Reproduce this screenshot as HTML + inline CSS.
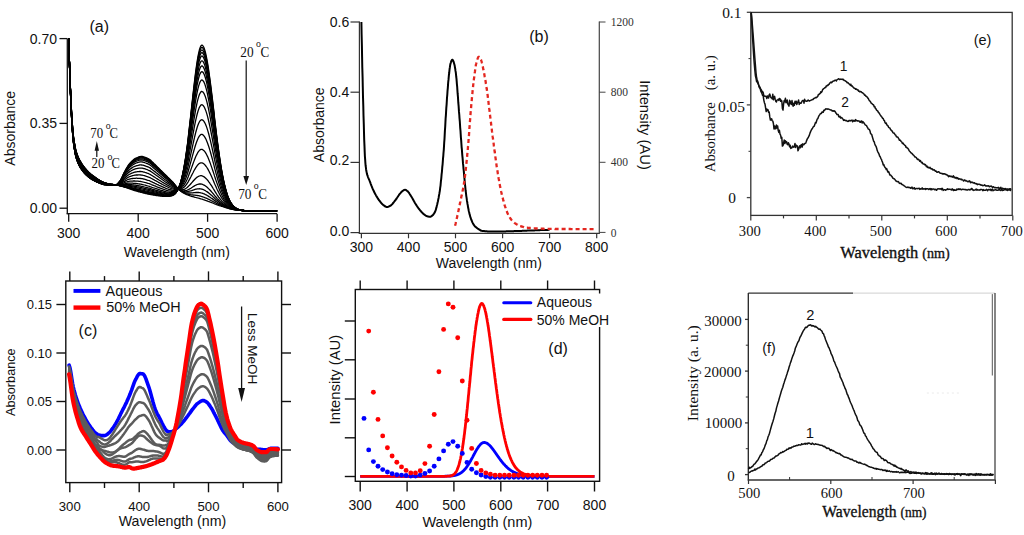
<!DOCTYPE html><html><head><meta charset="utf-8"><style>html,body{margin:0;padding:0;background:#fff;}svg{display:block;}body{overflow:hidden;width:1024px;height:535px;}</style></head><body>
<svg width="1024" height="535" viewBox="0 0 1024 535">
<rect width="1024" height="535" fill="#fff"/>
<line x1="67.3" y1="38.5" x2="67.3" y2="214.3" stroke="#111" stroke-width="1.3" />
<line x1="66.7" y1="213.7" x2="277.0" y2="213.7" stroke="#111" stroke-width="1.3" />
<line x1="59.5" y1="38.6" x2="67.3" y2="38.6" stroke="#111" stroke-width="1.3" />
<text x="57.0" y="43.6" font-size="14" text-anchor="end" font-family="&apos;Liberation Sans&apos;, sans-serif" fill="#111" >0.70</text>
<line x1="59.5" y1="123.4" x2="67.3" y2="123.4" stroke="#111" stroke-width="1.3" />
<text x="57.0" y="128.4" font-size="14" text-anchor="end" font-family="&apos;Liberation Sans&apos;, sans-serif" fill="#111" >0.35</text>
<line x1="59.5" y1="208.2" x2="67.3" y2="208.2" stroke="#111" stroke-width="1.3" />
<text x="57.0" y="213.2" font-size="14" text-anchor="end" font-family="&apos;Liberation Sans&apos;, sans-serif" fill="#111" >0.00</text>
<line x1="68.7" y1="213.7" x2="68.7" y2="221.8" stroke="#111" stroke-width="1.3" />
<text x="68.7" y="238.3" font-size="14" text-anchor="middle" font-family="&apos;Liberation Sans&apos;, sans-serif" fill="#111" >300</text>
<line x1="138.2" y1="213.7" x2="138.2" y2="221.8" stroke="#111" stroke-width="1.3" />
<text x="138.2" y="238.3" font-size="14" text-anchor="middle" font-family="&apos;Liberation Sans&apos;, sans-serif" fill="#111" >400</text>
<line x1="207.6" y1="213.7" x2="207.6" y2="221.8" stroke="#111" stroke-width="1.3" />
<text x="207.6" y="238.3" font-size="14" text-anchor="middle" font-family="&apos;Liberation Sans&apos;, sans-serif" fill="#111" >500</text>
<line x1="277.1" y1="213.7" x2="277.1" y2="221.8" stroke="#111" stroke-width="1.3" />
<text x="277.1" y="238.3" font-size="14" text-anchor="middle" font-family="&apos;Liberation Sans&apos;, sans-serif" fill="#111" >600</text>
<text x="176.8" y="257.0" font-size="14" text-anchor="middle" font-family="&apos;Liberation Sans&apos;, sans-serif" fill="#111" >Wavelength (nm)</text>
<text x="0" y="0" font-size="14" text-anchor="middle" dominant-baseline="central" font-family="&apos;Liberation Sans&apos;, sans-serif" fill="#111" transform="translate(10.3 128.3) rotate(-90)" >Absorbance</text>
<text x="99.2" y="32.2" font-size="16" text-anchor="middle" font-family="&apos;Liberation Sans&apos;, sans-serif" fill="#111" >(a)</text>
<g fill="none" stroke="#000" stroke-width="1.3" stroke-linejoin="round">
<path d="M68.7 38.6L69.4 61.7L70.1 82.2L70.8 100.8L71.5 116.1L72.2 127.8L72.9 137.4L73.6 143.8L74.3 148.5L75.0 152.4L75.6 155.6L76.3 158.2L77.0 160.3L77.7 162.2L78.4 163.8L79.1 165.3L79.8 166.6L80.5 167.9L81.2 168.9L81.9 170.0L82.6 170.9L83.3 171.8L84.0 172.7L84.7 173.4L85.4 174.2L86.1 174.9L86.8 175.5L87.5 176.1L88.1 176.7L88.8 177.3L89.5 177.8L90.2 178.3L90.9 178.7L91.6 179.2L92.3 179.6L93.0 180.0L93.7 180.4L94.4 180.8L95.1 181.1L95.8 181.5L96.5 181.8L97.2 182.1L97.9 182.5L98.6 182.7L99.3 183.0L100.0 183.3L100.6 183.5L101.3 183.8L102.0 184.1L102.7 184.3L103.4 184.5L104.1 184.6L104.8 184.7L105.5 184.7L106.2 184.8L106.9 184.8L107.6 184.9L108.3 184.9L109.0 184.9L109.7 184.9L110.4 184.9L111.1 185.0L111.8 185.0L112.5 185.0L113.1 185.0L113.8 185.0L114.5 185.0L115.2 185.0L115.9 185.1L116.6 185.1L117.3 185.2L118.0 185.3L118.7 185.5L119.4 185.6L120.1 185.8L120.8 186.0L121.5 186.3L122.2 186.5L122.9 186.7L123.6 186.9L124.3 187.1L125.0 187.3L125.6 187.5L126.3 187.7L127.0 188.0L127.7 188.2L128.4 188.4L129.1 188.7L129.8 188.9L130.5 189.2L131.2 189.4L131.9 189.7L132.6 189.9L133.3 190.1L134.0 190.4L134.7 190.6L135.4 190.8L136.1 191.0L136.8 191.2L137.5 191.4L138.2 191.6L138.8 191.8L139.5 192.0L140.2 192.2L140.9 192.3L141.6 192.5L142.3 192.7L143.0 192.9L143.7 193.1L144.4 193.2L145.1 193.4L145.8 193.6L146.5 193.7L147.2 193.9L147.9 194.0L148.6 194.1L149.3 194.3L150.0 194.4L150.7 194.5L151.3 194.7L152.0 194.8L152.7 194.9L153.4 195.0L154.1 195.1L154.8 195.2L155.5 195.4L156.2 195.5L156.9 195.6L157.6 195.7L158.3 195.8L159.0 195.9L159.7 195.9L160.4 196.0L161.1 196.1L161.8 196.2L162.5 196.3L163.2 196.3L163.8 196.4L164.5 196.4L165.2 196.4L165.9 196.4L166.6 196.4L167.3 196.4L168.0 196.4L168.7 196.3L169.4 196.3L170.1 196.2L170.8 196.0L171.5 195.8L172.2 195.6L172.9 195.3L173.6 194.9L174.3 194.4L175.0 193.8L175.7 193.1L176.3 192.2L177.0 191.2L177.7 189.9L178.4 188.4L179.1 186.7L179.8 184.8L180.5 182.6L181.2 180.1L181.9 177.4L182.6 174.3L183.3 170.9L184.0 167.2L184.7 163.2L185.4 158.8L186.1 154.1L186.8 149.1L187.5 143.8L188.2 138.3L188.8 132.4L189.5 126.4L190.2 120.2L190.9 113.8L191.6 107.4L192.3 101.0L193.0 94.6L193.7 88.4L194.4 82.3L195.1 76.4L195.8 70.9L196.5 65.8L197.2 61.1L197.9 56.9L198.6 53.3L199.3 50.3L200.0 47.9L200.7 46.3L201.3 45.3L202.0 45.1L202.7 45.5L203.4 46.5L204.1 48.0L204.8 50.1L205.5 52.7L206.2 55.8L206.9 59.4L207.6 63.3L208.3 67.7L209.0 72.5L209.7 77.5L210.4 82.8L211.1 88.4L211.8 94.1L212.5 99.9L213.2 105.8L213.9 111.7L214.5 117.6L215.2 123.5L215.9 129.3L216.6 135.0L217.3 140.5L218.0 145.8L218.7 151.0L219.4 155.9L220.1 160.6L220.8 165.1L221.5 169.3L222.2 173.3L222.9 176.9L223.6 180.4L224.3 183.6L225.0 186.5L225.7 189.2L226.4 191.6L227.0 193.8L227.7 195.9L228.4 197.7L229.1 199.3L229.8 200.8L230.5 202.1L231.2 203.2L231.9 204.2L232.6 205.2L233.3 205.9L234.0 206.6L234.7 207.3L235.4 207.8L236.1 208.2L236.8 208.6L237.5 209.0L238.2 209.3L238.9 209.5L239.5 209.8L240.2 209.9L240.9 210.1L241.6 210.2L242.3 210.3L243.0 210.4L243.7 210.5L244.4 210.6L245.1 210.7L245.8 210.7L246.5 210.7L247.2 210.8L247.9 210.8L248.6 210.8L249.3 210.8L250.0 210.8L250.7 210.8L251.4 210.8L252.0 210.8L252.7 210.9L253.4 210.9L254.1 210.9L254.8 210.9L255.5 210.9L256.2 210.9L256.9 210.9L257.6 210.9L258.3 210.9L259.0 210.9L259.7 210.9L260.4 210.9L261.1 210.9L261.8 210.9L262.5 210.9L263.2 210.9L263.9 210.9L264.5 210.9L265.2 210.9L265.9 210.9L266.6 210.9L267.3 210.9L268.0 210.9L268.7 210.9L269.4 210.9L270.1 210.9L270.8 210.9L271.5 210.9L272.2 210.9L272.9 210.9L273.6 210.9L274.3 210.9L275.0 210.9L275.7 210.9L276.4 210.9L277.1 210.9"/>
<path d="M68.7 38.6L69.4 61.7L70.1 82.2L70.8 100.8L71.5 116.1L72.2 127.7L72.9 137.3L73.6 143.7L74.3 148.4L75.0 152.3L75.6 155.5L76.3 158.1L77.0 160.2L77.7 162.1L78.4 163.7L79.1 165.2L79.8 166.6L80.5 167.8L81.2 168.9L81.9 169.9L82.6 170.8L83.3 171.7L84.0 172.6L84.7 173.4L85.4 174.1L86.1 174.8L86.8 175.4L87.5 176.0L88.1 176.6L88.8 177.2L89.5 177.7L90.2 178.2L90.9 178.7L91.6 179.1L92.3 179.6L93.0 180.0L93.7 180.4L94.4 180.7L95.1 181.1L95.8 181.4L96.5 181.8L97.2 182.1L97.9 182.4L98.6 182.7L99.3 183.0L100.0 183.2L100.6 183.5L101.3 183.8L102.0 184.0L102.7 184.2L103.4 184.4L104.1 184.6L104.8 184.7L105.5 184.7L106.2 184.8L106.9 184.8L107.6 184.8L108.3 184.9L109.0 184.9L109.7 184.9L110.4 184.9L111.1 184.9L111.8 185.0L112.5 185.0L113.1 185.0L113.8 185.0L114.5 185.0L115.2 185.0L115.9 185.1L116.6 185.1L117.3 185.2L118.0 185.3L118.7 185.4L119.4 185.6L120.1 185.8L120.8 186.0L121.5 186.1L122.2 186.3L122.9 186.5L123.6 186.7L124.3 186.9L125.0 187.1L125.6 187.3L126.3 187.5L127.0 187.7L127.7 187.9L128.4 188.1L129.1 188.3L129.8 188.5L130.5 188.8L131.2 189.0L131.9 189.2L132.6 189.5L133.3 189.7L134.0 189.9L134.7 190.1L135.4 190.3L136.1 190.5L136.8 190.7L137.5 190.9L138.2 191.1L138.8 191.3L139.5 191.4L140.2 191.6L140.9 191.8L141.6 192.0L142.3 192.2L143.0 192.3L143.7 192.5L144.4 192.7L145.1 192.8L145.8 193.0L146.5 193.2L147.2 193.3L147.9 193.5L148.6 193.6L149.3 193.8L150.0 193.9L150.7 194.0L151.3 194.2L152.0 194.3L152.7 194.4L153.4 194.5L154.1 194.7L154.8 194.8L155.5 194.9L156.2 195.0L156.9 195.1L157.6 195.2L158.3 195.3L159.0 195.4L159.7 195.5L160.4 195.6L161.1 195.7L161.8 195.8L162.5 195.9L163.2 196.0L163.8 196.0L164.5 196.1L165.2 196.1L165.9 196.1L166.6 196.1L167.3 196.1L168.0 196.1L168.7 196.1L169.4 196.0L170.1 195.9L170.8 195.8L171.5 195.6L172.2 195.4L172.9 195.1L173.6 194.8L174.3 194.3L175.0 193.7L175.7 193.0L176.3 192.1L177.0 191.1L177.7 189.9L178.4 188.4L179.1 186.8L179.8 184.9L180.5 182.7L181.2 180.3L181.9 177.6L182.6 174.6L183.3 171.3L184.0 167.6L184.7 163.6L185.4 159.4L186.1 154.7L186.8 149.8L187.5 144.6L188.2 139.1L188.8 133.4L189.5 127.4L190.2 121.3L190.9 115.1L191.6 108.8L192.3 102.4L193.0 96.2L193.7 90.0L194.4 84.0L195.1 78.3L195.8 72.8L196.5 67.8L197.2 63.1L197.9 59.0L198.6 55.5L199.3 52.5L200.0 50.2L200.7 48.5L201.3 47.6L202.0 47.4L202.7 47.8L203.4 48.8L204.1 50.3L204.8 52.4L205.5 54.9L206.2 58.0L206.9 61.5L207.6 65.4L208.3 69.7L209.0 74.4L209.7 79.4L210.4 84.6L211.1 90.1L211.8 95.7L212.5 101.4L213.2 107.2L213.9 113.1L214.5 118.9L215.2 124.7L215.9 130.4L216.6 136.0L217.3 141.5L218.0 146.7L218.7 151.8L219.4 156.7L220.1 161.3L220.8 165.7L221.5 169.9L222.2 173.8L222.9 177.4L223.6 180.8L224.3 183.9L225.0 186.8L225.7 189.4L226.4 191.9L227.0 194.1L227.7 196.0L228.4 197.8L229.1 199.4L229.8 200.9L230.5 202.2L231.2 203.3L231.9 204.3L232.6 205.2L233.3 206.0L234.0 206.7L234.7 207.3L235.4 207.8L236.1 208.3L236.8 208.7L237.5 209.0L238.2 209.3L238.9 209.5L239.5 209.8L240.2 209.9L240.9 210.1L241.6 210.2L242.3 210.4L243.0 210.4L243.7 210.5L244.4 210.6L245.1 210.7L245.8 210.7L246.5 210.7L247.2 210.8L247.9 210.8L248.6 210.8L249.3 210.8L250.0 210.8L250.7 210.8L251.4 210.8L252.0 210.8L252.7 210.9L253.4 210.9L254.1 210.9L254.8 210.9L255.5 210.9L256.2 210.9L256.9 210.9L257.6 210.9L258.3 210.9L259.0 210.9L259.7 210.9L260.4 210.9L261.1 210.9L261.8 210.9L262.5 210.9L263.2 210.9L263.9 210.9L264.5 210.9L265.2 210.9L265.9 210.9L266.6 210.9L267.3 210.9L268.0 210.9L268.7 210.9L269.4 210.9L270.1 210.9L270.8 210.9L271.5 210.9L272.2 210.9L272.9 210.9L273.6 210.9L274.3 210.9L275.0 210.9L275.7 210.9L276.4 210.9L277.1 210.9"/>
<path d="M68.7 38.6L69.4 61.7L70.1 82.2L70.8 100.7L71.5 116.0L72.2 127.6L72.9 137.2L73.6 143.6L74.3 148.3L75.0 152.2L75.6 155.4L76.3 158.0L77.0 160.1L77.7 162.0L78.4 163.6L79.1 165.1L79.8 166.4L80.5 167.7L81.2 168.8L81.9 169.8L82.6 170.7L83.3 171.6L84.0 172.5L84.7 173.3L85.4 174.0L86.1 174.7L86.8 175.3L87.5 176.0L88.1 176.5L88.8 177.1L89.5 177.6L90.2 178.1L90.9 178.6L91.6 179.0L92.3 179.5L93.0 179.9L93.7 180.3L94.4 180.7L95.1 181.0L95.8 181.4L96.5 181.7L97.2 182.0L97.9 182.3L98.6 182.6L99.3 182.9L100.0 183.2L100.6 183.4L101.3 183.7L102.0 184.0L102.7 184.2L103.4 184.4L104.1 184.5L104.8 184.6L105.5 184.7L106.2 184.7L106.9 184.8L107.6 184.8L108.3 184.8L109.0 184.9L109.7 184.9L110.4 184.9L111.1 184.9L111.8 185.0L112.5 185.0L113.1 185.0L113.8 185.0L114.5 185.0L115.2 185.0L115.9 185.0L116.6 185.1L117.3 185.2L118.0 185.3L118.7 185.4L119.4 185.5L120.1 185.7L120.8 185.8L121.5 186.0L122.2 186.2L122.9 186.3L123.6 186.5L124.3 186.6L125.0 186.8L125.6 187.0L126.3 187.1L127.0 187.3L127.7 187.5L128.4 187.7L129.1 187.9L129.8 188.1L130.5 188.3L131.2 188.5L131.9 188.7L132.6 189.0L133.3 189.2L134.0 189.4L134.7 189.6L135.4 189.8L136.1 189.9L136.8 190.1L137.5 190.3L138.2 190.5L138.8 190.7L139.5 190.8L140.2 191.0L140.9 191.2L141.6 191.4L142.3 191.5L143.0 191.7L143.7 191.9L144.4 192.1L145.1 192.2L145.8 192.4L146.5 192.6L147.2 192.7L147.9 192.9L148.6 193.0L149.3 193.2L150.0 193.3L150.7 193.4L151.3 193.6L152.0 193.7L152.7 193.9L153.4 194.0L154.1 194.1L154.8 194.3L155.5 194.4L156.2 194.5L156.9 194.6L157.6 194.7L158.3 194.9L159.0 195.0L159.7 195.1L160.4 195.2L161.1 195.3L161.8 195.4L162.5 195.5L163.2 195.6L163.8 195.6L164.5 195.7L165.2 195.7L165.9 195.8L166.6 195.8L167.3 195.8L168.0 195.8L168.7 195.8L169.4 195.7L170.1 195.6L170.8 195.5L171.5 195.4L172.2 195.2L172.9 194.9L173.6 194.6L174.3 194.1L175.0 193.6L175.7 192.9L176.3 192.0L177.0 191.0L177.7 189.8L178.4 188.4L179.1 186.8L179.8 185.0L180.5 182.9L181.2 180.5L181.9 177.8L182.6 174.9L183.3 171.6L184.0 168.1L184.7 164.2L185.4 160.0L186.1 155.4L186.8 150.6L187.5 145.5L188.2 140.1L188.8 134.5L189.5 128.6L190.2 122.6L190.9 116.5L191.6 110.3L192.3 104.1L193.0 97.9L193.7 91.8L194.4 86.0L195.1 80.3L195.8 75.0L196.5 70.0L197.2 65.5L197.9 61.4L198.6 57.9L199.3 55.0L200.0 52.8L200.7 51.1L201.3 50.2L202.0 50.0L202.7 50.4L203.4 51.4L204.1 52.9L204.8 54.9L205.5 57.4L206.2 60.4L206.9 63.9L207.6 67.8L208.3 72.0L209.0 76.6L209.7 81.5L210.4 86.7L211.1 92.0L211.8 97.5L212.5 103.2L213.2 108.9L213.9 114.7L214.5 120.4L215.2 126.1L215.9 131.7L216.6 137.2L217.3 142.6L218.0 147.7L218.7 152.7L219.4 157.5L220.1 162.1L220.8 166.4L221.5 170.5L222.2 174.3L222.9 177.9L223.6 181.2L224.3 184.3L225.0 187.2L225.7 189.8L226.4 192.1L227.0 194.3L227.7 196.3L228.4 198.0L229.1 199.6L229.8 201.0L230.5 202.3L231.2 203.4L231.9 204.4L232.6 205.3L233.3 206.1L234.0 206.7L234.7 207.3L235.4 207.9L236.1 208.3L236.8 208.7L237.5 209.0L238.2 209.3L238.9 209.6L239.5 209.8L240.2 210.0L240.9 210.1L241.6 210.2L242.3 210.4L243.0 210.4L243.7 210.5L244.4 210.6L245.1 210.7L245.8 210.7L246.5 210.7L247.2 210.8L247.9 210.8L248.6 210.8L249.3 210.8L250.0 210.8L250.7 210.8L251.4 210.8L252.0 210.8L252.7 210.9L253.4 210.9L254.1 210.9L254.8 210.9L255.5 210.9L256.2 210.9L256.9 210.9L257.6 210.9L258.3 210.9L259.0 210.9L259.7 210.9L260.4 210.9L261.1 210.9L261.8 210.9L262.5 210.9L263.2 210.9L263.9 210.9L264.5 210.9L265.2 210.9L265.9 210.9L266.6 210.9L267.3 210.9L268.0 210.9L268.7 210.9L269.4 210.9L270.1 210.9L270.8 210.9L271.5 210.9L272.2 210.9L272.9 210.9L273.6 210.9L274.3 210.9L275.0 210.9L275.7 210.9L276.4 210.9L277.1 210.9"/>
<path d="M68.7 38.6L69.4 61.7L70.1 82.1L70.8 100.7L71.5 115.9L72.2 127.5L72.9 137.1L73.6 143.5L74.3 148.2L75.0 152.1L75.6 155.3L76.3 157.9L77.0 160.0L77.7 161.9L78.4 163.5L79.1 165.0L79.8 166.3L80.5 167.5L81.2 168.6L81.9 169.7L82.6 170.6L83.3 171.5L84.0 172.4L84.7 173.2L85.4 173.9L86.1 174.6L86.8 175.2L87.5 175.9L88.1 176.5L88.8 177.0L89.5 177.5L90.2 178.0L90.9 178.5L91.6 179.0L92.3 179.4L93.0 179.8L93.7 180.2L94.4 180.6L95.1 181.0L95.8 181.3L96.5 181.7L97.2 182.0L97.9 182.3L98.6 182.6L99.3 182.9L100.0 183.1L100.6 183.4L101.3 183.7L102.0 183.9L102.7 184.2L103.4 184.4L104.1 184.5L104.8 184.6L105.5 184.7L106.2 184.7L106.9 184.8L107.6 184.8L108.3 184.8L109.0 184.9L109.7 184.9L110.4 184.9L111.1 184.9L111.8 184.9L112.5 185.0L113.1 185.0L113.8 185.0L114.5 185.0L115.2 185.0L115.9 185.0L116.6 185.1L117.3 185.1L118.0 185.2L118.7 185.3L119.4 185.5L120.1 185.6L120.8 185.7L121.5 185.9L122.2 186.0L122.9 186.1L123.6 186.3L124.3 186.4L125.0 186.5L125.6 186.7L126.3 186.8L127.0 187.0L127.7 187.1L128.4 187.3L129.1 187.5L129.8 187.7L130.5 187.9L131.2 188.1L131.9 188.3L132.6 188.5L133.3 188.6L134.0 188.8L134.7 189.0L135.4 189.2L136.1 189.4L136.8 189.6L137.5 189.7L138.2 189.9L138.8 190.1L139.5 190.2L140.2 190.4L140.9 190.6L141.6 190.8L142.3 190.9L143.0 191.1L143.7 191.3L144.4 191.4L145.1 191.6L145.8 191.8L146.5 191.9L147.2 192.1L147.9 192.3L148.6 192.4L149.3 192.6L150.0 192.7L150.7 192.9L151.3 193.0L152.0 193.2L152.7 193.3L153.4 193.4L154.1 193.6L154.8 193.7L155.5 193.9L156.2 194.0L156.9 194.1L157.6 194.3L158.3 194.4L159.0 194.5L159.7 194.6L160.4 194.8L161.1 194.9L161.8 195.0L162.5 195.1L163.2 195.2L163.8 195.2L164.5 195.3L165.2 195.4L165.9 195.4L166.6 195.4L167.3 195.5L168.0 195.5L168.7 195.4L169.4 195.4L170.1 195.3L170.8 195.2L171.5 195.1L172.2 194.9L172.9 194.7L173.6 194.3L174.3 193.9L175.0 193.4L175.7 192.8L176.3 192.0L177.0 191.0L177.7 189.8L178.4 188.5L179.1 186.9L179.8 185.1L180.5 183.0L181.2 180.7L181.9 178.1L182.6 175.2L183.3 172.0L184.0 168.5L184.7 164.7L185.4 160.6L186.1 156.1L186.8 151.4L187.5 146.3L188.2 141.1L188.8 135.5L189.5 129.8L190.2 123.9L190.9 117.9L191.6 111.8L192.3 105.7L193.0 99.6L193.7 93.7L194.4 87.9L195.1 82.4L195.8 77.1L196.5 72.3L197.2 67.8L197.9 63.8L198.6 60.4L199.3 57.6L200.0 55.3L200.7 53.7L201.3 52.9L202.0 52.6L202.7 53.1L203.4 54.0L204.1 55.5L204.8 57.5L205.5 60.0L206.2 62.9L206.9 66.3L207.6 70.1L208.3 74.3L209.0 78.8L209.7 83.6L210.4 88.7L211.1 94.0L211.8 99.4L212.5 104.9L213.2 110.6L213.9 116.2L214.5 121.9L215.2 127.5L215.9 133.0L216.6 138.4L217.3 143.7L218.0 148.8L218.7 153.7L219.4 158.4L220.1 162.9L220.8 167.1L221.5 171.1L222.2 174.9L222.9 178.4L223.6 181.7L224.3 184.7L225.0 187.5L225.7 190.1L226.4 192.4L227.0 194.5L227.7 196.5L228.4 198.2L229.1 199.8L229.8 201.2L230.5 202.4L231.2 203.5L231.9 204.5L232.6 205.4L233.3 206.1L234.0 206.8L234.7 207.4L235.4 207.9L236.1 208.3L236.8 208.7L237.5 209.0L238.2 209.3L238.9 209.6L239.5 209.8L240.2 210.0L240.9 210.1L241.6 210.2L242.3 210.4L243.0 210.5L243.7 210.5L244.4 210.6L245.1 210.7L245.8 210.7L246.5 210.7L247.2 210.8L247.9 210.8L248.6 210.8L249.3 210.8L250.0 210.8L250.7 210.8L251.4 210.8L252.0 210.8L252.7 210.9L253.4 210.9L254.1 210.9L254.8 210.9L255.5 210.9L256.2 210.9L256.9 210.9L257.6 210.9L258.3 210.9L259.0 210.9L259.7 210.9L260.4 210.9L261.1 210.9L261.8 210.9L262.5 210.9L263.2 210.9L263.9 210.9L264.5 210.9L265.2 210.9L265.9 210.9L266.6 210.9L267.3 210.9L268.0 210.9L268.7 210.9L269.4 210.9L270.1 210.9L270.8 210.9L271.5 210.9L272.2 210.9L272.9 210.9L273.6 210.9L274.3 210.9L275.0 210.9L275.7 210.9L276.4 210.9L277.1 210.9"/>
<path d="M68.7 38.6L69.4 61.7L70.1 82.1L70.8 100.6L71.5 115.8L72.2 127.4L72.9 136.9L73.6 143.4L74.3 148.1L75.0 152.0L75.6 155.2L76.3 157.8L77.0 159.9L77.7 161.7L78.4 163.4L79.1 164.9L79.8 166.2L80.5 167.4L81.2 168.5L81.9 169.5L82.6 170.5L83.3 171.4L84.0 172.3L84.7 173.0L85.4 173.8L86.1 174.5L86.8 175.1L87.5 175.8L88.1 176.3L88.8 176.9L89.5 177.4L90.2 177.9L90.9 178.4L91.6 178.9L92.3 179.3L93.0 179.7L93.7 180.1L94.4 180.5L95.1 180.9L95.8 181.2L96.5 181.6L97.2 181.9L97.9 182.2L98.6 182.5L99.3 182.8L100.0 183.1L100.6 183.3L101.3 183.6L102.0 183.9L102.7 184.1L103.4 184.3L104.1 184.5L104.8 184.6L105.5 184.6L106.2 184.7L106.9 184.7L107.6 184.8L108.3 184.8L109.0 184.8L109.7 184.9L110.4 184.9L111.1 184.9L111.8 184.9L112.5 184.9L113.1 185.0L113.8 185.0L114.5 185.0L115.2 185.0L115.9 185.0L116.6 185.1L117.3 185.1L118.0 185.2L118.7 185.3L119.4 185.4L120.1 185.5L120.8 185.6L121.5 185.7L122.2 185.8L122.9 185.9L123.6 186.0L124.3 186.1L125.0 186.2L125.6 186.3L126.3 186.4L127.0 186.5L127.7 186.6L128.4 186.8L129.1 186.9L129.8 187.1L130.5 187.3L131.2 187.5L131.9 187.6L132.6 187.8L133.3 188.0L134.0 188.2L134.7 188.3L135.4 188.5L136.1 188.7L136.8 188.8L137.5 189.0L138.2 189.1L138.8 189.3L139.5 189.5L140.2 189.6L140.9 189.8L141.6 190.0L142.3 190.1L143.0 190.3L143.7 190.5L144.4 190.6L145.1 190.8L145.8 191.0L146.5 191.2L147.2 191.3L147.9 191.5L148.6 191.6L149.3 191.8L150.0 191.9L150.7 192.1L151.3 192.3L152.0 192.4L152.7 192.6L153.4 192.7L154.1 192.9L154.8 193.0L155.5 193.2L156.2 193.3L156.9 193.5L157.6 193.6L158.3 193.8L159.0 193.9L159.7 194.0L160.4 194.2L161.1 194.3L161.8 194.4L162.5 194.5L163.2 194.6L163.8 194.7L164.5 194.8L165.2 194.9L165.9 194.9L166.6 195.0L167.3 195.0L168.0 195.0L168.7 195.0L169.4 195.0L170.1 195.0L170.8 194.9L171.5 194.8L172.2 194.6L172.9 194.4L173.6 194.1L174.3 193.7L175.0 193.2L175.7 192.6L176.3 191.8L177.0 190.9L177.7 189.8L178.4 188.5L179.1 186.9L179.8 185.2L180.5 183.2L181.2 180.9L181.9 178.4L182.6 175.6L183.3 172.5L184.0 169.1L184.7 165.4L185.4 161.3L186.1 157.0L186.8 152.4L187.5 147.5L188.2 142.3L188.8 136.9L189.5 131.3L190.2 125.6L190.9 119.7L191.6 113.8L192.3 107.8L193.0 101.9L193.7 96.1L194.4 90.5L195.1 85.0L195.8 79.9L196.5 75.2L197.2 70.8L197.9 67.0L198.6 63.6L199.3 60.8L200.0 58.7L200.7 57.1L201.3 56.2L202.0 56.0L202.7 56.4L203.4 57.4L204.1 58.8L204.8 60.8L205.5 63.2L206.2 66.1L206.9 69.4L207.6 73.2L208.3 77.2L209.0 81.7L209.7 86.4L210.4 91.3L211.1 96.5L211.8 101.8L212.5 107.2L213.2 112.7L213.9 118.2L214.5 123.8L215.2 129.2L215.9 134.6L216.6 139.9L217.3 145.1L218.0 150.1L218.7 154.9L219.4 159.5L220.1 163.9L220.8 168.0L221.5 171.9L222.2 175.6L222.9 179.1L223.6 182.3L224.3 185.2L225.0 188.0L225.7 190.5L226.4 192.8L227.0 194.9L227.7 196.7L228.4 198.4L229.1 200.0L229.8 201.3L230.5 202.6L231.2 203.6L231.9 204.6L232.6 205.5L233.3 206.2L234.0 206.9L234.7 207.4L235.4 207.9L236.1 208.4L236.8 208.7L237.5 209.1L238.2 209.3L238.9 209.6L239.5 209.8L240.2 210.0L240.9 210.1L241.6 210.3L242.3 210.4L243.0 210.5L243.7 210.5L244.4 210.6L245.1 210.7L245.8 210.7L246.5 210.7L247.2 210.8L247.9 210.8L248.6 210.8L249.3 210.8L250.0 210.8L250.7 210.8L251.4 210.8L252.0 210.8L252.7 210.9L253.4 210.9L254.1 210.9L254.8 210.9L255.5 210.9L256.2 210.9L256.9 210.9L257.6 210.9L258.3 210.9L259.0 210.9L259.7 210.9L260.4 210.9L261.1 210.9L261.8 210.9L262.5 210.9L263.2 210.9L263.9 210.9L264.5 210.9L265.2 210.9L265.9 210.9L266.6 210.9L267.3 210.9L268.0 210.9L268.7 210.9L269.4 210.9L270.1 210.9L270.8 210.9L271.5 210.9L272.2 210.9L272.9 210.9L273.6 210.9L274.3 210.9L275.0 210.9L275.7 210.9L276.4 210.9L277.1 210.9"/>
<path d="M68.7 38.6L69.4 61.7L70.1 82.1L70.8 100.5L71.5 115.6L72.2 127.2L72.9 136.8L73.6 143.2L74.3 147.9L75.0 151.8L75.6 155.0L76.3 157.6L77.0 159.7L77.7 161.5L78.4 163.2L79.1 164.7L79.8 166.0L80.5 167.2L81.2 168.3L81.9 169.3L82.6 170.3L83.3 171.2L84.0 172.1L84.7 172.9L85.4 173.6L86.1 174.3L86.8 175.0L87.5 175.6L88.1 176.2L88.8 176.7L89.5 177.3L90.2 177.8L90.9 178.3L91.6 178.7L92.3 179.2L93.0 179.6L93.7 180.0L94.4 180.4L95.1 180.8L95.8 181.1L96.5 181.5L97.2 181.8L97.9 182.1L98.6 182.4L99.3 182.7L100.0 183.0L100.6 183.3L101.3 183.5L102.0 183.8L102.7 184.0L103.4 184.2L104.1 184.4L104.8 184.5L105.5 184.6L106.2 184.6L106.9 184.7L107.6 184.7L108.3 184.8L109.0 184.8L109.7 184.8L110.4 184.9L111.1 184.9L111.8 184.9L112.5 184.9L113.1 184.9L113.8 185.0L114.5 185.0L115.2 185.0L115.9 185.0L116.6 185.0L117.3 185.1L118.0 185.1L118.7 185.2L119.4 185.2L120.1 185.3L120.8 185.4L121.5 185.5L122.2 185.5L122.9 185.5L123.6 185.6L124.3 185.6L125.0 185.7L125.6 185.7L126.3 185.8L127.0 185.9L127.7 186.0L128.4 186.1L129.1 186.2L129.8 186.3L130.5 186.5L131.2 186.6L131.9 186.7L132.6 186.9L133.3 187.0L134.0 187.2L134.7 187.3L135.4 187.5L136.1 187.6L136.8 187.8L137.5 187.9L138.2 188.1L138.8 188.2L139.5 188.4L140.2 188.5L140.9 188.7L141.6 188.8L142.3 189.0L143.0 189.2L143.7 189.4L144.4 189.5L145.1 189.7L145.8 189.9L146.5 190.0L147.2 190.2L147.9 190.4L148.6 190.5L149.3 190.7L150.0 190.9L150.7 191.0L151.3 191.2L152.0 191.4L152.7 191.6L153.4 191.7L154.1 191.9L154.8 192.1L155.5 192.2L156.2 192.4L156.9 192.6L157.6 192.7L158.3 192.9L159.0 193.1L159.7 193.2L160.4 193.4L161.1 193.5L161.8 193.6L162.5 193.8L163.2 193.9L163.8 194.0L164.5 194.1L165.2 194.2L165.9 194.3L166.6 194.3L167.3 194.4L168.0 194.4L168.7 194.5L169.4 194.5L170.1 194.4L170.8 194.4L171.5 194.3L172.2 194.2L172.9 194.0L173.6 193.7L174.3 193.4L175.0 192.9L175.7 192.4L176.3 191.7L177.0 190.8L177.7 189.7L178.4 188.5L179.1 187.0L179.8 185.4L180.5 183.5L181.2 181.3L181.9 178.9L182.6 176.2L183.3 173.2L184.0 169.9L184.7 166.3L185.4 162.4L186.1 158.2L186.8 153.8L187.5 149.1L188.2 144.1L188.8 138.9L189.5 133.5L190.2 127.9L190.9 122.3L191.6 116.5L192.3 110.8L193.0 105.1L193.7 99.5L194.4 94.0L195.1 88.8L195.8 83.9L196.5 79.3L197.2 75.1L197.9 71.3L198.6 68.1L199.3 65.4L200.0 63.3L200.7 61.9L201.3 61.0L202.0 60.8L202.7 61.2L203.4 62.1L204.1 63.5L204.8 65.4L205.5 67.8L206.2 70.6L206.9 73.8L207.6 77.4L208.3 81.4L209.0 85.7L209.7 90.2L210.4 95.0L211.1 100.0L211.8 105.2L212.5 110.4L213.2 115.7L213.9 121.1L214.5 126.4L215.2 131.8L215.9 137.0L216.6 142.1L217.3 147.1L218.0 151.9L218.7 156.6L219.4 161.0L220.1 165.3L220.8 169.3L221.5 173.1L222.2 176.7L222.9 180.0L223.6 183.1L224.3 186.0L225.0 188.6L225.7 191.1L226.4 193.3L227.0 195.3L227.7 197.1L228.4 198.8L229.1 200.3L229.8 201.6L230.5 202.8L231.2 203.8L231.9 204.8L232.6 205.6L233.3 206.3L234.0 206.9L234.7 207.5L235.4 208.0L236.1 208.4L236.8 208.8L237.5 209.1L238.2 209.4L238.9 209.6L239.5 209.8L240.2 210.0L240.9 210.1L241.6 210.3L242.3 210.4L243.0 210.5L243.7 210.5L244.4 210.6L245.1 210.7L245.8 210.7L246.5 210.7L247.2 210.8L247.9 210.8L248.6 210.8L249.3 210.8L250.0 210.8L250.7 210.8L251.4 210.8L252.0 210.9L252.7 210.9L253.4 210.9L254.1 210.9L254.8 210.9L255.5 210.9L256.2 210.9L256.9 210.9L257.6 210.9L258.3 210.9L259.0 210.9L259.7 210.9L260.4 210.9L261.1 210.9L261.8 210.9L262.5 210.9L263.2 210.9L263.9 210.9L264.5 210.9L265.2 210.9L265.9 210.9L266.6 210.9L267.3 210.9L268.0 210.9L268.7 210.9L269.4 210.9L270.1 210.9L270.8 210.9L271.5 210.9L272.2 210.9L272.9 210.9L273.6 210.9L274.3 210.9L275.0 210.9L275.7 210.9L276.4 210.9L277.1 210.9"/>
<path d="M68.7 38.6L69.4 61.7L70.1 82.0L70.8 100.4L71.5 115.5L72.2 127.1L72.9 136.6L73.6 143.0L74.3 147.7L75.0 151.6L75.6 154.8L76.3 157.4L77.0 159.5L77.7 161.3L78.4 163.0L79.1 164.5L79.8 165.8L80.5 167.0L81.2 168.1L81.9 169.1L82.6 170.1L83.3 171.0L84.0 171.9L84.7 172.7L85.4 173.4L86.1 174.1L86.8 174.8L87.5 175.4L88.1 176.0L88.8 176.6L89.5 177.1L90.2 177.6L90.9 178.1L91.6 178.6L92.3 179.0L93.0 179.5L93.7 179.9L94.4 180.3L95.1 180.6L95.8 181.0L96.5 181.4L97.2 181.7L97.9 182.0L98.6 182.3L99.3 182.6L100.0 182.9L100.6 183.2L101.3 183.5L102.0 183.7L102.7 184.0L103.4 184.2L104.1 184.3L104.8 184.4L105.5 184.5L106.2 184.6L106.9 184.6L107.6 184.7L108.3 184.7L109.0 184.8L109.7 184.8L110.4 184.8L111.1 184.9L111.8 184.9L112.5 184.9L113.1 184.9L113.8 185.0L114.5 185.0L115.2 185.0L115.9 185.0L116.6 185.0L117.3 185.0L118.0 185.1L118.7 185.1L119.4 185.1L120.1 185.2L120.8 185.2L121.5 185.2L122.2 185.2L122.9 185.2L123.6 185.1L124.3 185.1L125.0 185.1L125.6 185.1L126.3 185.2L127.0 185.2L127.7 185.2L128.4 185.3L129.1 185.4L129.8 185.5L130.5 185.6L131.2 185.7L131.9 185.8L132.6 185.9L133.3 186.0L134.0 186.2L134.7 186.3L135.4 186.4L136.1 186.5L136.8 186.7L137.5 186.8L138.2 186.9L138.8 187.1L139.5 187.2L140.2 187.3L140.9 187.5L141.6 187.6L142.3 187.8L143.0 188.0L143.7 188.2L144.4 188.3L145.1 188.5L145.8 188.7L146.5 188.9L147.2 189.0L147.9 189.2L148.6 189.4L149.3 189.5L150.0 189.7L150.7 189.9L151.3 190.1L152.0 190.3L152.7 190.5L153.4 190.7L154.1 190.9L154.8 191.1L155.5 191.2L156.2 191.4L156.9 191.6L157.6 191.8L158.3 192.0L159.0 192.1L159.7 192.3L160.4 192.5L161.1 192.7L161.8 192.8L162.5 193.0L163.2 193.1L163.8 193.2L164.5 193.4L165.2 193.5L165.9 193.6L166.6 193.7L167.3 193.8L168.0 193.8L168.7 193.9L169.4 193.9L170.1 193.9L170.8 193.9L171.5 193.8L172.2 193.7L172.9 193.6L173.6 193.3L174.3 193.0L175.0 192.6L175.7 192.1L176.3 191.5L177.0 190.7L177.7 189.7L178.4 188.5L179.1 187.1L179.8 185.5L180.5 183.7L181.2 181.7L181.9 179.4L182.6 176.8L183.3 173.9L184.0 170.8L184.7 167.3L185.4 163.6L186.1 159.6L186.8 155.3L187.5 150.8L188.2 146.0L188.8 141.0L189.5 135.8L190.2 130.4L190.9 125.0L191.6 119.5L192.3 113.9L193.0 108.5L193.7 103.1L194.4 97.8L195.1 92.8L195.8 88.1L196.5 83.6L197.2 79.6L197.9 76.0L198.6 72.9L199.3 70.3L200.0 68.3L200.7 66.9L201.3 66.1L202.0 65.9L202.7 66.3L203.4 67.2L204.1 68.6L204.8 70.4L205.5 72.7L206.2 75.4L206.9 78.5L207.6 82.0L208.3 85.8L209.0 90.0L209.7 94.4L210.4 99.0L211.1 103.8L211.8 108.8L212.5 113.8L213.2 119.0L213.9 124.1L214.5 129.3L215.2 134.4L215.9 139.5L216.6 144.4L217.3 149.2L218.0 153.9L218.7 158.4L219.4 162.7L220.1 166.8L220.8 170.6L221.5 174.3L222.2 177.8L222.9 181.0L223.6 184.0L224.3 186.8L225.0 189.3L225.7 191.7L226.4 193.8L227.0 195.8L227.7 197.5L228.4 199.1L229.1 200.6L229.8 201.8L230.5 203.0L231.2 204.0L231.9 204.9L232.6 205.7L233.3 206.4L234.0 207.0L234.7 207.6L235.4 208.1L236.1 208.5L236.8 208.8L237.5 209.1L238.2 209.4L238.9 209.6L239.5 209.8L240.2 210.0L240.9 210.1L241.6 210.3L242.3 210.4L243.0 210.5L243.7 210.5L244.4 210.6L245.1 210.7L245.8 210.7L246.5 210.7L247.2 210.8L247.9 210.8L248.6 210.8L249.3 210.8L250.0 210.8L250.7 210.8L251.4 210.8L252.0 210.9L252.7 210.9L253.4 210.9L254.1 210.9L254.8 210.9L255.5 210.9L256.2 210.9L256.9 210.9L257.6 210.9L258.3 210.9L259.0 210.9L259.7 210.9L260.4 210.9L261.1 210.9L261.8 210.9L262.5 210.9L263.2 210.9L263.9 210.9L264.5 210.9L265.2 210.9L265.9 210.9L266.6 210.9L267.3 210.9L268.0 210.9L268.7 210.9L269.4 210.9L270.1 210.9L270.8 210.9L271.5 210.9L272.2 210.9L272.9 210.9L273.6 210.9L274.3 210.9L275.0 210.9L275.7 210.9L276.4 210.9L277.1 210.9"/>
<path d="M68.7 38.6L69.4 61.6L70.1 82.0L70.8 100.3L71.5 115.3L72.2 126.8L72.9 136.3L73.6 142.8L74.3 147.4L75.0 151.3L75.6 154.5L76.3 157.1L77.0 159.3L77.7 161.1L78.4 162.8L79.1 164.2L79.8 165.6L80.5 166.8L81.2 167.9L81.9 168.9L82.6 169.9L83.3 170.8L84.0 171.7L84.7 172.5L85.4 173.2L86.1 173.9L86.8 174.6L87.5 175.2L88.1 175.8L88.8 176.4L89.5 176.9L90.2 177.5L90.9 178.0L91.6 178.4L92.3 178.9L93.0 179.3L93.7 179.7L94.4 180.1L95.1 180.5L95.8 180.9L96.5 181.2L97.2 181.6L97.9 181.9L98.6 182.2L99.3 182.5L100.0 182.8L100.6 183.1L101.3 183.4L102.0 183.6L102.7 183.9L103.4 184.1L104.1 184.2L104.8 184.4L105.5 184.4L106.2 184.5L106.9 184.6L107.6 184.6L108.3 184.7L109.0 184.7L109.7 184.8L110.4 184.8L111.1 184.8L111.8 184.9L112.5 184.9L113.1 184.9L113.8 184.9L114.5 185.0L115.2 185.0L115.9 185.0L116.6 185.0L117.3 185.0L118.0 185.0L118.7 185.0L119.4 185.0L120.1 185.0L120.8 185.0L121.5 184.9L122.2 184.8L122.9 184.7L123.6 184.6L124.3 184.6L125.0 184.5L125.6 184.5L126.3 184.5L127.0 184.4L127.7 184.4L128.4 184.4L129.1 184.5L129.8 184.5L130.5 184.6L131.2 184.7L131.9 184.7L132.6 184.8L133.3 184.9L134.0 185.0L134.7 185.1L135.4 185.2L136.1 185.3L136.8 185.4L137.5 185.5L138.2 185.6L138.8 185.8L139.5 185.9L140.2 186.0L140.9 186.2L141.6 186.3L142.3 186.5L143.0 186.6L143.7 186.8L144.4 187.0L145.1 187.2L145.8 187.3L146.5 187.5L147.2 187.7L147.9 187.9L148.6 188.1L149.3 188.2L150.0 188.4L150.7 188.6L151.3 188.8L152.0 189.1L152.7 189.3L153.4 189.5L154.1 189.7L154.8 189.9L155.5 190.1L156.2 190.3L156.9 190.5L157.6 190.7L158.3 190.9L159.0 191.1L159.7 191.3L160.4 191.5L161.1 191.7L161.8 191.9L162.5 192.1L163.2 192.2L163.8 192.4L164.5 192.5L165.2 192.7L165.9 192.8L166.6 192.9L167.3 193.0L168.0 193.1L168.7 193.2L169.4 193.2L170.1 193.3L170.8 193.3L171.5 193.3L172.2 193.2L172.9 193.1L173.6 192.9L174.3 192.6L175.0 192.3L175.7 191.9L176.3 191.3L177.0 190.5L177.7 189.6L178.4 188.5L179.1 187.2L179.8 185.7L180.5 184.0L181.2 182.1L181.9 179.9L182.6 177.4L183.3 174.7L184.0 171.7L184.7 168.4L185.4 164.9L186.1 161.1L186.8 157.0L187.5 152.7L188.2 148.1L188.8 143.3L189.5 138.4L190.2 133.2L190.9 128.0L191.6 122.8L192.3 117.5L193.0 112.2L193.7 107.1L194.4 102.1L195.1 97.3L195.8 92.8L196.5 88.5L197.2 84.7L197.9 81.3L198.6 78.3L199.3 75.8L200.0 73.9L200.7 72.6L201.3 71.8L202.0 71.7L202.7 72.0L203.4 72.9L204.1 74.2L204.8 76.0L205.5 78.2L206.2 80.8L206.9 83.8L207.6 87.1L208.3 90.8L209.0 94.8L209.7 99.0L210.4 103.4L211.1 108.0L211.8 112.8L212.5 117.7L213.2 122.6L213.9 127.5L214.5 132.5L215.2 137.4L215.9 142.2L216.6 147.0L217.3 151.6L218.0 156.1L218.7 160.4L219.4 164.5L220.1 168.4L220.8 172.2L221.5 175.7L222.2 179.0L222.9 182.1L223.6 185.0L224.3 187.6L225.0 190.1L225.7 192.4L226.4 194.4L227.0 196.3L227.7 198.0L228.4 199.5L229.1 200.9L229.8 202.1L230.5 203.2L231.2 204.2L231.9 205.1L232.6 205.9L233.3 206.6L234.0 207.2L234.7 207.7L235.4 208.1L236.1 208.5L236.8 208.9L237.5 209.2L238.2 209.4L238.9 209.7L239.5 209.8L240.2 210.0L240.9 210.2L241.6 210.3L242.3 210.4L243.0 210.5L243.7 210.5L244.4 210.6L245.1 210.7L245.8 210.7L246.5 210.7L247.2 210.8L247.9 210.8L248.6 210.8L249.3 210.8L250.0 210.8L250.7 210.8L251.4 210.8L252.0 210.9L252.7 210.9L253.4 210.9L254.1 210.9L254.8 210.9L255.5 210.9L256.2 210.9L256.9 210.9L257.6 210.9L258.3 210.9L259.0 210.9L259.7 210.9L260.4 210.9L261.1 210.9L261.8 210.9L262.5 210.9L263.2 210.9L263.9 210.9L264.5 210.9L265.2 210.9L265.9 210.9L266.6 210.9L267.3 210.9L268.0 210.9L268.7 210.9L269.4 210.9L270.1 210.9L270.8 210.9L271.5 210.9L272.2 210.9L272.9 210.9L273.6 210.9L274.3 210.9L275.0 210.9L275.7 210.9L276.4 210.9L277.1 210.9"/>
<path d="M68.7 38.6L69.4 61.6L70.1 81.9L70.8 100.1L71.5 115.0L72.2 126.5L72.9 136.0L73.6 142.4L74.3 147.1L75.0 151.0L75.6 154.2L76.3 156.8L77.0 158.9L77.7 160.8L78.4 162.4L79.1 163.9L79.8 165.2L80.5 166.4L81.2 167.5L81.9 168.6L82.6 169.6L83.3 170.5L84.0 171.4L84.7 172.2L85.4 172.9L86.1 173.6L86.8 174.3L87.5 174.9L88.1 175.6L88.8 176.1L89.5 176.7L90.2 177.2L90.9 177.7L91.6 178.2L92.3 178.6L93.0 179.1L93.7 179.5L94.4 179.9L95.1 180.3L95.8 180.7L96.5 181.0L97.2 181.4L97.9 181.7L98.6 182.0L99.3 182.3L100.0 182.6L100.6 182.9L101.3 183.2L102.0 183.5L102.7 183.7L103.4 184.0L104.1 184.1L104.8 184.3L105.5 184.3L106.2 184.4L106.9 184.5L107.6 184.6L108.3 184.6L109.0 184.7L109.7 184.7L110.4 184.8L111.1 184.8L111.8 184.8L112.5 184.9L113.1 184.9L113.8 184.9L114.5 184.9L115.2 185.0L115.9 185.0L116.6 185.0L117.3 184.9L118.0 184.9L118.7 184.8L119.4 184.8L120.1 184.7L120.8 184.6L121.5 184.5L122.2 184.3L122.9 184.1L123.6 183.9L124.3 183.8L125.0 183.7L125.6 183.5L126.3 183.4L127.0 183.3L127.7 183.2L128.4 183.2L129.1 183.1L129.8 183.1L130.5 183.1L131.2 183.2L131.9 183.2L132.6 183.2L133.3 183.3L134.0 183.3L134.7 183.4L135.4 183.5L136.1 183.5L136.8 183.6L137.5 183.7L138.2 183.8L138.8 183.9L139.5 184.0L140.2 184.1L140.9 184.2L141.6 184.4L142.3 184.5L143.0 184.7L143.7 184.8L144.4 185.0L145.1 185.2L145.8 185.4L146.5 185.6L147.2 185.8L147.9 186.0L148.6 186.2L149.3 186.3L150.0 186.6L150.7 186.8L151.3 187.0L152.0 187.3L152.7 187.5L153.4 187.8L154.1 188.0L154.8 188.2L155.5 188.5L156.2 188.7L156.9 188.9L157.6 189.2L158.3 189.4L159.0 189.6L159.7 189.9L160.4 190.1L161.1 190.3L161.8 190.5L162.5 190.7L163.2 190.9L163.8 191.1L164.5 191.3L165.2 191.5L165.9 191.7L166.6 191.8L167.3 192.0L168.0 192.1L168.7 192.2L169.4 192.3L170.1 192.4L170.8 192.4L171.5 192.4L172.2 192.4L172.9 192.4L173.6 192.3L174.3 192.1L175.0 191.8L175.7 191.5L176.3 191.0L177.0 190.3L177.7 189.5L178.4 188.5L179.1 187.4L179.8 186.0L180.5 184.5L181.2 182.7L181.9 180.7L182.6 178.4L183.3 175.9L184.0 173.1L184.7 170.1L185.4 166.8L186.1 163.3L186.8 159.5L187.5 155.4L188.2 151.2L188.8 146.7L189.5 142.1L190.2 137.4L190.9 132.5L191.6 127.6L192.3 122.7L193.0 117.8L193.7 113.0L194.4 108.3L195.1 103.8L195.8 99.6L196.5 95.7L197.2 92.1L197.9 88.9L198.6 86.1L199.3 83.9L200.0 82.1L200.7 80.8L201.3 80.1L202.0 80.0L202.7 80.4L203.4 81.2L204.1 82.4L204.8 84.1L205.5 86.2L206.2 88.6L206.9 91.4L207.6 94.6L208.3 98.0L209.0 101.7L209.7 105.7L210.4 109.9L211.1 114.2L211.8 118.7L212.5 123.2L213.2 127.9L213.9 132.5L214.5 137.2L215.2 141.8L215.9 146.3L216.6 150.7L217.3 155.1L218.0 159.3L218.7 163.3L219.4 167.2L220.1 170.9L220.8 174.4L221.5 177.7L222.2 180.8L222.9 183.7L223.6 186.4L224.3 188.9L225.0 191.2L225.7 193.4L226.4 195.3L227.0 197.1L227.7 198.7L228.4 200.1L229.1 201.4L229.8 202.6L230.5 203.6L231.2 204.5L231.9 205.4L232.6 206.1L233.3 206.7L234.0 207.3L234.7 207.8L235.4 208.2L236.1 208.6L236.8 208.9L237.5 209.2L238.2 209.5L238.9 209.7L239.5 209.9L240.2 210.0L240.9 210.2L241.6 210.3L242.3 210.4L243.0 210.5L243.7 210.6L244.4 210.6L245.1 210.7L245.8 210.7L246.5 210.7L247.2 210.8L247.9 210.8L248.6 210.8L249.3 210.8L250.0 210.8L250.7 210.8L251.4 210.8L252.0 210.9L252.7 210.9L253.4 210.9L254.1 210.9L254.8 210.9L255.5 210.9L256.2 210.9L256.9 210.9L257.6 210.9L258.3 210.9L259.0 210.9L259.7 210.9L260.4 210.9L261.1 210.9L261.8 210.9L262.5 210.9L263.2 210.9L263.9 210.9L264.5 210.9L265.2 210.9L265.9 210.9L266.6 210.9L267.3 210.9L268.0 210.9L268.7 210.9L269.4 210.9L270.1 210.9L270.8 210.9L271.5 210.9L272.2 210.9L272.9 210.9L273.6 210.9L274.3 210.9L275.0 210.9L275.7 210.9L276.4 210.9L277.1 210.9"/>
<path d="M68.7 38.6L69.4 61.6L70.1 81.8L70.8 99.9L71.5 114.7L72.2 126.1L72.9 135.6L73.6 142.0L74.3 146.7L75.0 150.5L75.6 153.7L76.3 156.3L77.0 158.4L77.7 160.3L78.4 162.0L79.1 163.4L79.8 164.8L80.5 166.0L81.2 167.1L81.9 168.1L82.6 169.1L83.3 170.0L84.0 170.9L84.7 171.7L85.4 172.5L86.1 173.2L86.8 173.9L87.5 174.6L88.1 175.2L88.8 175.8L89.5 176.3L90.2 176.9L90.9 177.4L91.6 177.8L92.3 178.3L93.0 178.8L93.7 179.2L94.4 179.6L95.1 180.0L95.8 180.4L96.5 180.8L97.2 181.1L97.9 181.5L98.6 181.8L99.3 182.1L100.0 182.4L100.6 182.7L101.3 183.0L102.0 183.3L102.7 183.6L103.4 183.8L104.1 184.0L104.8 184.1L105.5 184.2L106.2 184.3L106.9 184.4L107.6 184.5L108.3 184.6L109.0 184.6L109.7 184.7L110.4 184.7L111.1 184.8L111.8 184.8L112.5 184.8L113.1 184.9L113.8 184.9L114.5 184.9L115.2 184.9L115.9 185.0L116.6 184.9L117.3 184.9L118.0 184.7L118.7 184.6L119.4 184.5L120.1 184.3L120.8 184.2L121.5 183.9L122.2 183.6L122.9 183.3L123.6 183.0L124.3 182.7L125.0 182.4L125.6 182.2L126.3 182.0L127.0 181.8L127.7 181.6L128.4 181.5L129.1 181.3L129.8 181.2L130.5 181.2L131.2 181.1L131.9 181.1L132.6 181.1L133.3 181.0L134.0 181.0L134.7 181.0L135.4 181.1L136.1 181.1L136.8 181.1L137.5 181.2L138.2 181.2L138.8 181.3L139.5 181.4L140.2 181.4L140.9 181.5L141.6 181.7L142.3 181.8L143.0 182.0L143.7 182.2L144.4 182.3L145.1 182.5L145.8 182.7L146.5 182.9L147.2 183.1L147.9 183.3L148.6 183.5L149.3 183.7L150.0 184.0L150.7 184.2L151.3 184.5L152.0 184.8L152.7 185.1L153.4 185.4L154.1 185.7L154.8 185.9L155.5 186.2L156.2 186.5L156.9 186.8L157.6 187.1L158.3 187.3L159.0 187.6L159.7 187.9L160.4 188.2L161.1 188.4L161.8 188.7L162.5 188.9L163.2 189.2L163.8 189.4L164.5 189.6L165.2 189.9L165.9 190.1L166.6 190.3L167.3 190.5L168.0 190.7L168.7 190.8L169.4 191.0L170.1 191.1L170.8 191.2L171.5 191.3L172.2 191.4L172.9 191.4L173.6 191.4L174.3 191.3L175.0 191.2L175.7 190.9L176.3 190.6L177.0 190.1L177.7 189.4L178.4 188.6L179.1 187.6L179.8 186.4L180.5 185.1L181.2 183.5L181.9 181.8L182.6 179.8L183.3 177.5L184.0 175.1L184.7 172.4L185.4 169.4L186.1 166.2L186.8 162.8L187.5 159.2L188.2 155.4L188.8 151.4L189.5 147.3L190.2 143.0L190.9 138.6L191.6 134.2L192.3 129.8L193.0 125.4L193.7 121.0L194.4 116.8L195.1 112.8L195.8 109.0L196.5 105.5L197.2 102.2L197.9 99.4L198.6 96.9L199.3 94.8L200.0 93.3L200.7 92.2L201.3 91.5L202.0 91.5L202.7 91.8L203.4 92.6L204.1 93.7L204.8 95.2L205.5 97.1L206.2 99.4L206.9 101.9L207.6 104.8L208.3 107.9L209.0 111.3L209.7 114.9L210.4 118.7L211.1 122.7L211.8 126.7L212.5 130.9L213.2 135.1L213.9 139.3L214.5 143.6L215.2 147.7L215.9 151.9L216.6 155.9L217.3 159.9L218.0 163.7L218.7 167.3L219.4 170.9L220.1 174.2L220.8 177.4L221.5 180.4L222.2 183.3L222.9 185.9L223.6 188.4L224.3 190.7L225.0 192.8L225.7 194.7L226.4 196.5L227.0 198.1L227.7 199.6L228.4 200.9L229.1 202.1L229.8 203.2L230.5 204.1L231.2 205.0L231.9 205.7L232.6 206.4L233.3 207.0L234.0 207.5L234.7 208.0L235.4 208.4L236.1 208.7L236.8 209.0L237.5 209.3L238.2 209.5L238.9 209.7L239.5 209.9L240.2 210.1L240.9 210.2L241.6 210.3L242.3 210.4L243.0 210.5L243.7 210.6L244.4 210.6L245.1 210.7L245.8 210.7L246.5 210.8L247.2 210.8L247.9 210.8L248.6 210.8L249.3 210.8L250.0 210.8L250.7 210.8L251.4 210.8L252.0 210.9L252.7 210.9L253.4 210.9L254.1 210.9L254.8 210.9L255.5 210.9L256.2 210.9L256.9 210.9L257.6 210.9L258.3 210.9L259.0 210.9L259.7 210.9L260.4 210.9L261.1 210.9L261.8 210.9L262.5 210.9L263.2 210.9L263.9 210.9L264.5 210.9L265.2 210.9L265.9 210.9L266.6 210.9L267.3 210.9L268.0 210.9L268.7 210.9L269.4 210.9L270.1 210.9L270.8 210.9L271.5 210.9L272.2 210.9L272.9 210.9L273.6 210.9L274.3 210.9L275.0 210.9L275.7 210.9L276.4 210.9L277.1 210.9"/>
<path d="M68.7 38.6L69.4 61.6L70.1 81.7L70.8 99.6L71.5 114.3L72.2 125.7L72.9 135.1L73.6 141.5L74.3 146.1L75.0 150.0L75.6 153.2L76.3 155.8L77.0 157.9L77.7 159.8L78.4 161.4L79.1 162.9L79.8 164.2L80.5 165.4L81.2 166.6L81.9 167.6L82.6 168.6L83.3 169.5L84.0 170.4L84.7 171.2L85.4 172.0L86.1 172.8L86.8 173.4L87.5 174.1L88.1 174.7L88.8 175.3L89.5 175.9L90.2 176.4L90.9 177.0L91.6 177.5L92.3 177.9L93.0 178.4L93.7 178.8L94.4 179.3L95.1 179.7L95.8 180.1L96.5 180.5L97.2 180.9L97.9 181.2L98.6 181.6L99.3 181.9L100.0 182.2L100.6 182.5L101.3 182.8L102.0 183.1L102.7 183.4L103.4 183.6L104.1 183.8L104.8 183.9L105.5 184.1L106.2 184.2L106.9 184.3L107.6 184.4L108.3 184.5L109.0 184.5L109.7 184.6L110.4 184.7L111.1 184.7L111.8 184.7L112.5 184.8L113.1 184.8L113.8 184.9L114.5 184.9L115.2 184.9L115.9 184.9L116.6 184.9L117.3 184.8L118.0 184.6L118.7 184.4L119.4 184.1L120.1 183.9L120.8 183.6L121.5 183.2L122.2 182.8L122.9 182.3L123.6 181.8L124.3 181.4L125.0 181.1L125.6 180.7L126.3 180.4L127.0 180.0L127.7 179.7L128.4 179.5L129.1 179.2L129.8 179.0L130.5 178.9L131.2 178.7L131.9 178.6L132.6 178.5L133.3 178.4L134.0 178.4L134.7 178.3L135.4 178.3L136.1 178.2L136.8 178.2L137.5 178.3L138.2 178.3L138.8 178.3L139.5 178.3L140.2 178.4L140.9 178.5L141.6 178.6L142.3 178.7L143.0 178.9L143.7 179.0L144.4 179.2L145.1 179.4L145.8 179.6L146.5 179.8L147.2 180.1L147.9 180.3L148.6 180.5L149.3 180.7L150.0 181.0L150.7 181.3L151.3 181.6L152.0 181.9L152.7 182.3L153.4 182.6L154.1 182.9L154.8 183.3L155.5 183.6L156.2 183.9L156.9 184.3L157.6 184.6L158.3 184.9L159.0 185.3L159.7 185.6L160.4 185.9L161.1 186.2L161.8 186.5L162.5 186.8L163.2 187.1L163.8 187.4L164.5 187.7L165.2 188.0L165.9 188.3L166.6 188.5L167.3 188.8L168.0 189.0L168.7 189.3L169.4 189.5L170.1 189.7L170.8 189.9L171.5 190.0L172.2 190.2L172.9 190.3L173.6 190.4L174.3 190.4L175.0 190.4L175.7 190.3L176.3 190.1L177.0 189.8L177.7 189.3L178.4 188.6L179.1 187.9L179.8 186.9L180.5 185.8L181.2 184.5L181.9 183.0L182.6 181.3L183.3 179.4L184.0 177.3L184.7 175.0L185.4 172.5L186.1 169.7L186.8 166.8L187.5 163.6L188.2 160.3L188.8 156.8L189.5 153.2L190.2 149.5L190.9 145.7L191.6 141.9L192.3 138.0L193.0 134.2L193.7 130.4L194.4 126.7L195.1 123.2L195.8 119.9L196.5 116.8L197.2 114.0L197.9 111.5L198.6 109.4L199.3 107.6L200.0 106.3L200.7 105.3L201.3 104.8L202.0 104.7L202.7 105.1L203.4 105.8L204.1 106.8L204.8 108.2L205.5 109.9L206.2 111.9L206.9 114.1L207.6 116.7L208.3 119.5L209.0 122.5L209.7 125.7L210.4 129.0L211.1 132.5L211.8 136.1L212.5 139.8L213.2 143.5L213.9 147.2L214.5 151.0L215.2 154.7L215.9 158.3L216.6 161.9L217.3 165.4L218.0 168.8L218.7 172.0L219.4 175.1L220.1 178.1L220.8 180.9L221.5 183.6L222.2 186.1L222.9 188.5L223.6 190.7L224.3 192.7L225.0 194.6L225.7 196.3L226.4 197.9L227.0 199.3L227.7 200.6L228.4 201.8L229.1 202.9L229.8 203.9L230.5 204.7L231.2 205.5L231.9 206.2L232.6 206.8L233.3 207.3L234.0 207.8L234.7 208.2L235.4 208.6L236.1 208.9L236.8 209.2L237.5 209.4L238.2 209.6L238.9 209.8L239.5 210.0L240.2 210.1L240.9 210.2L241.6 210.3L242.3 210.4L243.0 210.5L243.7 210.6L244.4 210.6L245.1 210.7L245.8 210.7L246.5 210.8L247.2 210.8L247.9 210.8L248.6 210.8L249.3 210.8L250.0 210.8L250.7 210.8L251.4 210.9L252.0 210.9L252.7 210.9L253.4 210.9L254.1 210.9L254.8 210.9L255.5 210.9L256.2 210.9L256.9 210.9L257.6 210.9L258.3 210.9L259.0 210.9L259.7 210.9L260.4 210.9L261.1 210.9L261.8 210.9L262.5 210.9L263.2 210.9L263.9 210.9L264.5 210.9L265.2 210.9L265.9 210.9L266.6 210.9L267.3 210.9L268.0 210.9L268.7 210.9L269.4 210.9L270.1 210.9L270.8 210.9L271.5 210.9L272.2 210.9L272.9 210.9L273.6 210.9L274.3 210.9L275.0 210.9L275.7 210.9L276.4 210.9L277.1 210.9"/>
<path d="M68.7 38.6L69.4 61.6L70.1 81.6L70.8 99.3L71.5 113.8L72.2 125.1L72.9 134.5L73.6 140.9L74.3 145.5L75.0 149.4L75.6 152.6L76.3 155.2L77.0 157.3L77.7 159.2L78.4 160.8L79.1 162.3L79.8 163.6L80.5 164.8L81.2 166.0L81.9 167.0L82.6 168.0L83.3 169.0L84.0 169.9L84.7 170.7L85.4 171.5L86.1 172.2L86.8 172.9L87.5 173.6L88.1 174.2L88.8 174.9L89.5 175.4L90.2 176.0L90.9 176.5L91.6 177.0L92.3 177.5L93.0 178.0L93.7 178.4L94.4 178.9L95.1 179.3L95.8 179.7L96.5 180.1L97.2 180.5L97.9 180.9L98.6 181.3L99.3 181.6L100.0 181.9L100.6 182.2L101.3 182.6L102.0 182.9L102.7 183.1L103.4 183.4L104.1 183.6L104.8 183.8L105.5 183.9L106.2 184.0L106.9 184.1L107.6 184.3L108.3 184.4L109.0 184.5L109.7 184.5L110.4 184.6L111.1 184.6L111.8 184.7L112.5 184.7L113.1 184.8L113.8 184.8L114.5 184.8L115.2 184.9L115.9 184.9L116.6 184.8L117.3 184.7L118.0 184.4L118.7 184.1L119.4 183.8L120.1 183.4L120.8 183.0L121.5 182.5L122.2 181.8L122.9 181.2L123.6 180.5L124.3 180.0L125.0 179.5L125.6 179.0L126.3 178.5L127.0 178.0L127.7 177.6L128.4 177.2L129.1 176.8L129.8 176.5L130.5 176.3L131.2 176.1L131.9 175.9L132.6 175.7L133.3 175.5L134.0 175.3L134.7 175.2L135.4 175.1L136.1 175.0L136.8 175.0L137.5 175.0L138.2 174.9L138.8 174.9L139.5 174.9L140.2 174.9L140.9 175.0L141.6 175.1L142.3 175.2L143.0 175.3L143.7 175.5L144.4 175.7L145.1 175.9L145.8 176.1L146.5 176.4L147.2 176.6L147.9 176.8L148.6 177.1L149.3 177.3L150.0 177.6L150.7 178.0L151.3 178.3L152.0 178.7L152.7 179.1L153.4 179.5L154.1 179.9L154.8 180.3L155.5 180.6L156.2 181.0L156.9 181.4L157.6 181.8L158.3 182.2L159.0 182.6L159.7 183.0L160.4 183.4L161.1 183.7L161.8 184.1L162.5 184.5L163.2 184.8L163.8 185.2L164.5 185.5L165.2 185.9L165.9 186.2L166.6 186.5L167.3 186.9L168.0 187.2L168.7 187.5L169.4 187.8L170.1 188.0L170.8 188.3L171.5 188.6L172.2 188.8L172.9 189.0L173.6 189.2L174.3 189.4L175.0 189.5L175.7 189.6L176.3 189.5L177.0 189.4L177.7 189.1L178.4 188.7L179.1 188.1L179.8 187.4L180.5 186.6L181.2 185.6L181.9 184.4L182.6 183.1L183.3 181.6L184.0 179.9L184.7 178.0L185.4 175.9L186.1 173.6L186.8 171.2L187.5 168.6L188.2 165.9L188.8 163.0L189.5 160.0L190.2 156.9L190.9 153.7L191.6 150.5L192.3 147.3L193.0 144.1L193.7 141.0L194.4 137.9L195.1 135.0L195.8 132.2L196.5 129.7L197.2 127.3L197.9 125.3L198.6 123.5L199.3 122.0L200.0 120.9L200.7 120.2L201.3 119.8L202.0 119.7L202.7 120.1L203.4 120.7L204.1 121.6L204.8 122.8L205.5 124.2L206.2 125.9L206.9 127.9L207.6 130.1L208.3 132.5L209.0 135.0L209.7 137.8L210.4 140.6L211.1 143.6L211.8 146.7L212.5 149.8L213.2 153.0L213.9 156.2L214.5 159.4L215.2 162.5L215.9 165.6L216.6 168.7L217.3 171.7L218.0 174.5L218.7 177.3L219.4 180.0L220.1 182.5L220.8 184.9L221.5 187.2L222.2 189.4L222.9 191.4L223.6 193.3L224.3 195.0L225.0 196.6L225.7 198.1L226.4 199.5L227.0 200.7L227.7 201.8L228.4 202.9L229.1 203.8L229.8 204.6L230.5 205.4L231.2 206.1L231.9 206.7L232.6 207.2L233.3 207.7L234.0 208.1L234.7 208.4L235.4 208.8L236.1 209.0L236.8 209.3L237.5 209.5L238.2 209.7L238.9 209.9L239.5 210.0L240.2 210.1L240.9 210.2L241.6 210.3L242.3 210.4L243.0 210.5L243.7 210.6L244.4 210.6L245.1 210.7L245.8 210.7L246.5 210.8L247.2 210.8L247.9 210.8L248.6 210.8L249.3 210.8L250.0 210.8L250.7 210.9L251.4 210.9L252.0 210.9L252.7 210.9L253.4 210.9L254.1 210.9L254.8 210.9L255.5 210.9L256.2 210.9L256.9 210.9L257.6 210.9L258.3 210.9L259.0 210.9L259.7 210.9L260.4 210.9L261.1 210.9L261.8 210.9L262.5 210.9L263.2 210.9L263.9 210.9L264.5 210.9L265.2 210.9L265.9 210.9L266.6 210.9L267.3 210.9L268.0 210.9L268.7 210.9L269.4 210.9L270.1 210.9L270.8 210.9L271.5 210.9L272.2 210.9L272.9 210.9L273.6 210.9L274.3 210.9L275.0 210.9L275.7 210.9L276.4 210.9L277.1 210.9"/>
<path d="M68.7 38.6L69.4 61.5L70.1 81.5L70.8 99.0L71.5 113.3L72.2 124.6L72.9 133.9L73.6 140.3L74.3 144.9L75.0 148.8L75.6 152.0L76.3 154.6L77.0 156.7L77.7 158.6L78.4 160.2L79.1 161.7L79.8 163.0L80.5 164.2L81.2 165.4L81.9 166.4L82.6 167.4L83.3 168.4L84.0 169.3L84.7 170.2L85.4 171.0L86.1 171.7L86.8 172.4L87.5 173.1L88.1 173.8L88.8 174.4L89.5 175.0L90.2 175.5L90.9 176.1L91.6 176.6L92.3 177.1L93.0 177.6L93.7 178.0L94.4 178.5L95.1 179.0L95.8 179.4L96.5 179.8L97.2 180.2L97.9 180.6L98.6 181.0L99.3 181.3L100.0 181.7L100.6 182.0L101.3 182.3L102.0 182.6L102.7 182.9L103.4 183.2L104.1 183.4L104.8 183.6L105.5 183.7L106.2 183.9L106.9 184.0L107.6 184.1L108.3 184.3L109.0 184.4L109.7 184.4L110.4 184.5L111.1 184.6L111.8 184.6L112.5 184.7L113.1 184.7L113.8 184.8L114.5 184.8L115.2 184.8L115.9 184.9L116.6 184.8L117.3 184.6L118.0 184.2L118.7 183.8L119.4 183.4L120.1 182.9L120.8 182.4L121.5 181.7L122.2 180.9L122.9 180.1L123.6 179.3L124.3 178.6L125.0 177.9L125.6 177.3L126.3 176.7L127.0 176.1L127.7 175.5L128.4 175.0L129.1 174.5L129.8 174.1L130.5 173.8L131.2 173.4L131.9 173.1L132.6 172.9L133.3 172.6L134.0 172.4L134.7 172.2L135.4 172.0L136.1 171.9L136.8 171.8L137.5 171.7L138.2 171.6L138.8 171.6L139.5 171.5L140.2 171.5L140.9 171.5L141.6 171.6L142.3 171.7L143.0 171.9L143.7 172.1L144.4 172.2L145.1 172.5L145.8 172.7L146.5 172.9L147.2 173.2L147.9 173.4L148.6 173.7L149.3 174.0L150.0 174.3L150.7 174.7L151.3 175.1L152.0 175.5L152.7 176.0L153.4 176.4L154.1 176.9L154.8 177.3L155.5 177.7L156.2 178.2L156.9 178.6L157.6 179.1L158.3 179.5L159.0 180.0L159.7 180.4L160.4 180.9L161.1 181.3L161.8 181.7L162.5 182.2L163.2 182.6L163.8 183.0L164.5 183.4L165.2 183.8L165.9 184.2L166.6 184.6L167.3 185.0L168.0 185.4L168.7 185.7L169.4 186.1L170.1 186.5L170.8 186.8L171.5 187.1L172.2 187.5L172.9 187.8L173.6 188.1L174.3 188.4L175.0 188.7L175.7 188.9L176.3 189.0L177.0 189.1L177.7 189.0L178.4 188.7L179.1 188.4L179.8 188.0L180.5 187.4L181.2 186.7L181.9 185.8L182.6 184.8L183.3 183.7L184.0 182.3L184.7 180.9L185.4 179.2L186.1 177.5L186.8 175.5L187.5 173.5L188.2 171.3L188.8 169.0L189.5 166.6L190.2 164.1L190.9 161.6L191.6 159.0L192.3 156.4L193.0 153.8L193.7 151.3L194.4 148.9L195.1 146.5L195.8 144.3L196.5 142.2L197.2 140.4L197.9 138.7L198.6 137.3L199.3 136.2L200.0 135.3L200.7 134.7L201.3 134.4L202.0 134.4L202.7 134.7L203.4 135.3L204.1 136.1L204.8 137.1L205.5 138.3L206.2 139.7L206.9 141.4L207.6 143.2L208.3 145.2L209.0 147.3L209.7 149.6L210.4 152.0L211.1 154.5L211.8 157.0L212.5 159.6L213.2 162.3L213.9 164.9L214.5 167.6L215.2 170.2L215.9 172.8L216.6 175.3L217.3 177.8L218.0 180.2L218.7 182.5L219.4 184.7L220.1 186.8L220.8 188.8L221.5 190.7L222.2 192.5L222.9 194.2L223.6 195.8L224.3 197.3L225.0 198.6L225.7 199.9L226.4 201.0L227.0 202.1L227.7 203.0L228.4 203.9L229.1 204.7L229.8 205.4L230.5 206.0L231.2 206.6L231.9 207.1L232.6 207.6L233.3 208.0L234.0 208.4L234.7 208.7L235.4 208.9L236.1 209.2L236.8 209.4L237.5 209.6L238.2 209.8L238.9 209.9L239.5 210.1L240.2 210.2L240.9 210.3L241.6 210.4L242.3 210.5L243.0 210.5L243.7 210.6L244.4 210.6L245.1 210.7L245.8 210.7L246.5 210.8L247.2 210.8L247.9 210.8L248.6 210.8L249.3 210.8L250.0 210.8L250.7 210.9L251.4 210.9L252.0 210.9L252.7 210.9L253.4 210.9L254.1 210.9L254.8 210.9L255.5 210.9L256.2 210.9L256.9 210.9L257.6 210.9L258.3 210.9L259.0 210.9L259.7 210.9L260.4 210.9L261.1 210.9L261.8 210.9L262.5 210.9L263.2 210.9L263.9 210.9L264.5 210.9L265.2 210.9L265.9 210.9L266.6 210.9L267.3 210.9L268.0 210.9L268.7 210.9L269.4 210.9L270.1 210.9L270.8 210.9L271.5 210.9L272.2 210.9L272.9 210.9L273.6 210.9L274.3 210.9L275.0 210.9L275.7 210.9L276.4 210.9L277.1 210.9"/>
<path d="M68.7 38.6L69.4 61.5L70.1 81.4L70.8 98.7L71.5 112.9L72.2 124.1L72.9 133.4L73.6 139.7L74.3 144.3L75.0 148.2L75.6 151.4L76.3 154.0L77.0 156.1L77.7 157.9L78.4 159.6L79.1 161.1L79.8 162.4L80.5 163.6L81.2 164.8L81.9 165.8L82.6 166.9L83.3 167.8L84.0 168.7L84.7 169.6L85.4 170.4L86.1 171.2L86.8 171.9L87.5 172.6L88.1 173.3L88.8 173.9L89.5 174.5L90.2 175.1L90.9 175.6L91.6 176.2L92.3 176.7L93.0 177.2L93.7 177.7L94.4 178.1L95.1 178.6L95.8 179.0L96.5 179.5L97.2 179.9L97.9 180.3L98.6 180.7L99.3 181.0L100.0 181.4L100.6 181.7L101.3 182.1L102.0 182.4L102.7 182.7L103.4 183.0L104.1 183.2L104.8 183.4L105.5 183.6L106.2 183.7L106.9 183.9L107.6 184.0L108.3 184.2L109.0 184.3L109.7 184.4L110.4 184.4L111.1 184.5L111.8 184.6L112.5 184.6L113.1 184.7L113.8 184.7L114.5 184.8L115.2 184.8L115.9 184.8L116.6 184.7L117.3 184.4L118.0 184.0L118.7 183.5L119.4 183.0L120.1 182.5L120.8 181.8L121.5 180.9L122.2 180.0L122.9 179.0L123.6 178.0L124.3 177.1L125.0 176.4L125.6 175.6L126.3 174.8L127.0 174.1L127.7 173.4L128.4 172.7L129.1 172.1L129.8 171.6L130.5 171.2L131.2 170.8L131.9 170.4L132.6 170.0L133.3 169.7L134.0 169.4L134.7 169.1L135.4 168.9L136.1 168.7L136.8 168.6L137.5 168.4L138.2 168.3L138.8 168.2L139.5 168.1L140.2 168.1L140.9 168.1L141.6 168.1L142.3 168.2L143.0 168.4L143.7 168.5L144.4 168.7L145.1 168.9L145.8 169.2L146.5 169.5L147.2 169.7L147.9 170.0L148.6 170.3L149.3 170.6L150.0 170.9L150.7 171.4L151.3 171.8L152.0 172.3L152.7 172.8L153.4 173.3L154.1 173.8L154.8 174.3L155.5 174.8L156.2 175.3L156.9 175.8L157.6 176.3L158.3 176.8L159.0 177.3L159.7 177.8L160.4 178.3L161.1 178.8L161.8 179.3L162.5 179.8L163.2 180.3L163.8 180.7L164.5 181.2L165.2 181.7L165.9 182.1L166.6 182.6L167.3 183.1L168.0 183.5L168.7 184.0L169.4 184.4L170.1 184.8L170.8 185.3L171.5 185.7L172.2 186.1L172.9 186.5L173.6 186.9L174.3 187.4L175.0 187.8L175.7 188.2L176.3 188.5L177.0 188.7L177.7 188.8L178.4 188.8L179.1 188.7L179.8 188.5L180.5 188.2L181.2 187.8L181.9 187.3L182.6 186.6L183.3 185.8L184.0 184.9L184.7 183.8L185.4 182.7L186.1 181.4L186.8 180.0L187.5 178.5L188.2 176.8L188.8 175.1L189.5 173.3L190.2 171.5L190.9 169.6L191.6 167.6L192.3 165.7L193.0 163.8L193.7 161.9L194.4 160.0L195.1 158.3L195.8 156.6L196.5 155.1L197.2 153.7L197.9 152.4L198.6 151.4L199.3 150.6L200.0 149.9L200.7 149.5L201.3 149.4L202.0 149.4L202.7 149.7L203.4 150.2L204.1 150.8L204.8 151.7L205.5 152.7L206.2 153.8L206.9 155.2L207.6 156.6L208.3 158.2L209.0 159.9L209.7 161.7L210.4 163.6L211.1 165.6L211.8 167.6L212.5 169.7L213.2 171.8L213.9 173.9L214.5 175.9L215.2 178.0L215.9 180.1L216.6 182.1L217.3 184.0L218.0 185.9L218.7 187.8L219.4 189.5L220.1 191.2L220.8 192.8L221.5 194.3L222.2 195.8L222.9 197.1L223.6 198.4L224.3 199.6L225.0 200.6L225.7 201.7L226.4 202.6L227.0 203.4L227.7 204.2L228.4 204.9L229.1 205.6L229.8 206.2L230.5 206.7L231.2 207.2L231.9 207.6L232.6 208.0L233.3 208.3L234.0 208.6L234.7 208.9L235.4 209.1L236.1 209.3L236.8 209.5L237.5 209.7L238.2 209.8L238.9 210.0L239.5 210.1L240.2 210.2L240.9 210.3L241.6 210.4L242.3 210.5L243.0 210.5L243.7 210.6L244.4 210.7L245.1 210.7L245.8 210.7L246.5 210.8L247.2 210.8L247.9 210.8L248.6 210.8L249.3 210.8L250.0 210.9L250.7 210.9L251.4 210.9L252.0 210.9L252.7 210.9L253.4 210.9L254.1 210.9L254.8 210.9L255.5 210.9L256.2 210.9L256.9 210.9L257.6 210.9L258.3 210.9L259.0 210.9L259.7 210.9L260.4 210.9L261.1 210.9L261.8 210.9L262.5 210.9L263.2 210.9L263.9 210.9L264.5 210.9L265.2 210.9L265.9 210.9L266.6 210.9L267.3 210.9L268.0 210.9L268.7 210.9L269.4 210.9L270.1 210.9L270.8 210.9L271.5 210.9L272.2 210.9L272.9 210.9L273.6 210.9L274.3 210.9L275.0 210.9L275.7 210.9L276.4 210.9L277.1 210.9"/>
<path d="M68.7 38.6L69.4 61.5L70.1 81.3L70.8 98.4L71.5 112.4L72.2 123.6L72.9 132.9L73.6 139.2L74.3 143.8L75.0 147.6L75.6 150.8L76.3 153.4L77.0 155.5L77.7 157.4L78.4 159.1L79.1 160.5L79.8 161.9L80.5 163.1L81.2 164.2L81.9 165.3L82.6 166.3L83.3 167.3L84.0 168.2L84.7 169.1L85.4 169.9L86.1 170.7L86.8 171.4L87.5 172.1L88.1 172.8L88.8 173.5L89.5 174.1L90.2 174.7L90.9 175.2L91.6 175.8L92.3 176.3L93.0 176.8L93.7 177.3L94.4 177.8L95.1 178.3L95.8 178.7L96.5 179.2L97.2 179.6L97.9 180.0L98.6 180.4L99.3 180.8L100.0 181.1L100.6 181.5L101.3 181.8L102.0 182.2L102.7 182.5L103.4 182.8L104.1 183.0L104.8 183.2L105.5 183.4L106.2 183.6L106.9 183.8L107.6 183.9L108.3 184.1L109.0 184.2L109.7 184.3L110.4 184.4L111.1 184.5L111.8 184.5L112.5 184.6L113.1 184.7L113.8 184.7L114.5 184.7L115.2 184.8L115.9 184.8L116.6 184.7L117.3 184.4L118.0 183.9L118.7 183.3L119.4 182.7L120.1 182.0L120.8 181.2L121.5 180.3L122.2 179.1L122.9 178.0L123.6 176.9L124.3 175.9L125.0 175.0L125.6 174.0L126.3 173.2L127.0 172.3L127.7 171.5L128.4 170.7L129.1 170.0L129.8 169.4L130.5 168.8L131.2 168.4L131.9 167.9L132.6 167.4L133.3 167.0L134.0 166.7L134.7 166.3L135.4 166.1L136.1 165.8L136.8 165.6L137.5 165.5L138.2 165.3L138.8 165.1L139.5 165.0L140.2 164.9L140.9 164.9L141.6 165.0L142.3 165.1L143.0 165.2L143.7 165.4L144.4 165.6L145.1 165.8L145.8 166.1L146.5 166.3L147.2 166.6L147.9 166.9L148.6 167.2L149.3 167.5L150.0 167.9L150.7 168.4L151.3 168.9L152.0 169.4L152.7 170.0L153.4 170.5L154.1 171.1L154.8 171.6L155.5 172.1L156.2 172.7L156.9 173.2L157.6 173.8L158.3 174.4L159.0 174.9L159.7 175.5L160.4 176.0L161.1 176.6L161.8 177.1L162.5 177.7L163.2 178.2L163.8 178.7L164.5 179.2L165.2 179.8L165.9 180.3L166.6 180.8L167.3 181.3L168.0 181.9L168.7 182.4L169.4 182.9L170.1 183.4L170.8 183.9L171.5 184.4L172.2 184.9L172.9 185.4L173.6 185.9L174.3 186.5L175.0 187.0L175.7 187.5L176.3 188.0L177.0 188.4L177.7 188.7L178.4 188.8L179.1 188.9L179.8 189.0L180.5 188.9L181.2 188.8L181.9 188.5L182.6 188.2L183.3 187.7L184.0 187.2L184.7 186.5L185.4 185.7L186.1 184.9L186.8 184.0L187.5 182.9L188.2 181.8L188.8 180.6L189.5 179.4L190.2 178.1L190.9 176.8L191.6 175.4L192.3 174.0L193.0 172.7L193.7 171.3L194.4 170.0L195.1 168.8L195.8 167.6L196.5 166.6L197.2 165.6L197.9 164.8L198.6 164.1L199.3 163.5L200.0 163.1L200.7 162.8L201.3 162.8L202.0 162.9L202.7 163.1L203.4 163.5L204.1 164.1L204.8 164.8L205.5 165.6L206.2 166.5L206.9 167.5L207.6 168.6L208.3 169.9L209.0 171.2L209.7 172.6L210.4 174.0L211.1 175.5L211.8 177.1L212.5 178.7L213.2 180.3L213.9 181.9L214.5 183.5L215.2 185.1L215.9 186.6L216.6 188.2L217.3 189.7L218.0 191.1L218.7 192.5L219.4 193.9L220.1 195.2L220.8 196.4L221.5 197.6L222.2 198.7L222.9 199.7L223.6 200.7L224.3 201.6L225.0 202.5L225.7 203.3L226.4 204.0L227.0 204.7L227.7 205.3L228.4 205.9L229.1 206.4L229.8 206.9L230.5 207.3L231.2 207.7L231.9 208.0L232.6 208.4L233.3 208.6L234.0 208.9L234.7 209.1L235.4 209.3L236.1 209.5L236.8 209.6L237.5 209.8L238.2 209.9L238.9 210.0L239.5 210.1L240.2 210.2L240.9 210.3L241.6 210.4L242.3 210.5L243.0 210.6L243.7 210.6L244.4 210.7L245.1 210.7L245.8 210.8L246.5 210.8L247.2 210.8L247.9 210.8L248.6 210.8L249.3 210.9L250.0 210.9L250.7 210.9L251.4 210.9L252.0 210.9L252.7 210.9L253.4 210.9L254.1 210.9L254.8 210.9L255.5 210.9L256.2 210.9L256.9 210.9L257.6 210.9L258.3 210.9L259.0 210.9L259.7 210.9L260.4 210.9L261.1 210.9L261.8 210.9L262.5 210.9L263.2 210.9L263.9 210.9L264.5 210.9L265.2 210.9L265.9 210.9L266.6 210.9L267.3 210.9L268.0 210.9L268.7 210.9L269.4 210.9L270.1 210.9L270.8 210.9L271.5 210.9L272.2 210.9L272.9 210.9L273.6 210.9L274.3 210.9L275.0 210.9L275.7 210.9L276.4 210.9L277.1 210.9"/>
<path d="M68.7 38.6L69.4 61.5L70.1 81.2L70.8 98.2L71.5 112.0L72.2 123.1L72.9 132.4L73.6 138.7L74.3 143.3L75.0 147.1L75.6 150.3L76.3 152.9L77.0 155.0L77.7 156.9L78.4 158.5L79.1 160.0L79.8 161.4L80.5 162.6L81.2 163.7L81.9 164.8L82.6 165.8L83.3 166.8L84.0 167.7L84.7 168.6L85.4 169.5L86.1 170.2L86.8 171.0L87.5 171.7L88.1 172.4L88.8 173.1L89.5 173.7L90.2 174.3L90.9 174.8L91.6 175.4L92.3 175.9L93.0 176.4L93.7 177.0L94.4 177.4L95.1 177.9L95.8 178.4L96.5 178.9L97.2 179.3L97.9 179.8L98.6 180.2L99.3 180.5L100.0 180.9L100.6 181.3L101.3 181.6L102.0 182.0L102.7 182.3L103.4 182.6L104.1 182.8L104.8 183.1L105.5 183.3L106.2 183.5L106.9 183.6L107.6 183.8L108.3 184.0L109.0 184.1L109.7 184.2L110.4 184.3L111.1 184.4L111.8 184.5L112.5 184.6L113.1 184.6L113.8 184.7L114.5 184.7L115.2 184.7L115.9 184.8L116.6 184.6L117.3 184.3L118.0 183.7L118.7 183.1L119.4 182.3L120.1 181.6L120.8 180.7L121.5 179.6L122.2 178.3L122.9 177.0L123.6 175.7L124.3 174.6L125.0 173.6L125.6 172.6L126.3 171.5L127.0 170.6L127.7 169.6L128.4 168.8L129.1 167.9L129.8 167.2L130.5 166.6L131.2 166.0L131.9 165.5L132.6 165.0L133.3 164.5L134.0 164.1L134.7 163.7L135.4 163.3L136.1 163.0L136.8 162.8L137.5 162.6L138.2 162.4L138.8 162.2L139.5 162.0L140.2 161.9L140.9 161.9L141.6 161.9L142.3 162.0L143.0 162.1L143.7 162.3L144.4 162.5L145.1 162.8L145.8 163.0L146.5 163.3L147.2 163.6L147.9 163.9L148.6 164.2L149.3 164.6L150.0 165.0L150.7 165.5L151.3 166.0L152.0 166.6L152.7 167.2L153.4 167.8L154.1 168.4L154.8 169.0L155.5 169.6L156.2 170.2L156.9 170.8L157.6 171.4L158.3 172.0L159.0 172.6L159.7 173.2L160.4 173.8L161.1 174.4L161.8 175.0L162.5 175.6L163.2 176.2L163.8 176.8L164.5 177.4L165.2 177.9L165.9 178.5L166.6 179.1L167.3 179.7L168.0 180.3L168.7 180.8L169.4 181.4L170.1 182.0L170.8 182.5L171.5 183.1L172.2 183.7L172.9 184.3L173.6 184.9L174.3 185.6L175.0 186.3L175.7 186.9L176.3 187.5L177.0 188.1L177.7 188.5L178.4 188.9L179.1 189.2L179.8 189.4L180.5 189.6L181.2 189.7L181.9 189.8L182.6 189.7L183.3 189.6L184.0 189.4L184.7 189.1L185.4 188.7L186.1 188.3L186.8 187.8L187.5 187.2L188.2 186.6L188.8 185.9L189.5 185.2L190.2 184.5L190.9 183.7L191.6 182.9L192.3 182.1L193.0 181.3L193.7 180.5L194.4 179.7L195.1 179.0L195.8 178.3L196.5 177.7L197.2 177.1L197.9 176.7L198.6 176.3L199.3 176.0L200.0 175.8L200.7 175.7L201.3 175.7L202.0 175.9L202.7 176.1L203.4 176.5L204.1 176.9L204.8 177.4L205.5 178.0L206.2 178.7L206.9 179.4L207.6 180.2L208.3 181.1L209.0 182.1L209.7 183.0L210.4 184.1L211.1 185.1L211.8 186.2L212.5 187.3L213.2 188.5L213.9 189.6L214.5 190.7L215.2 191.8L215.9 192.9L216.6 194.0L217.3 195.1L218.0 196.1L218.7 197.1L219.4 198.0L220.1 199.0L220.8 199.8L221.5 200.7L222.2 201.5L222.9 202.2L223.6 202.9L224.3 203.6L225.0 204.2L225.7 204.8L226.4 205.4L227.0 205.9L227.7 206.3L228.4 206.8L229.1 207.2L229.8 207.5L230.5 207.9L231.2 208.2L231.9 208.5L232.6 208.7L233.3 208.9L234.0 209.1L234.7 209.3L235.4 209.5L236.1 209.6L236.8 209.8L237.5 209.9L238.2 210.0L238.9 210.1L239.5 210.2L240.2 210.3L240.9 210.4L241.6 210.4L242.3 210.5L243.0 210.6L243.7 210.6L244.4 210.7L245.1 210.7L245.8 210.8L246.5 210.8L247.2 210.8L247.9 210.8L248.6 210.9L249.3 210.9L250.0 210.9L250.7 210.9L251.4 210.9L252.0 210.9L252.7 210.9L253.4 210.9L254.1 210.9L254.8 210.9L255.5 210.9L256.2 210.9L256.9 210.9L257.6 210.9L258.3 210.9L259.0 210.9L259.7 210.9L260.4 210.9L261.1 210.9L261.8 210.9L262.5 210.9L263.2 210.9L263.9 210.9L264.5 210.9L265.2 210.9L265.9 210.9L266.6 210.9L267.3 210.9L268.0 210.9L268.7 210.9L269.4 210.9L270.1 210.9L270.8 210.9L271.5 210.9L272.2 210.9L272.9 210.9L273.6 210.9L274.3 210.9L275.0 210.9L275.7 210.9L276.4 210.9L277.1 210.9"/>
<path d="M68.7 38.6L69.4 61.5L70.1 81.1L70.8 98.0L71.5 111.8L72.2 122.8L72.9 132.0L73.6 138.3L74.3 142.9L75.0 146.8L75.6 149.9L76.3 152.5L77.0 154.7L77.7 156.5L78.4 158.2L79.1 159.7L79.8 161.0L80.5 162.2L81.2 163.4L81.9 164.5L82.6 165.5L83.3 166.5L84.0 167.4L84.7 168.3L85.4 169.2L86.1 169.9L86.8 170.7L87.5 171.4L88.1 172.1L88.8 172.8L89.5 173.4L90.2 174.0L90.9 174.6L91.6 175.2L92.3 175.7L93.0 176.2L93.7 176.7L94.4 177.2L95.1 177.7L95.8 178.2L96.5 178.7L97.2 179.1L97.9 179.6L98.6 180.0L99.3 180.4L100.0 180.8L100.6 181.1L101.3 181.5L102.0 181.8L102.7 182.2L103.4 182.4L104.1 182.7L104.8 183.0L105.5 183.2L106.2 183.4L106.9 183.6L107.6 183.8L108.3 183.9L109.0 184.1L109.7 184.2L110.4 184.3L111.1 184.4L111.8 184.4L112.5 184.5L113.1 184.6L113.8 184.6L114.5 184.7L115.2 184.7L115.9 184.7L116.6 184.6L117.3 184.2L118.0 183.6L118.7 182.9L119.4 182.1L120.1 181.3L120.8 180.4L121.5 179.2L122.2 177.8L122.9 176.4L123.6 175.0L124.3 173.8L125.0 172.7L125.6 171.6L126.3 170.5L127.0 169.5L127.7 168.4L128.4 167.5L129.1 166.6L129.8 165.8L130.5 165.2L131.2 164.5L131.9 163.9L132.6 163.4L133.3 162.9L134.0 162.4L134.7 162.0L135.4 161.6L136.1 161.3L136.8 161.0L137.5 160.8L138.2 160.5L138.8 160.3L139.5 160.1L140.2 160.0L140.9 160.0L141.6 160.0L142.3 160.0L143.0 160.2L143.7 160.3L144.4 160.6L145.1 160.8L145.8 161.1L146.5 161.4L147.2 161.7L147.9 162.0L148.6 162.3L149.3 162.7L150.0 163.1L150.7 163.6L151.3 164.2L152.0 164.8L152.7 165.5L153.4 166.1L154.1 166.7L154.8 167.3L155.5 167.9L156.2 168.6L156.9 169.2L157.6 169.8L158.3 170.5L159.0 171.1L159.7 171.8L160.4 172.4L161.1 173.1L161.8 173.7L162.5 174.3L163.2 174.9L163.8 175.5L164.5 176.1L165.2 176.8L165.9 177.4L166.6 178.0L167.3 178.6L168.0 179.2L168.7 179.8L169.4 180.4L170.1 181.0L170.8 181.7L171.5 182.3L172.2 182.9L172.9 183.6L173.6 184.3L174.3 185.0L175.0 185.8L175.7 186.5L176.3 187.2L177.0 187.9L177.7 188.4L178.4 188.9L179.1 189.3L179.8 189.7L180.5 190.1L181.2 190.3L181.9 190.5L182.6 190.7L183.3 190.8L184.0 190.8L184.7 190.7L185.4 190.6L186.1 190.5L186.8 190.3L187.5 190.0L188.2 189.7L188.8 189.4L189.5 189.0L190.2 188.6L190.9 188.2L191.6 187.7L192.3 187.3L193.0 186.8L193.7 186.4L194.4 185.9L195.1 185.5L195.8 185.2L196.5 184.8L197.2 184.5L197.9 184.3L198.6 184.1L199.3 184.0L200.0 183.9L200.7 184.0L201.3 184.0L202.0 184.2L202.7 184.5L203.4 184.8L204.1 185.1L204.8 185.5L205.5 186.0L206.2 186.5L206.9 187.1L207.6 187.7L208.3 188.4L209.0 189.1L209.7 189.8L210.4 190.5L211.1 191.3L211.8 192.1L212.5 192.9L213.2 193.7L213.9 194.6L214.5 195.4L215.2 196.2L215.9 197.0L216.6 197.8L217.3 198.6L218.0 199.3L218.7 200.0L219.4 200.7L220.1 201.4L220.8 202.1L221.5 202.7L222.2 203.3L222.9 203.8L223.6 204.4L224.3 204.9L225.0 205.4L225.7 205.8L226.4 206.2L227.0 206.6L227.7 207.0L228.4 207.4L229.1 207.7L229.8 208.0L230.5 208.3L231.2 208.5L231.9 208.7L232.6 208.9L233.3 209.1L234.0 209.3L234.7 209.5L235.4 209.6L236.1 209.7L236.8 209.8L237.5 209.9L238.2 210.0L238.9 210.1L239.5 210.2L240.2 210.3L240.9 210.4L241.6 210.4L242.3 210.5L243.0 210.6L243.7 210.6L244.4 210.7L245.1 210.7L245.8 210.8L246.5 210.8L247.2 210.8L247.9 210.8L248.6 210.9L249.3 210.9L250.0 210.9L250.7 210.9L251.4 210.9L252.0 210.9L252.7 210.9L253.4 210.9L254.1 210.9L254.8 210.9L255.5 210.9L256.2 210.9L256.9 210.9L257.6 210.9L258.3 210.9L259.0 210.9L259.7 210.9L260.4 210.9L261.1 210.9L261.8 210.9L262.5 210.9L263.2 210.9L263.9 210.9L264.5 210.9L265.2 210.9L265.9 210.9L266.6 210.9L267.3 210.9L268.0 210.9L268.7 210.9L269.4 210.9L270.1 210.9L270.8 210.9L271.5 210.9L272.2 210.9L272.9 210.9L273.6 210.9L274.3 210.9L275.0 210.9L275.7 210.9L276.4 210.9L277.1 210.9"/>
<path d="M68.7 38.6L69.4 61.4L70.1 81.1L70.8 97.9L71.5 111.6L72.2 122.6L72.9 131.8L73.6 138.2L74.3 142.7L75.0 146.6L75.6 149.7L76.3 152.3L77.0 154.5L77.7 156.3L78.4 158.0L79.1 159.5L79.8 160.8L80.5 162.0L81.2 163.2L81.9 164.3L82.6 165.3L83.3 166.3L84.0 167.2L84.7 168.1L85.4 169.0L86.1 169.8L86.8 170.5L87.5 171.3L88.1 172.0L88.8 172.6L89.5 173.3L90.2 173.9L90.9 174.5L91.6 175.0L92.3 175.6L93.0 176.1L93.7 176.6L94.4 177.1L95.1 177.6L95.8 178.1L96.5 178.6L97.2 179.0L97.9 179.5L98.6 179.9L99.3 180.3L100.0 180.7L100.6 181.0L101.3 181.4L102.0 181.7L102.7 182.1L103.4 182.4L104.1 182.6L104.8 182.9L105.5 183.1L106.2 183.3L106.9 183.5L107.6 183.7L108.3 183.9L109.0 184.0L109.7 184.2L110.4 184.3L111.1 184.3L111.8 184.4L112.5 184.5L113.1 184.6L113.8 184.6L114.5 184.7L115.2 184.7L115.9 184.7L116.6 184.6L117.3 184.2L118.0 183.6L118.7 182.8L119.4 182.0L120.1 181.2L120.8 180.2L121.5 178.9L122.2 177.5L122.9 176.0L123.6 174.6L124.3 173.3L125.0 172.2L125.6 171.0L126.3 169.9L127.0 168.8L127.7 167.7L128.4 166.8L129.1 165.8L129.8 165.0L130.5 164.3L131.2 163.7L131.9 163.0L132.6 162.4L133.3 161.9L134.0 161.4L134.7 160.9L135.4 160.5L136.1 160.2L136.8 159.9L137.5 159.7L138.2 159.4L138.8 159.2L139.5 159.0L140.2 158.9L140.9 158.8L141.6 158.8L142.3 158.9L143.0 159.0L143.7 159.2L144.4 159.4L145.1 159.6L145.8 159.9L146.5 160.2L147.2 160.5L147.9 160.9L148.6 161.2L149.3 161.6L150.0 162.0L150.7 162.5L151.3 163.1L152.0 163.8L152.7 164.4L153.4 165.1L154.1 165.7L154.8 166.3L155.5 167.0L156.2 167.6L156.9 168.3L157.6 168.9L158.3 169.6L159.0 170.3L159.7 170.9L160.4 171.6L161.1 172.2L161.8 172.9L162.5 173.5L163.2 174.1L163.8 174.8L164.5 175.4L165.2 176.1L165.9 176.7L166.6 177.3L167.3 178.0L168.0 178.6L168.7 179.2L169.4 179.9L170.1 180.5L170.8 181.2L171.5 181.8L172.2 182.5L172.9 183.2L173.6 183.9L174.3 184.7L175.0 185.5L175.7 186.3L176.3 187.1L177.0 187.8L177.7 188.4L178.4 188.9L179.1 189.4L179.8 189.9L180.5 190.3L181.2 190.7L181.9 191.0L182.6 191.3L183.3 191.5L184.0 191.6L184.7 191.7L185.4 191.8L186.1 191.8L186.8 191.7L187.5 191.6L188.2 191.5L188.8 191.4L189.5 191.2L190.2 191.0L190.9 190.8L191.6 190.6L192.3 190.3L193.0 190.1L193.7 189.9L194.4 189.6L195.1 189.4L195.8 189.2L196.5 189.1L197.2 188.9L197.9 188.8L198.6 188.8L199.3 188.7L200.0 188.8L200.7 188.9L201.3 189.0L202.0 189.2L202.7 189.4L203.4 189.7L204.1 190.0L204.8 190.3L205.5 190.7L206.2 191.2L206.9 191.6L207.6 192.1L208.3 192.6L209.0 193.2L209.7 193.8L210.4 194.4L211.1 195.0L211.8 195.6L212.5 196.2L213.2 196.9L213.9 197.5L214.5 198.1L215.2 198.8L215.9 199.4L216.6 200.0L217.3 200.6L218.0 201.2L218.7 201.8L219.4 202.3L220.1 202.9L220.8 203.4L221.5 203.9L222.2 204.3L222.9 204.8L223.6 205.2L224.3 205.6L225.0 206.0L225.7 206.4L226.4 206.8L227.0 207.1L227.7 207.4L228.4 207.7L229.1 208.0L229.8 208.2L230.5 208.5L231.2 208.7L231.9 208.9L232.6 209.1L233.3 209.2L234.0 209.4L234.7 209.5L235.4 209.7L236.1 209.8L236.8 209.9L237.5 210.0L238.2 210.1L238.9 210.2L239.5 210.2L240.2 210.3L240.9 210.4L241.6 210.5L242.3 210.5L243.0 210.6L243.7 210.6L244.4 210.7L245.1 210.7L245.8 210.8L246.5 210.8L247.2 210.8L247.9 210.8L248.6 210.9L249.3 210.9L250.0 210.9L250.7 210.9L251.4 210.9L252.0 210.9L252.7 210.9L253.4 210.9L254.1 210.9L254.8 210.9L255.5 210.9L256.2 210.9L256.9 210.9L257.6 210.9L258.3 210.9L259.0 210.9L259.7 210.9L260.4 210.9L261.1 210.9L261.8 210.9L262.5 210.9L263.2 210.9L263.9 210.9L264.5 210.9L265.2 210.9L265.9 210.9L266.6 210.9L267.3 210.9L268.0 210.9L268.7 210.9L269.4 210.9L270.1 210.9L270.8 210.9L271.5 210.9L272.2 210.9L272.9 210.9L273.6 210.9L274.3 210.9L275.0 210.9L275.7 210.9L276.4 210.9L277.1 210.9"/>
<path d="M68.7 38.6L69.4 61.4L70.1 81.0L70.8 97.8L71.5 111.5L72.2 122.5L72.9 131.7L73.6 138.0L74.3 142.6L75.0 146.4L75.6 149.6L76.3 152.2L77.0 154.3L77.7 156.2L78.4 157.8L79.1 159.3L79.8 160.7L80.5 161.9L81.2 163.0L81.9 164.1L82.6 165.2L83.3 166.2L84.0 167.1L84.7 168.0L85.4 168.8L86.1 169.6L86.8 170.4L87.5 171.1L88.1 171.8L88.8 172.5L89.5 173.1L90.2 173.7L90.9 174.3L91.6 174.9L92.3 175.4L93.0 176.0L93.7 176.5L94.4 177.0L95.1 177.5L95.8 178.0L96.5 178.5L97.2 179.0L97.9 179.4L98.6 179.8L99.3 180.2L100.0 180.6L100.6 181.0L101.3 181.3L102.0 181.7L102.7 182.0L103.4 182.3L104.1 182.6L104.8 182.8L105.5 183.1L106.2 183.3L106.9 183.5L107.6 183.7L108.3 183.9L109.0 184.0L109.7 184.1L110.4 184.2L111.1 184.3L111.8 184.4L112.5 184.5L113.1 184.6L113.8 184.6L114.5 184.7L115.2 184.7L115.9 184.7L116.6 184.6L117.3 184.1L118.0 183.5L118.7 182.7L119.4 181.9L120.1 181.0L120.8 180.0L121.5 178.7L122.2 177.3L122.9 175.7L123.6 174.3L124.3 173.0L125.0 171.8L125.6 170.6L126.3 169.4L127.0 168.3L127.7 167.2L128.4 166.1L129.1 165.2L129.8 164.4L130.5 163.6L131.2 162.9L131.9 162.3L132.6 161.7L133.3 161.1L134.0 160.6L134.7 160.1L135.4 159.7L136.1 159.3L136.8 159.1L137.5 158.8L138.2 158.5L138.8 158.3L139.5 158.1L140.2 157.9L140.9 157.9L141.6 157.9L142.3 157.9L143.0 158.1L143.7 158.2L144.4 158.5L145.1 158.7L145.8 159.0L146.5 159.3L147.2 159.6L147.9 159.9L148.6 160.3L149.3 160.6L150.0 161.1L150.7 161.7L151.3 162.3L152.0 162.9L152.7 163.6L153.4 164.2L154.1 164.9L154.8 165.5L155.5 166.2L156.2 166.8L156.9 167.5L157.6 168.2L158.3 168.9L159.0 169.5L159.7 170.2L160.4 170.9L161.1 171.6L161.8 172.2L162.5 172.9L163.2 173.5L163.8 174.2L164.5 174.8L165.2 175.5L165.9 176.1L166.6 176.8L167.3 177.5L168.0 178.1L168.7 178.8L169.4 179.4L170.1 180.1L170.8 180.7L171.5 181.4L172.2 182.1L172.9 182.8L173.6 183.6L174.3 184.4L175.0 185.2L175.7 186.1L176.3 186.9L177.0 187.7L177.7 188.3L178.4 188.9L179.1 189.5L179.8 190.1L180.5 190.5L181.2 191.0L181.9 191.4L182.6 191.7L183.3 192.0L184.0 192.3L184.7 192.5L185.4 192.7L186.1 192.8L186.8 192.9L187.5 193.0L188.2 193.0L188.8 193.0L189.5 193.0L190.2 193.0L190.9 192.9L191.6 192.9L192.3 192.8L193.0 192.8L193.7 192.7L194.4 192.6L195.1 192.6L195.8 192.5L196.5 192.5L197.2 192.5L197.9 192.5L198.6 192.5L199.3 192.6L200.0 192.7L200.7 192.8L201.3 193.0L202.0 193.2L202.7 193.4L203.4 193.7L204.1 193.9L204.8 194.2L205.5 194.6L206.2 194.9L206.9 195.3L207.6 195.7L208.3 196.1L209.0 196.6L209.7 197.0L210.4 197.5L211.1 198.0L211.8 198.4L212.5 198.9L213.2 199.4L213.9 199.9L214.5 200.4L215.2 200.9L215.9 201.4L216.6 201.8L217.3 202.3L218.0 202.7L218.7 203.2L219.4 203.6L220.1 204.0L220.8 204.4L221.5 204.8L222.2 205.2L222.9 205.6L223.6 205.9L224.3 206.3L225.0 206.6L225.7 206.9L226.4 207.2L227.0 207.5L227.7 207.7L228.4 208.0L229.1 208.2L229.8 208.4L230.5 208.7L231.2 208.8L231.9 209.0L232.6 209.2L233.3 209.3L234.0 209.5L234.7 209.6L235.4 209.7L236.1 209.8L236.8 209.9L237.5 210.0L238.2 210.1L238.9 210.2L239.5 210.2L240.2 210.3L240.9 210.4L241.6 210.5L242.3 210.5L243.0 210.6L243.7 210.6L244.4 210.7L245.1 210.7L245.8 210.8L246.5 210.8L247.2 210.8L247.9 210.8L248.6 210.9L249.3 210.9L250.0 210.9L250.7 210.9L251.4 210.9L252.0 210.9L252.7 210.9L253.4 210.9L254.1 210.9L254.8 210.9L255.5 210.9L256.2 210.9L256.9 210.9L257.6 210.9L258.3 210.9L259.0 210.9L259.7 210.9L260.4 210.9L261.1 210.9L261.8 210.9L262.5 210.9L263.2 210.9L263.9 210.9L264.5 210.9L265.2 210.9L265.9 210.9L266.6 210.9L267.3 210.9L268.0 210.9L268.7 210.9L269.4 210.9L270.1 210.9L270.8 210.9L271.5 210.9L272.2 210.9L272.9 210.9L273.6 210.9L274.3 210.9L275.0 210.9L275.7 210.9L276.4 210.9L277.1 210.9"/>
<path d="M68.7 38.6L69.4 61.4L70.1 81.0L70.8 97.7L71.5 111.4L72.2 122.4L72.9 131.6L73.6 137.9L74.3 142.4L75.0 146.3L75.6 149.4L76.3 152.0L77.0 154.2L77.7 156.0L78.4 157.7L79.1 159.2L79.8 160.5L80.5 161.7L81.2 162.9L81.9 164.0L82.6 165.0L83.3 166.0L84.0 167.0L84.7 167.9L85.4 168.7L86.1 169.5L86.8 170.3L87.5 171.0L88.1 171.7L88.8 172.4L89.5 173.0L90.2 173.6L90.9 174.2L91.6 174.8L92.3 175.3L93.0 175.9L93.7 176.4L94.4 176.9L95.1 177.4L95.8 177.9L96.5 178.4L97.2 178.9L97.9 179.3L98.6 179.8L99.3 180.2L100.0 180.5L100.6 180.9L101.3 181.3L102.0 181.6L102.7 182.0L103.4 182.3L104.1 182.5L104.8 182.8L105.5 183.0L106.2 183.2L106.9 183.5L107.6 183.7L108.3 183.8L109.0 184.0L109.7 184.1L110.4 184.2L111.1 184.3L111.8 184.4L112.5 184.5L113.1 184.6L113.8 184.6L114.5 184.7L115.2 184.7L115.9 184.7L116.6 184.5L117.3 184.1L118.0 183.5L118.7 182.7L119.4 181.8L120.1 180.9L120.8 179.9L121.5 178.5L122.2 177.0L122.9 175.5L123.6 174.0L124.3 172.6L125.0 171.4L125.6 170.2L126.3 169.0L127.0 167.8L127.7 166.7L128.4 165.6L129.1 164.7L129.8 163.8L130.5 163.0L131.2 162.3L131.9 161.7L132.6 161.0L133.3 160.4L134.0 159.9L134.7 159.4L135.4 159.0L136.1 158.6L136.8 158.3L137.5 158.0L138.2 157.8L138.8 157.5L139.5 157.3L140.2 157.2L140.9 157.1L141.6 157.1L142.3 157.1L143.0 157.3L143.7 157.4L144.4 157.7L145.1 157.9L145.8 158.2L146.5 158.5L147.2 158.8L147.9 159.1L148.6 159.5L149.3 159.9L150.0 160.3L150.7 160.9L151.3 161.5L152.0 162.2L152.7 162.8L153.4 163.5L154.1 164.2L154.8 164.8L155.5 165.5L156.2 166.2L156.9 166.9L157.6 167.5L158.3 168.2L159.0 168.9L159.7 169.6L160.4 170.3L161.1 171.0L161.8 171.7L162.5 172.3L163.2 173.0L163.8 173.7L164.5 174.3L165.2 175.0L165.9 175.7L166.6 176.3L167.3 177.0L168.0 177.7L168.7 178.4L169.4 179.0L170.1 179.7L170.8 180.4L171.5 181.1L172.2 181.8L172.9 182.5L173.6 183.3L174.3 184.2L175.0 185.1L175.7 185.9L176.3 186.8L177.0 187.6L177.7 188.3L178.4 189.0L179.1 189.6L179.8 190.2L180.5 190.7L181.2 191.2L181.9 191.7L182.6 192.1L183.3 192.5L184.0 192.9L184.7 193.2L185.4 193.4L186.1 193.7L186.8 193.9L187.5 194.1L188.2 194.3L188.8 194.4L189.5 194.6L190.2 194.7L190.9 194.8L191.6 194.8L192.3 194.9L193.0 195.0L193.7 195.1L194.4 195.2L195.1 195.2L195.8 195.3L196.5 195.4L197.2 195.5L197.9 195.6L198.6 195.7L199.3 195.9L200.0 196.0L200.7 196.2L201.3 196.4L202.0 196.6L202.7 196.8L203.4 197.0L204.1 197.3L204.8 197.6L205.5 197.8L206.2 198.1L206.9 198.4L207.6 198.8L208.3 199.1L209.0 199.4L209.7 199.8L210.4 200.1L211.1 200.5L211.8 200.8L212.5 201.2L213.2 201.6L213.9 201.9L214.5 202.3L215.2 202.7L215.9 203.0L216.6 203.4L217.3 203.7L218.0 204.1L218.7 204.4L219.4 204.7L220.1 205.0L220.8 205.3L221.5 205.6L222.2 205.9L222.9 206.2L223.6 206.5L224.3 206.8L225.0 207.0L225.7 207.3L226.4 207.5L227.0 207.8L227.7 208.0L228.4 208.2L229.1 208.4L229.8 208.6L230.5 208.8L231.2 209.0L231.9 209.1L232.6 209.3L233.3 209.4L234.0 209.5L234.7 209.7L235.4 209.8L236.1 209.8L236.8 209.9L237.5 210.0L238.2 210.1L238.9 210.2L239.5 210.3L240.2 210.3L240.9 210.4L241.6 210.5L242.3 210.5L243.0 210.6L243.7 210.6L244.4 210.7L245.1 210.7L245.8 210.8L246.5 210.8L247.2 210.8L247.9 210.8L248.6 210.9L249.3 210.9L250.0 210.9L250.7 210.9L251.4 210.9L252.0 210.9L252.7 210.9L253.4 210.9L254.1 210.9L254.8 210.9L255.5 210.9L256.2 210.9L256.9 210.9L257.6 210.9L258.3 210.9L259.0 210.9L259.7 210.9L260.4 210.9L261.1 210.9L261.8 210.9L262.5 210.9L263.2 210.9L263.9 210.9L264.5 210.9L265.2 210.9L265.9 210.9L266.6 210.9L267.3 210.9L268.0 210.9L268.7 210.9L269.4 210.9L270.1 210.9L270.8 210.9L271.5 210.9L272.2 210.9L272.9 210.9L273.6 210.9L274.3 210.9L275.0 210.9L275.7 210.9L276.4 210.9L277.1 210.9"/>
<path d="M68.7 38.6L69.4 61.4L70.1 81.0L70.8 97.7L71.5 111.3L72.2 122.3L72.9 131.5L73.6 137.8L74.3 142.3L75.0 146.2L75.6 149.3L76.3 151.9L77.0 154.1L77.7 155.9L78.4 157.6L79.1 159.1L79.8 160.4L80.5 161.6L81.2 162.8L81.9 163.9L82.6 164.9L83.3 165.9L84.0 166.9L84.7 167.8L85.4 168.6L86.1 169.4L86.8 170.2L87.5 170.9L88.1 171.6L88.8 172.3L89.5 172.9L90.2 173.6L90.9 174.2L91.6 174.7L92.3 175.3L93.0 175.8L93.7 176.3L94.4 176.9L95.1 177.4L95.8 177.9L96.5 178.4L97.2 178.8L97.9 179.3L98.6 179.7L99.3 180.1L100.0 180.5L100.6 180.9L101.3 181.2L102.0 181.6L102.7 181.9L103.4 182.2L104.1 182.5L104.8 182.8L105.5 183.0L106.2 183.2L106.9 183.4L107.6 183.6L108.3 183.8L109.0 184.0L109.7 184.1L110.4 184.2L111.1 184.3L111.8 184.4L112.5 184.5L113.1 184.5L113.8 184.6L114.5 184.7L115.2 184.7L115.9 184.7L116.6 184.5L117.3 184.1L118.0 183.4L118.7 182.6L119.4 181.7L120.1 180.8L120.8 179.8L121.5 178.4L122.2 176.9L122.9 175.3L123.6 173.8L124.3 172.4L125.0 171.1L125.6 169.9L126.3 168.7L127.0 167.5L127.7 166.3L128.4 165.2L129.1 164.2L129.8 163.4L130.5 162.6L131.2 161.9L131.9 161.2L132.6 160.5L133.3 159.9L134.0 159.4L134.7 158.9L135.4 158.4L136.1 158.1L136.8 157.8L137.5 157.5L138.2 157.2L138.8 156.9L139.5 156.7L140.2 156.6L140.9 156.5L141.6 156.5L142.3 156.5L143.0 156.6L143.7 156.8L144.4 157.0L145.1 157.3L145.8 157.6L146.5 157.9L147.2 158.2L147.9 158.5L148.6 158.9L149.3 159.3L150.0 159.8L150.7 160.3L151.3 160.9L152.0 161.6L152.7 162.3L153.4 163.0L154.1 163.7L154.8 164.3L155.5 165.0L156.2 165.7L156.9 166.4L157.6 167.1L158.3 167.8L159.0 168.5L159.7 169.2L160.4 169.9L161.1 170.6L161.8 171.2L162.5 171.9L163.2 172.6L163.8 173.3L164.5 174.0L165.2 174.6L165.9 175.3L166.6 176.0L167.3 176.7L168.0 177.4L168.7 178.1L169.4 178.7L170.1 179.4L170.8 180.1L171.5 180.8L172.2 181.6L172.9 182.3L173.6 183.1L174.3 184.0L175.0 184.9L175.7 185.8L176.3 186.7L177.0 187.5L177.7 188.3L178.4 189.0L179.1 189.6L179.8 190.3L180.5 190.9L181.2 191.4L181.9 192.0L182.6 192.5L183.3 192.9L184.0 193.3L184.7 193.7L185.4 194.0L186.1 194.4L186.8 194.7L187.5 195.0L188.2 195.2L188.8 195.5L189.5 195.7L190.2 196.0L190.9 196.2L191.6 196.4L192.3 196.6L193.0 196.7L193.7 196.9L194.4 197.1L195.1 197.3L195.8 197.5L196.5 197.7L197.2 197.8L197.9 198.0L198.6 198.2L199.3 198.4L200.0 198.6L200.7 198.8L201.3 199.0L202.0 199.2L202.7 199.4L203.4 199.7L204.1 199.9L204.8 200.1L205.5 200.4L206.2 200.6L206.9 200.8L207.6 201.1L208.3 201.4L209.0 201.6L209.7 201.9L210.4 202.1L211.1 202.4L211.8 202.7L212.5 203.0L213.2 203.2L213.9 203.5L214.5 203.8L215.2 204.0L215.9 204.3L216.6 204.6L217.3 204.8L218.0 205.1L218.7 205.3L219.4 205.6L220.1 205.8L220.8 206.0L221.5 206.3L222.2 206.5L222.9 206.7L223.6 207.0L224.3 207.2L225.0 207.4L225.7 207.6L226.4 207.8L227.0 208.0L227.7 208.2L228.4 208.4L229.1 208.6L229.8 208.8L230.5 208.9L231.2 209.1L231.9 209.2L232.6 209.4L233.3 209.5L234.0 209.6L234.7 209.7L235.4 209.8L236.1 209.9L236.8 210.0L237.5 210.0L238.2 210.1L238.9 210.2L239.5 210.3L240.2 210.3L240.9 210.4L241.6 210.5L242.3 210.5L243.0 210.6L243.7 210.6L244.4 210.7L245.1 210.7L245.8 210.8L246.5 210.8L247.2 210.8L247.9 210.8L248.6 210.9L249.3 210.9L250.0 210.9L250.7 210.9L251.4 210.9L252.0 210.9L252.7 210.9L253.4 210.9L254.1 210.9L254.8 210.9L255.5 210.9L256.2 210.9L256.9 210.9L257.6 210.9L258.3 210.9L259.0 210.9L259.7 210.9L260.4 210.9L261.1 210.9L261.8 210.9L262.5 210.9L263.2 210.9L263.9 210.9L264.5 210.9L265.2 210.9L265.9 210.9L266.6 210.9L267.3 210.9L268.0 210.9L268.7 210.9L269.4 210.9L270.1 210.9L270.8 210.9L271.5 210.9L272.2 210.9L272.9 210.9L273.6 210.9L274.3 210.9L275.0 210.9L275.7 210.9L276.4 210.9L277.1 210.9"/>
</g>
<text x="90.2" y="138.0" font-size="14.0" font-family="&apos;Liberation Serif&apos;, serif" fill="#111" textLength="12.9" lengthAdjust="spacingAndGlyphs">70</text>
<text x="105.8" y="129.0" font-size="9.8" font-family="&apos;Liberation Serif&apos;, serif" fill="#111">o</text>
<text x="109.6" y="138.0" font-size="14.0" font-family="&apos;Liberation Serif&apos;, serif" fill="#111" textLength="8.4" lengthAdjust="spacingAndGlyphs">C</text>
<text x="91.5" y="168.3" font-size="14.0" font-family="&apos;Liberation Serif&apos;, serif" fill="#111" textLength="12.9" lengthAdjust="spacingAndGlyphs">20</text>
<text x="107.5" y="159.9" font-size="9.8" font-family="&apos;Liberation Serif&apos;, serif" fill="#111">o</text>
<text x="111.6" y="168.3" font-size="14.0" font-family="&apos;Liberation Serif&apos;, serif" fill="#111" textLength="8.4" lengthAdjust="spacingAndGlyphs">C</text>
<line x1="96.8" y1="157.0" x2="96.8" y2="149.0" stroke="#111" stroke-width="1.2" />
<path d="M94.6 150.8 L96.8 141.1 L99.0 150.8 Z" fill="#111"/>
<text x="240.3" y="56.7" font-size="14.5" font-family="&apos;Liberation Serif&apos;, serif" fill="#111" textLength="13.3" lengthAdjust="spacingAndGlyphs">20</text>
<text x="256.0" y="47.0" font-size="9.8" font-family="&apos;Liberation Serif&apos;, serif" fill="#111">o</text>
<text x="260.4" y="56.7" font-size="14.5" font-family="&apos;Liberation Serif&apos;, serif" fill="#111" textLength="8.7" lengthAdjust="spacingAndGlyphs">C</text>
<text x="238.2" y="198.5" font-size="14.5" font-family="&apos;Liberation Serif&apos;, serif" fill="#111" textLength="13.3" lengthAdjust="spacingAndGlyphs">70</text>
<text x="253.8" y="188.7" font-size="9.8" font-family="&apos;Liberation Serif&apos;, serif" fill="#111">o</text>
<text x="258.2" y="198.5" font-size="14.5" font-family="&apos;Liberation Serif&apos;, serif" fill="#111" textLength="8.7" lengthAdjust="spacingAndGlyphs">C</text>
<line x1="246.2" y1="60.5" x2="246.2" y2="177.0" stroke="#111" stroke-width="1.2" />
<path d="M243.4 176 L246.2 185.0 L249.0 176 Z" fill="#111"/>
<line x1="359.4" y1="21.5" x2="359.4" y2="233.8" stroke="#333" stroke-width="1.2" />
<line x1="358.8" y1="233.3" x2="599.9" y2="233.3" stroke="#333" stroke-width="1.2" />
<line x1="599.3" y1="21.5" x2="599.3" y2="234.0" stroke="#444" stroke-width="1.2" />
<line x1="350.5" y1="22.0" x2="359.4" y2="22.0" stroke="#333" stroke-width="1.2" />
<text x="349.3" y="26.6" font-size="14" text-anchor="end" font-family="&apos;Liberation Sans&apos;, sans-serif" fill="#111" >0.6</text>
<line x1="350.5" y1="92.2" x2="359.4" y2="92.2" stroke="#333" stroke-width="1.2" />
<text x="349.3" y="97.3" font-size="14" text-anchor="end" font-family="&apos;Liberation Sans&apos;, sans-serif" fill="#111" >0.4</text>
<line x1="350.5" y1="162.4" x2="359.4" y2="162.4" stroke="#333" stroke-width="1.2" />
<text x="349.3" y="165.0" font-size="14" text-anchor="end" font-family="&apos;Liberation Sans&apos;, sans-serif" fill="#111" >0.2</text>
<line x1="350.5" y1="232.6" x2="359.4" y2="232.6" stroke="#333" stroke-width="1.2" />
<text x="349.3" y="235.5" font-size="14" text-anchor="end" font-family="&apos;Liberation Sans&apos;, sans-serif" fill="#111" >0.0</text>
<line x1="361.4" y1="233.3" x2="361.4" y2="238.3" stroke="#333" stroke-width="1.2" />
<text x="361.4" y="252.3" font-size="14" text-anchor="middle" font-family="&apos;Liberation Sans&apos;, sans-serif" fill="#111" >300</text>
<line x1="408.5" y1="233.3" x2="408.5" y2="238.3" stroke="#333" stroke-width="1.2" />
<text x="408.5" y="252.3" font-size="14" text-anchor="middle" font-family="&apos;Liberation Sans&apos;, sans-serif" fill="#111" >400</text>
<line x1="455.5" y1="233.3" x2="455.5" y2="238.3" stroke="#333" stroke-width="1.2" />
<text x="455.5" y="252.3" font-size="14" text-anchor="middle" font-family="&apos;Liberation Sans&apos;, sans-serif" fill="#111" >500</text>
<line x1="502.6" y1="233.3" x2="502.6" y2="238.3" stroke="#333" stroke-width="1.2" />
<text x="502.6" y="252.3" font-size="14" text-anchor="middle" font-family="&apos;Liberation Sans&apos;, sans-serif" fill="#111" >600</text>
<line x1="549.6" y1="233.3" x2="549.6" y2="238.3" stroke="#333" stroke-width="1.2" />
<text x="549.6" y="252.3" font-size="14" text-anchor="middle" font-family="&apos;Liberation Sans&apos;, sans-serif" fill="#111" >700</text>
<line x1="596.7" y1="233.3" x2="596.7" y2="238.3" stroke="#333" stroke-width="1.2" />
<text x="596.7" y="252.3" font-size="14" text-anchor="middle" font-family="&apos;Liberation Sans&apos;, sans-serif" fill="#111" >800</text>
<line x1="599.3" y1="232.4" x2="605.5" y2="232.4" stroke="#444" stroke-width="1.0" />
<text x="610.8" y="236.5" font-size="11.5" text-anchor="start" font-family="&apos;Liberation Serif&apos;, serif" fill="#333" >0</text>
<line x1="599.3" y1="162.3" x2="605.5" y2="162.3" stroke="#444" stroke-width="1.0" />
<text x="610.8" y="166.4" font-size="11.5" text-anchor="start" font-family="&apos;Liberation Serif&apos;, serif" fill="#333" >400</text>
<line x1="599.3" y1="92.2" x2="605.5" y2="92.2" stroke="#444" stroke-width="1.0" />
<text x="610.8" y="96.3" font-size="11.5" text-anchor="start" font-family="&apos;Liberation Serif&apos;, serif" fill="#333" >800</text>
<line x1="599.3" y1="22.0" x2="605.5" y2="22.0" stroke="#444" stroke-width="1.0" />
<text x="610.8" y="26.1" font-size="11.5" text-anchor="start" font-family="&apos;Liberation Serif&apos;, serif" fill="#333" >1200</text>
<text x="488.8" y="267.7" font-size="14" text-anchor="middle" font-family="&apos;Liberation Sans&apos;, sans-serif" fill="#111" >Wavelength (nm)</text>
<text x="0" y="0" font-size="14" text-anchor="middle" dominant-baseline="central" font-family="&apos;Liberation Sans&apos;, sans-serif" fill="#111" transform="translate(318.6 124.8) rotate(-90)" >Absorbance</text>
<text x="0" y="0" font-size="14.8" text-anchor="middle" dominant-baseline="central" font-family="&apos;Liberation Sans&apos;, sans-serif" fill="#111" transform="translate(644.6 125.0) rotate(90)" >Intensity (AU)</text>
<text x="539.0" y="42.4" font-size="16" text-anchor="middle" font-family="&apos;Liberation Sans&apos;, sans-serif" fill="#111" >(b)</text>
<path d="M361.4 22.0L361.6 34.2L361.9 46.0L362.1 57.1L362.3 67.6L362.6 77.6L362.8 87.3L363.0 96.8L363.3 106.1L363.5 115.5L363.8 124.5L364.0 132.6L364.2 139.8L364.5 146.4L364.7 151.9L364.9 156.3L365.2 160.1L365.4 163.1L365.6 165.5L365.9 167.6L366.1 169.4L366.3 170.8L366.6 172.1L366.8 173.1L367.0 174.1L367.3 175.0L367.5 175.7L367.8 176.4L368.0 177.1L368.2 177.6L368.5 178.2L368.7 178.7L368.9 179.2L369.2 179.7L369.4 180.3L369.6 180.9L369.9 181.5L370.1 182.1L370.3 182.8L370.6 183.4L370.8 184.1L371.0 184.7L371.3 185.3L371.5 185.9L371.8 186.5L372.0 187.1L372.2 187.7L372.5 188.2L372.7 188.8L372.9 189.3L373.2 189.8L373.4 190.3L373.6 190.8L373.9 191.3L374.1 191.8L374.3 192.3L374.6 192.8L374.8 193.2L375.0 193.7L375.3 194.1L375.5 194.5L375.8 194.9L376.0 195.4L376.2 195.8L376.5 196.2L376.7 196.6L376.9 196.9L377.2 197.3L377.4 197.7L377.6 198.1L377.9 198.4L378.1 198.8L378.3 199.2L378.6 199.5L378.8 199.8L379.0 200.2L379.3 200.5L379.5 200.8L379.8 201.1L380.0 201.4L380.2 201.7L380.5 202.0L380.7 202.3L380.9 202.6L381.2 202.8L381.4 203.1L381.6 203.4L381.9 203.7L382.1 203.9L382.3 204.2L382.6 204.4L382.8 204.6L383.0 204.8L383.3 205.1L383.5 205.2L383.8 205.4L384.0 205.6L384.2 205.7L384.5 205.9L384.7 206.0L384.9 206.2L385.2 206.3L385.4 206.5L385.6 206.6L385.9 206.7L386.1 206.8L386.3 206.9L386.6 206.9L386.8 207.0L387.0 207.0L387.3 207.0L387.5 206.9L387.8 206.9L388.0 206.8L388.2 206.8L388.5 206.7L388.7 206.6L388.9 206.5L389.2 206.4L389.4 206.2L389.6 206.1L389.9 206.0L390.1 205.8L390.3 205.7L390.6 205.6L390.8 205.4L391.0 205.3L391.3 205.1L391.5 204.9L391.8 204.6L392.0 204.4L392.2 204.2L392.5 203.9L392.7 203.6L392.9 203.3L393.2 203.0L393.4 202.8L393.6 202.4L393.9 202.1L394.1 201.8L394.3 201.5L394.6 201.2L394.8 200.9L395.0 200.6L395.3 200.3L395.5 200.0L395.8 199.7L396.0 199.4L396.2 199.0L396.5 198.7L396.7 198.3L396.9 198.0L397.2 197.6L397.4 197.3L397.6 196.9L397.9 196.6L398.1 196.2L398.3 195.9L398.6 195.5L398.8 195.2L399.0 194.8L399.3 194.5L399.5 194.2L399.8 193.9L400.0 193.6L400.2 193.4L400.5 193.1L400.7 192.8L400.9 192.6L401.2 192.3L401.4 192.0L401.6 191.8L401.9 191.6L402.1 191.4L402.3 191.2L402.6 191.0L402.8 190.8L403.0 190.7L403.3 190.5L403.5 190.4L403.8 190.2L404.0 190.1L404.2 190.0L404.5 189.9L404.7 189.8L404.9 189.8L405.2 189.8L405.4 189.8L405.6 189.9L405.9 190.0L406.1 190.1L406.3 190.3L406.6 190.4L406.8 190.6L407.0 190.8L407.3 191.0L407.5 191.2L407.8 191.4L408.0 191.6L408.2 191.9L408.5 192.2L408.7 192.5L408.9 192.8L409.2 193.1L409.4 193.5L409.6 193.8L409.9 194.2L410.1 194.6L410.3 194.9L410.6 195.3L410.8 195.7L411.0 196.1L411.3 196.4L411.5 196.8L411.8 197.2L412.0 197.6L412.2 198.0L412.5 198.4L412.7 198.8L412.9 199.3L413.2 199.7L413.4 200.1L413.6 200.6L413.9 201.0L414.1 201.4L414.3 201.8L414.6 202.2L414.8 202.7L415.0 203.1L415.3 203.4L415.5 203.8L415.8 204.2L416.0 204.6L416.2 204.9L416.5 205.3L416.7 205.6L416.9 206.0L417.2 206.4L417.4 206.7L417.6 207.1L417.9 207.4L418.1 207.7L418.3 208.1L418.6 208.4L418.8 208.7L419.0 209.0L419.3 209.3L419.5 209.6L419.8 209.9L420.0 210.2L420.2 210.5L420.5 210.8L420.7 211.0L420.9 211.3L421.2 211.6L421.4 211.8L421.6 212.1L421.9 212.3L422.1 212.6L422.3 212.8L422.6 213.1L422.8 213.3L423.0 213.5L423.3 213.8L423.5 214.0L423.8 214.2L424.0 214.4L424.2 214.5L424.5 214.7L424.7 214.9L424.9 215.0L425.2 215.2L425.4 215.3L425.6 215.5L425.9 215.6L426.1 215.8L426.3 215.9L426.6 216.0L426.8 216.1L427.0 216.2L427.3 216.3L427.5 216.4L427.8 216.5L428.0 216.5L428.2 216.6L428.5 216.6L428.7 216.7L428.9 216.7L429.2 216.7L429.4 216.8L429.6 216.8L429.9 216.8L430.1 216.8L430.3 216.8L430.6 216.7L430.8 216.6L431.0 216.5L431.3 216.3L431.5 216.2L431.8 216.0L432.0 215.8L432.2 215.6L432.5 215.4L432.7 215.2L432.9 215.0L433.2 214.7L433.4 214.4L433.6 214.1L433.9 213.8L434.1 213.5L434.3 213.1L434.6 212.7L434.8 212.3L435.0 211.8L435.3 211.3L435.5 210.6L435.8 209.9L436.0 209.1L436.2 208.3L436.5 207.4L436.7 206.4L436.9 205.5L437.2 204.5L437.4 203.5L437.6 202.5L437.9 201.5L438.1 200.4L438.3 199.2L438.6 198.0L438.8 196.7L439.0 195.4L439.3 194.0L439.5 192.6L439.8 191.1L440.0 189.5L440.2 187.7L440.5 185.8L440.7 183.7L440.9 181.4L441.2 179.1L441.4 176.8L441.6 174.4L441.9 172.0L442.1 169.5L442.3 166.9L442.6 164.3L442.8 161.6L443.0 158.7L443.3 155.8L443.5 152.8L443.8 149.6L444.0 146.3L444.2 142.7L444.5 138.9L444.7 134.9L444.9 130.9L445.2 126.8L445.4 122.8L445.6 118.9L445.9 115.1L446.1 111.5L446.3 108.1L446.6 104.6L446.8 101.2L447.0 97.8L447.3 94.5L447.5 91.2L447.8 88.1L448.0 85.1L448.2 82.3L448.5 79.7L448.7 77.3L448.9 75.1L449.2 73.0L449.4 70.9L449.6 69.0L449.9 67.2L450.1 65.6L450.3 64.4L450.6 63.4L450.8 62.7L451.0 61.9L451.3 61.3L451.5 60.7L451.8 60.2L452.0 59.9L452.2 59.7L452.5 59.8L452.7 60.0L452.9 60.3L453.2 60.8L453.4 61.4L453.6 62.0L453.9 62.7L454.1 63.4L454.3 64.2L454.6 65.3L454.8 66.4L455.0 67.8L455.3 69.3L455.5 70.9L455.8 72.5L456.0 74.4L456.2 76.5L456.5 78.8L456.7 81.4L456.9 84.1L457.2 87.0L457.4 90.1L457.6 93.2L457.9 96.3L458.1 99.5L458.3 102.7L458.6 105.8L458.8 108.9L459.0 111.9L459.3 115.0L459.5 118.1L459.8 121.3L460.0 124.5L460.2 127.8L460.5 131.0L460.7 134.3L460.9 137.5L461.2 140.6L461.4 143.7L461.6 146.8L461.9 149.7L462.1 152.6L462.3 155.3L462.6 158.1L462.8 160.8L463.0 163.4L463.3 166.0L463.5 168.6L463.8 171.1L464.0 173.7L464.2 176.2L464.5 178.8L464.7 181.3L464.9 183.8L465.2 186.2L465.4 188.4L465.6 190.5L465.9 192.5L466.1 194.4L466.3 196.1L466.6 197.8L466.8 199.5L467.0 201.0L467.3 202.5L467.5 204.0L467.8 205.4L468.0 206.8L468.2 208.1L468.5 209.3L468.7 210.5L468.9 211.5L469.2 212.5L469.4 213.5L469.6 214.4L469.9 215.3L470.1 216.1L470.3 216.9L470.6 217.6L470.8 218.3L471.0 219.0L471.3 219.6L471.5 220.2L471.8 220.8L472.0 221.3L472.2 221.9L472.5 222.4L472.7 222.9L472.9 223.3L473.2 223.8L473.4 224.2L473.6 224.6L473.9 225.0L474.1 225.3L474.3 225.6L474.6 225.9L474.8 226.1L475.0 226.4L475.3 226.6L475.5 226.8L475.8 227.0L476.0 227.2L476.2 227.4L476.5 227.6L476.7 227.8L476.9 228.0L477.2 228.2L477.4 228.3L477.6 228.5L477.9 228.6L478.1 228.8L478.3 228.9L478.6 229.1L478.8 229.3L479.0 229.4L479.3 229.6L479.5 229.7L479.8 229.9L480.0 230.1L480.2 230.2L480.5 230.3L480.7 230.5L480.9 230.6L481.2 230.7L481.4 230.7L481.6 230.8L481.9 230.8L482.1 230.9L482.3 230.9L482.6 230.9L482.8 231.0L483.1 231.0L483.3 231.0L483.5 231.0L483.8 231.1L484.0 231.1L484.2 231.1L484.5 231.1L484.7 231.2L484.9 231.2L485.2 231.2L485.4 231.2L485.6 231.2L485.9 231.3L486.1 231.3L486.3 231.3L486.6 231.3L486.8 231.3L487.1 231.3L487.3 231.4L487.5 231.4L487.8 231.4L488.0 231.4L488.2 231.4L488.5 231.4L488.7 231.4L488.9 231.5L489.2 231.5L489.4 231.5L489.6 231.5L489.9 231.5L490.1 231.5L490.3 231.5L490.6 231.5L490.8 231.5L491.1 231.5L491.3 231.5L491.5 231.5L491.8 231.5L492.0 231.5L492.2 231.5L492.5 231.5L492.7 231.5L492.9 231.5L493.2 231.5L493.4 231.5L493.6 231.5L493.9 231.5L494.1 231.5L494.3 231.5L494.6 231.5L494.8 231.5L495.1 231.5L495.3 231.5L495.5 231.5L495.8 231.5L496.0 231.5L496.2 231.5L496.5 231.5L496.7 231.5L496.9 231.5L497.2 231.5L497.4 231.5L497.6 231.5L497.9 231.5L498.1 231.5L498.3 231.5L498.6 231.5L498.8 231.5L499.1 231.5L499.3 231.5L499.5 231.5L499.8 231.5L500.0 231.5L500.2 231.5L500.5 231.5L500.7 231.5L500.9 231.5L501.2 231.5L501.4 231.5L501.6 231.4L501.9 231.4L502.1 231.4L502.3 231.4L502.6 231.4L502.8 231.4L503.1 231.4L503.3 231.4L503.5 231.4L503.8 231.4L504.0 231.4L504.2 231.4L504.5 231.4L504.7 231.4L504.9 231.4L505.2 231.4L505.4 231.4L505.6 231.4L505.9 231.4L506.1 231.3L506.3 231.3L506.6 231.3L506.8 231.3L507.1 231.3L507.3 231.3L507.5 231.3L507.8 231.3L508.0 231.3L508.2 231.3L508.5 231.3L508.7 231.3L508.9 231.3L509.2 231.3L509.4 231.3L509.6 231.3L509.9 231.2L510.1 231.2L510.3 231.2L510.6 231.2L510.8 231.2L511.1 231.2L511.3 231.2L511.5 231.2L511.8 231.2L512.0 231.2L512.2 231.2L512.5 231.2L512.7 231.2L512.9 231.2L513.2 231.2L513.4 231.2L513.6 231.2L513.9 231.1L514.1 231.1L514.3 231.1L514.6 231.1L514.8 231.1L515.1 231.1L515.3 231.1L515.5 231.1L515.8 231.1L516.0 231.1L516.2 231.1L516.5 231.1L516.7 231.1L516.9 231.0L517.2 231.0L517.4 231.0L517.6 231.0L517.9 231.0L518.1 231.0L518.3 231.0L518.6 231.0L518.8 231.0L519.1 231.0L519.3 231.0L519.5 230.9L519.8 230.9L520.0 230.9L520.2 230.9L520.5 230.9L520.7 230.9L520.9 230.9L521.2 230.9L521.4 230.9L521.6 230.9L521.9 230.9L522.1 230.8L522.3 230.8L522.6 230.8L522.8 230.8L523.1 230.8L523.3 230.8L523.5 230.8L523.8 230.8L524.0 230.8L524.2 230.8L524.5 230.7L524.7 230.7L524.9 230.7L525.2 230.7L525.4 230.7L525.6 230.7L525.9 230.7L526.1 230.7L526.3 230.7L526.6 230.7L526.8 230.7L527.1 230.6L527.3 230.6L527.5 230.6L527.8 230.6L528.0 230.6L528.2 230.6L528.5 230.6L528.7 230.6L528.9 230.6L529.2 230.6L529.4 230.5L529.6 230.5L529.9 230.5L530.1 230.5L530.3 230.5L530.6 230.5L530.8 230.5L531.1 230.5L531.3 230.5L531.5 230.5L531.8 230.5L532.0 230.5L532.2 230.4L532.5 230.4L532.7 230.4L532.9 230.4L533.2 230.4L533.4 230.4L533.6 230.4L533.9 230.4L534.1 230.4L534.3 230.4L534.6 230.4L534.8 230.3L535.1 230.3L535.3 230.3L535.5 230.3L535.8 230.3L536.0 230.3L536.2 230.3L536.5 230.3L536.7 230.3L536.9 230.3L537.2 230.3L537.4 230.2L537.6 230.2L537.9 230.2L538.1 230.2L538.3 230.2L538.6 230.2L538.8 230.2L539.1 230.2L539.3 230.2L539.5 230.2L539.8 230.2L540.0 230.2L540.2 230.1L540.5 230.1L540.7 230.1L540.9 230.1L541.2 230.1L541.4 230.1L541.6 230.1L541.9 230.1L542.1 230.1L542.3 230.1L542.6 230.1L542.8 230.0L543.1 230.0L543.3 230.0L543.5 230.0L543.8 230.0L544.0 230.0L544.2 230.0L544.5 230.0L544.7 230.0L544.9 230.0L545.2 230.0L545.4 229.9L545.6 229.9L545.9 229.9L546.1 229.9L546.3 229.9L546.6 229.9L546.8 229.9L547.1 229.9L547.3 229.9L547.5 229.9L547.8 229.9L548.0 229.9L548.2 229.8L548.5 229.8L548.7 229.8L548.9 229.8L549.2 229.8L549.4 229.8L549.6 229.8" fill="none" stroke="#000" stroke-width="2.0" stroke-linejoin="round"/>
<path d="M455.1 225.8L455.3 224.8L455.6 223.8L455.8 222.8L456.0 221.8L456.3 220.8L456.5 219.8L456.7 218.7L457.0 217.7L457.2 216.6L457.4 215.5L457.7 214.4L457.9 213.4L458.2 212.2L458.4 211.1L458.6 210.0L458.9 208.9L459.1 207.7L459.3 206.6L459.6 205.4L459.8 204.3L460.0 203.1L460.3 202.0L460.5 200.8L460.7 199.7L461.0 198.6L461.2 197.5L461.4 196.5L461.7 195.4L461.9 194.3L462.2 193.2L462.4 192.1L462.6 190.9L462.9 189.8L463.1 188.5L463.3 187.3L463.6 185.9L463.8 184.5L464.0 183.0L464.3 181.4L464.5 179.8L464.7 178.0L465.0 176.2L465.2 174.3L465.4 172.3L465.7 170.2L465.9 168.1L466.2 165.9L466.4 163.7L466.6 161.4L466.9 159.0L467.1 156.6L467.3 154.2L467.6 151.8L467.8 149.3L468.0 146.7L468.3 144.0L468.5 141.0L468.7 138.0L469.0 134.8L469.2 131.5L469.4 128.3L469.7 125.0L469.9 121.8L470.2 118.6L470.4 115.6L470.6 112.7L470.9 110.0L471.1 107.4L471.3 104.7L471.6 102.1L471.8 99.5L472.0 97.0L472.3 94.5L472.5 92.1L472.7 89.7L473.0 87.4L473.2 85.2L473.4 83.1L473.7 81.0L473.9 79.1L474.2 77.3L474.4 75.5L474.6 73.7L474.9 71.9L475.1 70.2L475.3 68.6L475.6 67.1L475.8 65.6L476.0 64.3L476.3 63.2L476.5 62.2L476.7 61.3L477.0 60.6L477.2 59.8L477.4 59.1L477.7 58.4L477.9 57.9L478.2 57.4L478.4 57.0L478.6 56.8L478.9 56.8L479.1 56.8L479.3 57.0L479.6 57.3L479.8 57.6L480.0 58.0L480.3 58.4L480.5 58.9L480.7 59.3L481.0 59.8L481.2 60.4L481.5 61.1L481.7 61.9L481.9 62.8L482.2 63.8L482.4 64.9L482.6 66.0L482.9 67.1L483.1 68.2L483.3 69.4L483.6 70.5L483.8 71.7L484.0 72.9L484.3 74.1L484.5 75.4L484.7 76.7L485.0 78.0L485.2 79.4L485.5 80.8L485.7 82.2L485.9 83.7L486.2 85.2L486.4 86.7L486.6 88.3L486.9 89.9L487.1 91.5L487.3 93.1L487.6 94.9L487.8 96.7L488.0 98.5L488.3 100.4L488.5 102.4L488.7 104.3L489.0 106.3L489.2 108.4L489.5 110.4L489.7 112.4L489.9 114.3L490.2 116.3L490.4 118.2L490.6 120.1L490.9 122.0L491.1 123.9L491.3 125.8L491.6 127.6L491.8 129.5L492.0 131.4L492.3 133.2L492.5 135.1L492.7 136.9L493.0 138.8L493.2 140.6L493.5 142.4L493.7 144.2L493.9 146.0L494.2 147.7L494.4 149.5L494.6 151.3L494.9 153.0L495.1 154.8L495.3 156.6L495.6 158.3L495.8 160.0L496.0 161.7L496.3 163.4L496.5 165.0L496.7 166.6L497.0 168.2L497.2 169.7L497.5 171.2L497.7 172.6L497.9 174.0L498.2 175.4L498.4 176.8L498.6 178.2L498.9 179.6L499.1 180.9L499.3 182.2L499.6 183.5L499.8 184.8L500.0 186.1L500.3 187.3L500.5 188.5L500.7 189.6L501.0 190.8L501.2 191.8L501.5 192.9L501.7 193.9L501.9 194.9L502.2 195.8L502.4 196.8L502.6 197.7L502.9 198.6L503.1 199.5L503.3 200.4L503.6 201.3L503.8 202.1L504.0 203.0L504.3 203.8L504.5 204.6L504.7 205.4L505.0 206.2L505.2 206.9L505.5 207.7L505.7 208.4L505.9 209.1L506.2 209.8L506.4 210.4L506.6 211.0L506.9 211.6L507.1 212.2L507.3 212.8L507.6 213.3L507.8 213.8L508.0 214.3L508.3 214.8L508.5 215.2L508.7 215.7L509.0 216.1L509.2 216.5L509.5 216.9L509.7 217.3L509.9 217.7L510.2 218.1L510.4 218.4L510.6 218.8L510.9 219.1L511.1 219.4L511.3 219.7L511.6 220.0L511.8 220.3L512.0 220.5L512.3 220.8L512.5 221.0L512.7 221.3L513.0 221.5L513.2 221.7L513.5 221.9L513.7 222.2L513.9 222.4L514.2 222.6L514.4 222.8L514.6 222.9L514.9 223.1L515.1 223.3L515.3 223.5L515.6 223.6L515.8 223.8L516.0 223.9L516.3 224.1L516.5 224.2L516.7 224.4L517.0 224.5L517.2 224.6L517.5 224.7L517.7 224.9L517.9 225.0L518.2 225.1L518.4 225.2L518.6 225.3L518.9 225.5L519.1 225.6L519.3 225.7L519.6 225.8L519.8 225.9L520.0 226.0L520.3 226.1L520.5 226.1L520.7 226.2L521.0 226.3L521.2 226.4L521.5 226.5L521.7 226.5L521.9 226.6L522.2 226.7L522.4 226.7L522.6 226.8L522.9 226.9L523.1 226.9L523.3 227.0L523.6 227.1L523.8 227.1L524.0 227.2L524.3 227.2L524.5 227.3L524.7 227.3L525.0 227.4L525.2 227.4L525.5 227.5L525.7 227.5L525.9 227.5L526.2 227.6L526.4 227.6L526.6 227.7L526.9 227.7L527.1 227.7L527.3 227.7L527.6 227.8L527.8 227.8L528.0 227.8L528.3 227.9L528.5 227.9L528.7 227.9L529.0 227.9L529.2 227.9L529.5 228.0L529.7 228.0L529.9 228.0L530.2 228.0L530.4 228.1L530.6 228.1L530.9 228.1L531.1 228.1L531.3 228.1L531.6 228.2L531.8 228.2L532.0 228.2L532.3 228.2L532.5 228.2L532.7 228.2L533.0 228.3L533.2 228.3L533.5 228.3L533.7 228.3L533.9 228.3L534.2 228.3L534.4 228.3L534.6 228.3L534.9 228.4L535.1 228.4L535.3 228.4L535.6 228.4L535.8 228.4L536.0 228.4L536.3 228.4L536.5 228.4L536.7 228.5L537.0 228.5L537.2 228.5L537.5 228.5L537.7 228.5L537.9 228.5L538.2 228.5L538.4 228.5L538.6 228.5L538.9 228.6L539.1 228.6L539.3 228.6L539.6 228.6L539.8 228.6L540.0 228.6L540.3 228.6L540.5 228.6L540.7 228.6L541.0 228.7L541.2 228.7L541.5 228.7L541.7 228.7L541.9 228.7L542.2 228.7L542.4 228.7L542.6 228.7L542.9 228.7L543.1 228.7L543.3 228.7L543.6 228.7L543.8 228.8L544.0 228.8L544.3 228.8L544.5 228.8L544.7 228.8L545.0 228.8L545.2 228.8L545.5 228.8L545.7 228.8L545.9 228.8L546.2 228.8L546.4 228.8L546.6 228.8L546.9 228.8L547.1 228.8L547.3 228.9L547.6 228.9L547.8 228.9L548.0 228.9L548.3 228.9L548.5 228.9L548.7 228.9L549.0 228.9L549.2 228.9L549.5 228.9L549.7 228.9L549.9 228.9L550.2 228.9L550.4 228.9L550.6 228.9L550.9 228.9L551.1 228.9L551.3 228.9L551.6 228.9L551.8 228.9L552.0 228.9L552.3 228.9L552.5 228.9L552.7 228.9L553.0 228.9L553.2 228.9L553.5 228.9L553.7 228.9L553.9 228.9L554.2 228.9L554.4 228.9L554.6 228.9L554.9 229.0L555.1 229.0L555.3 229.0L555.6 229.0L555.8 229.0L556.0 229.0L556.3 229.0L556.5 229.0L556.7 229.0L557.0 229.0L557.2 229.0L557.5 229.0L557.7 229.0L557.9 229.0L558.2 229.0L558.4 229.0L558.6 229.0L558.9 229.0L559.1 229.0L559.3 229.0L559.6 229.0L559.8 229.0L560.0 229.0L560.3 229.0L560.5 229.0L560.7 229.0L561.0 229.0L561.2 229.0L561.5 229.0L561.7 229.0L561.9 229.0L562.2 229.0L562.4 229.0L562.6 229.0L562.9 229.0L563.1 229.0L563.3 229.0L563.6 229.0L563.8 229.0L564.0 229.0L564.3 229.0L564.5 229.0L564.7 229.0L565.0 229.0L565.2 229.0L565.5 229.0L565.7 229.0L565.9 229.0L566.2 229.0L566.4 229.0L566.6 229.0L566.9 229.0L567.1 229.0L567.3 229.0L567.6 229.0L567.8 229.0L568.0 229.0L568.3 229.0L568.5 229.0L568.7 229.0L569.0 229.0L569.2 229.0L569.5 229.0L569.7 229.0L569.9 229.0L570.2 229.0L570.4 229.1L570.6 229.1L570.9 229.1L571.1 229.1L571.3 229.1L571.6 229.1L571.8 229.1L572.0 229.1L572.3 229.1L572.5 229.1L572.7 229.1L573.0 229.1L573.2 229.1L573.5 229.1L573.7 229.1L573.9 229.1L574.2 229.1L574.4 229.1L574.6 229.1L574.9 229.1L575.1 229.1L575.3 229.1L575.6 229.1L575.8 229.1L576.0 229.1L576.3 229.1L576.5 229.1L576.7 229.1L577.0 229.1L577.2 229.1L577.5 229.1L577.7 229.1L577.9 229.1L578.2 229.1L578.4 229.1L578.6 229.1L578.9 229.1L579.1 229.1L579.3 229.1L579.6 229.1L579.8 229.1L580.0 229.1L580.3 229.1L580.5 229.1L580.7 229.1L581.0 229.1L581.2 229.1L581.5 229.1L581.7 229.1L581.9 229.1L582.2 229.1L582.4 229.1L582.6 229.1L582.9 229.1L583.1 229.1L583.3 229.1L583.6 229.1L583.8 229.1L584.0 229.2L584.3 229.2L584.5 229.2L584.7 229.2L585.0 229.2L585.2 229.2L585.5 229.2L585.7 229.2L585.9 229.2L586.2 229.2L586.4 229.2L586.6 229.2L586.9 229.2L587.1 229.2L587.3 229.2L587.6 229.2L587.8 229.2L588.0 229.2L588.3 229.2L588.5 229.2L588.7 229.2L589.0 229.2L589.2 229.2L589.5 229.2L589.7 229.2L589.9 229.2L590.2 229.2L590.4 229.2L590.6 229.2L590.9 229.2L591.1 229.2L591.3 229.2L591.6 229.2L591.8 229.2L592.0 229.2L592.3 229.2L592.5 229.2L592.7 229.2L593.0 229.2L593.2 229.2L593.5 229.2L593.7 229.2L593.9 229.2L594.2 229.2L594.4 229.2L594.6 229.2L594.9 229.2L595.1 229.2L595.3 229.2L595.6 229.2L595.8 229.2L596.0 229.2L596.3 229.2L596.5 229.2" fill="none" stroke="#e3261f" stroke-width="2.3" stroke-dasharray="4 3"/>
<rect x="65.8" y="281.0" width="215.8" height="201.6" fill="none" stroke="#111" stroke-width="1.4"/>
<line x1="56.4" y1="304.5" x2="65.8" y2="304.5" stroke="#111" stroke-width="1.4" />
<line x1="281.6" y1="304.5" x2="291.0" y2="304.5" stroke="#111" stroke-width="1.4" />
<text x="52.0" y="309.1" font-size="13" text-anchor="end" font-family="&apos;Liberation Sans&apos;, sans-serif" fill="#111" >0.15</text>
<line x1="56.4" y1="353.0" x2="65.8" y2="353.0" stroke="#111" stroke-width="1.4" />
<line x1="281.6" y1="353.0" x2="291.0" y2="353.0" stroke="#111" stroke-width="1.4" />
<text x="52.0" y="357.6" font-size="13" text-anchor="end" font-family="&apos;Liberation Sans&apos;, sans-serif" fill="#111" >0.10</text>
<line x1="56.4" y1="401.5" x2="65.8" y2="401.5" stroke="#111" stroke-width="1.4" />
<line x1="281.6" y1="401.5" x2="291.0" y2="401.5" stroke="#111" stroke-width="1.4" />
<text x="52.0" y="406.1" font-size="13" text-anchor="end" font-family="&apos;Liberation Sans&apos;, sans-serif" fill="#111" >0.05</text>
<line x1="56.4" y1="450.0" x2="65.8" y2="450.0" stroke="#111" stroke-width="1.4" />
<line x1="281.6" y1="450.0" x2="291.0" y2="450.0" stroke="#111" stroke-width="1.4" />
<text x="52.0" y="454.6" font-size="13" text-anchor="end" font-family="&apos;Liberation Sans&apos;, sans-serif" fill="#111" >0.00</text>
<line x1="69.8" y1="482.6" x2="69.8" y2="492.3" stroke="#111" stroke-width="1.4" />
<line x1="69.8" y1="281.0" x2="69.8" y2="271.4" stroke="#111" stroke-width="1.4" />
<line x1="104.5" y1="482.6" x2="104.5" y2="488.0" stroke="#111" stroke-width="1.4" />
<line x1="104.5" y1="281.0" x2="104.5" y2="276.1" stroke="#111" stroke-width="1.4" />
<line x1="139.2" y1="482.6" x2="139.2" y2="492.3" stroke="#111" stroke-width="1.4" />
<line x1="139.2" y1="281.0" x2="139.2" y2="271.4" stroke="#111" stroke-width="1.4" />
<line x1="173.9" y1="482.6" x2="173.9" y2="488.0" stroke="#111" stroke-width="1.4" />
<line x1="173.9" y1="281.0" x2="173.9" y2="276.1" stroke="#111" stroke-width="1.4" />
<line x1="208.5" y1="482.6" x2="208.5" y2="492.3" stroke="#111" stroke-width="1.4" />
<line x1="208.5" y1="281.0" x2="208.5" y2="271.4" stroke="#111" stroke-width="1.4" />
<line x1="243.2" y1="482.6" x2="243.2" y2="488.0" stroke="#111" stroke-width="1.4" />
<line x1="243.2" y1="281.0" x2="243.2" y2="276.1" stroke="#111" stroke-width="1.4" />
<line x1="277.9" y1="482.6" x2="277.9" y2="492.3" stroke="#111" stroke-width="1.4" />
<line x1="277.9" y1="281.0" x2="277.9" y2="271.4" stroke="#111" stroke-width="1.4" />
<text x="69.8" y="510.6" font-size="13.2" text-anchor="middle" font-family="&apos;Liberation Sans&apos;, sans-serif" fill="#111" >300</text>
<text x="139.2" y="510.6" font-size="13.2" text-anchor="middle" font-family="&apos;Liberation Sans&apos;, sans-serif" fill="#111" >400</text>
<text x="208.5" y="510.6" font-size="13.2" text-anchor="middle" font-family="&apos;Liberation Sans&apos;, sans-serif" fill="#111" >500</text>
<text x="277.9" y="510.6" font-size="13.2" text-anchor="middle" font-family="&apos;Liberation Sans&apos;, sans-serif" fill="#111" >600</text>
<text x="172.5" y="525.7" font-size="14.2" text-anchor="middle" font-family="&apos;Liberation Sans&apos;, sans-serif" fill="#111" >Wavelength (nm)</text>
<text x="0" y="0" font-size="12.7" text-anchor="middle" dominant-baseline="central" font-family="&apos;Liberation Sans&apos;, sans-serif" fill="#111" transform="translate(11.4 382.2) rotate(-90)" >Absorbance</text>
<text x="87.9" y="335.6" font-size="16" text-anchor="middle" font-family="&apos;Liberation Sans&apos;, sans-serif" fill="#111" >(c)</text>
<g fill="none" stroke-linejoin="round" stroke-linecap="round">
<path d="M69.1 365.1L69.8 367.2L70.5 370.6L71.2 374.9L71.9 379.4L72.6 383.6L73.3 387.1L74.0 389.9L74.7 392.4L75.3 394.8L76.0 397.0L76.7 399.1L77.4 401.1L78.1 403.0L78.8 404.8L79.5 406.5L80.2 408.2L80.9 409.7L81.6 411.2L82.3 412.7L83.0 414.2L83.7 415.6L84.4 416.9L85.1 418.2L85.8 419.5L86.4 420.7L87.1 421.8L87.8 422.9L88.5 424.0L89.2 425.1L89.9 426.1L90.6 427.1L91.3 428.0L92.0 428.9L92.7 429.9L93.4 430.8L94.1 431.6L94.8 432.4L95.5 432.9L96.2 433.5L96.9 434.0L97.5 434.5L98.2 434.9L98.9 435.1L99.6 435.3L100.3 435.4L101.0 435.5L101.7 435.5L102.4 435.6L103.1 435.6L103.8 435.6L104.5 435.6L105.2 435.4L105.9 435.1L106.6 434.7L107.3 434.2L108.0 433.7L108.6 433.2L109.3 432.6L110.0 431.9L110.7 431.0L111.4 430.1L112.1 429.1L112.8 428.2L113.5 427.2L114.2 426.1L114.9 425.0L115.6 423.9L116.3 422.7L117.0 421.4L117.7 420.2L118.4 418.8L119.1 417.4L119.7 416.0L120.4 414.6L121.1 413.1L121.8 411.7L122.5 410.3L123.2 408.9L123.9 407.6L124.6 406.2L125.3 404.8L126.0 403.4L126.7 401.9L127.4 400.3L128.1 398.7L128.8 397.1L129.5 395.5L130.2 393.8L130.8 392.1L131.5 390.3L132.2 388.3L132.9 386.3L133.6 384.3L134.3 382.4L135.0 380.8L135.7 379.4L136.4 378.1L137.1 376.7L137.8 375.5L138.5 374.5L139.2 373.8L139.9 373.6L140.6 373.6L141.3 373.7L141.9 373.8L142.6 373.9L143.3 374.1L144.0 374.9L144.7 376.0L145.4 377.6L146.1 379.3L146.8 381.3L147.5 383.3L148.2 385.3L148.9 387.3L149.6 389.5L150.3 392.0L151.0 394.5L151.7 397.1L152.4 399.6L153.0 402.0L153.7 404.4L154.4 406.8L155.1 408.9L155.8 410.8L156.5 412.4L157.2 413.8L157.9 415.0L158.6 416.2L159.3 417.5L160.0 418.8L160.7 420.2L161.4 421.7L162.1 423.2L162.8 424.6L163.4 425.9L164.1 427.0L164.8 428.2L165.5 429.3L166.2 430.3L166.9 431.0L167.6 431.5L168.3 431.6L169.0 431.7L169.7 431.7L170.4 431.8L171.1 431.8L171.8 431.7L172.5 431.4L173.2 431.1L173.9 430.6L174.5 430.0L175.2 429.4L175.9 428.8L176.6 428.3L177.3 427.7L178.0 427.1L178.7 426.5L179.4 425.8L180.1 425.1L180.8 424.4L181.5 423.7L182.2 422.9L182.9 422.1L183.6 421.3L184.3 420.5L185.0 419.6L185.6 418.7L186.3 417.8L187.0 416.9L187.7 416.0L188.4 415.0L189.1 414.0L189.8 413.1L190.5 412.1L191.2 411.1L191.9 410.1L192.6 409.2L193.3 408.4L194.0 407.5L194.7 406.6L195.4 405.7L196.1 404.9L196.7 404.2L197.4 403.6L198.1 403.1L198.8 402.6L199.5 402.1L200.2 401.6L200.9 401.2L201.6 400.9L202.3 400.6L203.0 400.5L203.7 400.6L204.4 400.8L205.1 401.1L205.8 401.5L206.5 402.0L207.2 402.5L207.8 403.1L208.5 403.9L209.2 404.9L209.9 405.9L210.6 407.0L211.3 408.0L212.0 409.2L212.7 410.4L213.4 411.8L214.1 413.1L214.8 414.5L215.5 415.8L216.2 417.2L216.9 418.6L217.6 420.1L218.3 421.5L218.9 422.9L219.6 424.3L220.3 425.8L221.0 427.3L221.7 428.7L222.4 429.9L223.1 431.0L223.8 431.9L224.5 432.8L225.2 433.6L225.9 434.4L226.6 435.2L227.3 436.1L228.0 437.1L228.7 438.2L229.4 439.2L230.0 440.1L230.7 440.9L231.4 441.5L232.1 442.0L232.8 442.6L233.5 443.0L234.2 443.4L234.9 443.9L235.6 444.2L236.3 444.6L237.0 445.0L237.7 445.3L238.4 445.6L239.1 445.9L239.8 446.1L240.5 446.3L241.1 446.5L241.8 446.7L242.5 446.8L243.2 446.9L243.9 447.1L244.6 447.2L245.3 447.3L246.0 447.4L246.7 447.6L247.4 447.7L248.1 447.9L248.8 448.0L249.5 448.1L250.2 448.3L250.9 448.4L251.5 448.5L252.2 448.6L252.9 448.7L253.6 448.8L254.3 448.9L255.0 449.0L255.7 449.0L256.4 449.1L257.1 449.2L257.8 449.2L258.5 449.3L259.2 449.3L259.9 449.4L260.6 449.4L261.3 449.5L262.0 449.5L262.6 449.6L263.3 449.7L264.0 449.7L264.7 449.8L265.4 449.8L266.1 449.8L266.8 449.7L267.5 449.6L268.2 449.3L268.9 449.0L269.6 448.7L270.3 448.5L271.0 448.3L271.7 448.3L272.4 448.3L273.1 448.3L273.7 448.3L274.4 448.3L275.1 448.3L275.8 448.3L276.5 448.3L277.2 448.3L277.9 448.3" stroke="#0000ff" stroke-width="3.6"/>
<path d="M69.1 366.5L69.8 368.8L70.5 372.4L71.2 376.8L71.9 381.5L72.6 385.8L73.3 389.3L74.0 392.2L74.7 394.8L75.3 397.2L76.0 399.5L76.7 401.6L77.4 403.7L78.1 405.7L78.8 407.5L79.5 409.3L80.2 410.9L80.9 412.5L81.6 414.0L82.3 415.5L83.0 416.9L83.7 418.2L84.4 419.5L85.1 420.8L85.8 422.0L86.4 423.2L87.1 424.3L87.8 425.4L88.5 426.5L89.2 427.6L89.9 428.6L90.6 429.6L91.3 430.6L92.0 431.5L92.7 432.5L93.4 433.5L94.1 434.3L94.8 435.1L95.5 435.7L96.2 436.4L96.9 436.9L97.5 437.4L98.2 436.7L98.9 437.2L99.6 437.5L100.3 437.9L101.0 438.3L101.7 438.7L102.4 439.1L103.1 439.5L103.8 439.9L104.5 440.2L105.2 440.3L105.9 440.2L106.6 440.1L107.3 439.8L108.0 439.4L108.6 439.0L109.3 438.4L110.0 437.6L110.7 436.8L111.4 435.8L112.1 434.7L112.8 433.7L113.5 432.6L114.2 431.5L114.9 430.4L115.6 429.2L116.3 428.1L117.0 427.0L117.7 425.9L118.4 424.8L119.1 423.8L119.7 422.7L120.4 421.7L121.1 420.8L121.8 419.8L122.5 418.9L123.2 418.0L123.9 417.1L124.6 416.2L125.3 415.2L126.0 414.1L126.7 412.8L127.4 411.5L128.1 410.1L128.8 408.6L129.5 407.1L130.2 405.5L130.8 403.9L131.5 402.1L132.2 400.3L132.9 398.3L133.6 396.4L134.3 394.6L135.0 393.0L135.7 391.7L136.4 390.5L137.1 389.3L137.8 388.2L138.5 387.5L139.2 387.0L139.9 387.0L140.6 387.2L141.3 387.5L141.9 387.8L142.6 388.1L143.3 388.6L144.0 389.4L144.7 390.5L145.4 391.9L146.1 393.5L146.8 395.1L147.5 396.8L148.2 398.4L148.9 399.9L149.6 401.6L150.3 403.4L151.0 405.3L151.7 407.2L152.4 409.0L153.0 410.7L153.7 412.5L154.4 414.3L155.1 416.0L155.8 417.4L156.5 418.7L157.2 419.9L157.9 421.0L158.6 422.1L159.3 423.2L160.0 424.5L160.7 425.9L161.4 427.4L162.1 428.9L162.8 430.3L163.4 431.6L164.1 432.6L164.8 433.6L165.5 434.5L166.2 435.2L166.9 434.5L167.6 434.7L168.3 434.5L169.0 434.3L169.7 434.0L170.4 433.7L171.1 433.4L171.8 433.0L172.5 432.4L173.2 431.7L173.9 431.0L174.5 430.2L175.2 429.3L175.9 428.4L176.6 427.4L177.3 426.4L178.0 425.3L178.7 424.2L179.4 423.1L180.1 421.9L180.8 420.6L181.5 419.2L182.2 417.8L182.9 416.3L183.6 414.9L184.3 413.4L185.0 412.0L185.6 410.6L186.3 409.1L187.0 407.6L187.7 406.2L188.4 404.7L189.1 403.1L189.8 401.6L190.5 400.0L191.2 398.5L191.9 397.1L192.6 395.9L193.3 394.7L194.0 393.6L194.7 392.6L195.4 391.6L196.1 390.6L196.7 389.8L197.4 389.1L198.1 388.5L198.8 388.0L199.5 387.5L200.2 387.1L200.9 386.7L201.6 386.4L202.3 386.3L203.0 386.2L203.7 386.4L204.4 386.6L205.1 387.0L205.8 387.5L206.5 388.1L207.2 388.7L207.8 389.6L208.5 390.7L209.2 391.9L209.9 393.2L210.6 394.6L211.3 396.0L212.0 397.5L212.7 399.0L213.4 400.7L214.1 402.4L214.8 404.1L215.5 405.9L216.2 407.7L216.9 409.5L217.6 411.4L218.3 413.3L218.9 415.1L219.6 417.1L220.3 419.0L221.0 421.0L221.7 422.8L222.4 424.6L223.1 426.2L223.8 427.7L224.5 429.1L225.2 430.4L225.9 431.7L226.6 432.9L227.3 434.3L228.0 435.6L228.7 437.0L229.4 438.3L230.0 439.6L230.7 440.6L231.4 441.6L232.1 442.4L232.8 443.2L233.5 443.9L234.2 444.6L234.9 445.2L235.6 445.9L236.3 446.4L237.0 447.0L237.7 447.4L238.4 447.8L239.1 448.1L239.8 448.4L240.5 448.7L241.1 448.9L241.8 449.1L242.5 449.3L243.2 449.4L243.9 449.6L244.6 449.7L245.3 449.9L246.0 450.0L246.7 450.2L247.4 450.3L248.1 450.5L248.8 450.6L249.5 450.8L250.2 451.0L250.9 451.2L251.5 451.4L252.2 451.6L252.9 451.8L253.6 452.0L254.3 452.3L255.0 452.6L255.7 452.9L256.4 453.1L257.1 453.4L257.8 453.6L258.5 453.8L259.2 454.0L259.9 454.2L260.6 454.4L261.3 454.6L262.0 454.7L262.6 454.8L263.3 454.9L264.0 454.9L264.7 455.0L265.4 455.0L266.1 454.9L266.8 454.8L267.5 454.4L268.2 454.0L268.9 453.5L269.6 453.1L270.3 452.7L271.0 452.5L271.7 452.3L272.4 452.2L273.1 452.1L273.7 452.0L274.4 451.9L275.1 451.9L275.8 451.8L276.5 451.8L277.2 451.7L277.9 451.7" stroke="#5c5c5c" stroke-width="2.5"/>
<path d="M69.1 367.9L69.8 370.5L70.5 374.3L71.2 378.8L71.9 383.5L72.6 387.9L73.3 391.5L74.0 394.5L74.7 397.2L75.3 399.6L76.0 401.9L76.7 404.1L77.4 406.2L78.1 408.3L78.8 410.2L79.5 412.0L80.2 413.7L80.9 415.3L81.6 416.8L82.3 418.2L83.0 419.5L83.7 420.8L84.4 422.1L85.1 423.3L85.8 424.5L86.4 425.7L87.1 426.8L87.8 427.9L88.5 429.0L89.2 430.1L89.9 431.1L90.6 432.1L91.3 433.1L92.0 434.1L92.7 435.1L93.4 436.1L94.1 437.0L94.8 437.8L95.5 438.5L96.2 439.2L96.9 439.8L97.5 440.4L98.2 440.6L98.9 441.2L99.6 441.8L100.3 442.4L101.0 442.9L101.7 443.4L102.4 443.8L103.1 444.1L103.8 444.4L104.5 444.6L105.2 444.5L105.9 444.3L106.6 444.0L107.3 443.6L108.0 443.1L108.6 442.6L109.3 442.0L110.0 441.4L110.7 440.6L111.4 439.8L112.1 439.0L112.8 438.3L113.5 437.6L114.2 436.9L114.9 436.2L115.6 435.5L116.3 434.8L117.0 434.2L117.7 433.5L118.4 432.9L119.1 432.2L119.7 431.5L120.4 430.7L121.1 430.0L121.8 429.2L122.5 428.4L123.2 427.6L123.9 426.7L124.6 425.7L125.3 424.6L126.0 423.4L126.7 422.1L127.4 420.8L128.1 419.4L128.8 417.9L129.5 416.6L130.2 415.2L130.8 413.9L131.5 412.6L132.2 411.2L132.9 409.8L133.6 408.3L134.3 407.1L135.0 406.0L135.7 405.1L136.4 404.3L137.1 403.6L137.8 402.9L138.5 402.4L139.2 402.2L139.9 402.2L140.6 402.4L141.3 402.6L141.9 402.7L142.6 402.9L143.3 403.0L144.0 403.5L144.7 404.1L145.4 405.0L146.1 406.0L146.8 407.1L147.5 408.2L148.2 409.3L148.9 410.3L149.6 411.6L150.3 413.0L151.0 414.6L151.7 416.1L152.4 417.7L153.0 419.2L153.7 420.9L154.4 422.5L155.1 424.1L155.8 425.5L156.5 426.7L157.2 427.9L157.9 428.9L158.6 429.9L159.3 430.9L160.0 432.0L160.7 433.1L161.4 434.2L162.1 435.3L162.8 436.2L163.4 437.0L164.1 437.5L164.8 437.9L165.5 438.2L166.2 438.3L166.9 437.9L167.6 437.7L168.3 437.2L169.0 436.7L169.7 436.2L170.4 435.6L171.1 434.9L171.8 434.2L172.5 433.3L173.2 432.4L173.9 431.4L174.5 430.3L175.2 429.2L175.9 428.0L176.6 426.7L177.3 425.2L178.0 423.8L178.7 422.2L179.4 420.7L180.1 419.0L180.8 417.3L181.5 415.4L182.2 413.4L182.9 411.4L183.6 409.4L184.3 407.5L185.0 405.6L185.6 403.7L186.3 401.7L187.0 399.8L187.7 397.9L188.4 395.9L189.1 393.9L189.8 391.9L190.5 389.8L191.2 387.8L191.9 386.2L192.6 384.7L193.3 383.3L194.0 382.0L194.7 380.8L195.4 379.6L196.1 378.6L196.7 377.7L197.4 376.9L198.1 376.3L198.8 375.7L199.5 375.3L200.2 374.8L200.9 374.5L201.6 374.3L202.3 374.2L203.0 374.3L203.7 374.4L204.4 374.7L205.1 375.2L205.8 375.7L206.5 376.4L207.2 377.1L207.8 378.2L208.5 379.5L209.2 381.0L209.9 382.6L210.6 384.2L211.3 385.8L212.0 387.6L212.7 389.5L213.4 391.4L214.1 393.4L214.8 395.5L215.5 397.5L216.2 399.7L216.9 401.9L217.6 404.1L218.3 406.3L218.9 408.6L219.6 410.9L220.3 413.2L221.0 415.6L221.7 417.8L222.4 420.0L223.1 422.0L223.8 423.9L224.5 425.7L225.2 427.4L225.9 428.9L226.6 430.5L227.3 432.0L228.0 433.5L228.7 435.0L229.4 436.4L230.0 437.8L230.7 438.9L231.4 439.9L232.1 440.8L232.8 441.7L233.5 442.4L234.2 443.2L234.9 443.9L235.6 444.6L236.3 445.2L237.0 445.8L237.7 446.3L238.4 446.7L239.1 447.1L239.8 447.4L240.5 447.6L241.1 447.9L241.8 448.1L242.5 448.3L243.2 448.4L243.9 448.6L244.6 448.8L245.3 448.9L246.0 449.0L246.7 449.2L247.4 449.3L248.1 449.5L248.8 449.7L249.5 449.9L250.2 450.0L250.9 450.2L251.5 450.4L252.2 450.6L252.9 450.9L253.6 451.2L254.3 451.5L255.0 451.9L255.7 452.3L256.4 452.6L257.1 452.9L257.8 453.1L258.5 453.4L259.2 453.6L259.9 453.8L260.6 454.0L261.3 454.2L262.0 454.3L262.6 454.4L263.3 454.5L264.0 454.5L264.7 454.6L265.4 454.6L266.1 454.5L266.8 454.3L267.5 453.9L268.2 453.4L268.9 452.9L269.6 452.5L270.3 452.2L271.0 452.0L271.7 451.8L272.4 451.7L273.1 451.6L273.7 451.6L274.4 451.5L275.1 451.5L275.8 451.4L276.5 451.4L277.2 451.4L277.9 451.4" stroke="#5c5c5c" stroke-width="2.5"/>
<path d="M69.1 369.2L69.8 372.0L70.5 376.0L71.2 380.7L71.9 385.5L72.6 390.0L73.3 393.6L74.0 396.6L74.7 399.4L75.3 401.9L76.0 404.2L76.7 406.5L77.4 408.6L78.1 410.7L78.8 412.7L79.5 414.6L80.2 416.3L80.9 417.9L81.6 419.4L82.3 420.8L83.0 422.1L83.7 423.3L84.4 424.5L85.1 425.7L85.8 426.9L86.4 428.0L87.1 429.2L87.8 430.3L88.5 431.4L89.2 432.4L89.9 433.5L90.6 434.5L91.3 435.5L92.0 436.5L92.7 437.6L93.4 438.6L94.1 439.6L94.8 440.4L95.5 441.2L96.2 441.9L96.9 442.6L97.5 443.2L98.2 444.9L98.9 445.4L99.6 445.8L100.3 446.2L101.0 446.4L101.7 446.6L102.4 446.8L103.1 446.9L103.8 446.9L104.5 446.9L105.2 446.8L105.9 446.6L106.6 446.4L107.3 446.1L108.0 445.9L108.6 445.7L109.3 445.5L110.0 445.3L110.7 445.1L111.4 444.8L112.1 444.5L112.8 444.3L113.5 444.0L114.2 443.7L114.9 443.4L115.6 443.0L116.3 442.6L117.0 442.1L117.7 441.5L118.4 440.9L119.1 440.1L119.7 439.4L120.4 438.5L121.1 437.6L121.8 436.7L122.5 435.8L123.2 434.8L123.9 433.9L124.6 432.9L125.3 431.9L126.0 430.8L126.7 429.7L127.4 428.7L128.1 427.6L128.8 426.7L129.5 425.9L130.2 425.1L130.8 424.5L131.5 423.8L132.2 423.1L132.9 422.3L133.6 421.5L134.3 420.6L135.0 419.9L135.7 419.3L136.4 418.7L137.1 418.0L137.8 417.3L138.5 416.7L139.2 416.2L139.9 415.9L140.6 415.8L141.3 415.6L141.9 415.3L142.6 415.1L143.3 414.9L144.0 415.0L144.7 415.3L145.4 415.9L146.1 416.6L146.8 417.5L147.5 418.5L148.2 419.5L148.9 420.5L149.6 421.7L150.3 423.1L151.0 424.6L151.7 426.2L152.4 427.6L153.0 429.1L153.7 430.6L154.4 432.1L155.1 433.4L155.8 434.5L156.5 435.4L157.2 436.1L157.9 436.7L158.6 437.3L159.3 437.7L160.0 438.2L160.7 438.8L161.4 439.3L162.1 439.8L162.8 440.2L163.4 440.4L164.1 440.5L164.8 440.5L165.5 440.5L166.2 440.4L166.9 441.3L167.6 440.8L168.3 440.1L169.0 439.3L169.7 438.5L170.4 437.6L171.1 436.6L171.8 435.5L172.5 434.3L173.2 433.1L173.9 431.8L174.5 430.5L175.2 429.1L175.9 427.5L176.6 425.7L177.3 423.8L178.0 421.8L178.7 419.7L179.4 417.6L180.1 415.3L180.8 413.0L181.5 410.4L182.2 407.6L182.9 404.7L183.6 401.9L184.3 399.3L185.0 396.8L185.6 394.2L186.3 391.6L187.0 389.0L187.7 386.4L188.4 383.8L189.1 381.2L189.8 378.4L190.5 375.6L191.2 373.1L191.9 370.9L192.6 369.0L193.3 367.3L194.0 365.7L194.7 364.3L195.4 363.0L196.1 361.8L196.7 360.8L197.4 359.9L198.1 359.2L198.8 358.6L199.5 358.2L200.2 357.8L200.9 357.4L201.6 357.3L202.3 357.3L203.0 357.5L203.7 357.7L204.4 358.1L205.1 358.6L205.8 359.2L206.5 360.0L207.2 360.9L207.8 362.2L208.5 363.9L209.2 365.8L209.9 367.7L210.6 369.6L211.3 371.7L212.0 373.8L212.7 376.1L213.4 378.4L214.1 380.8L214.8 383.3L215.5 385.8L216.2 388.4L216.9 391.1L217.6 393.9L218.3 396.6L218.9 399.4L219.6 402.3L220.3 405.2L221.0 408.1L221.7 410.9L222.4 413.6L223.1 416.2L223.8 418.7L224.5 421.1L225.2 423.4L225.9 425.4L226.6 427.4L227.3 429.3L228.0 431.2L228.7 432.9L229.4 434.6L230.0 436.2L230.7 437.5L231.4 438.8L232.1 439.9L232.8 440.9L233.5 441.9L234.2 442.8L234.9 443.7L235.6 444.6L236.3 445.4L237.0 446.1L237.7 446.7L238.4 447.2L239.1 447.6L239.8 448.0L240.5 448.3L241.1 448.5L241.8 448.8L242.5 449.0L243.2 449.2L243.9 449.4L244.6 449.5L245.3 449.7L246.0 449.8L246.7 450.0L247.4 450.2L248.1 450.3L248.8 450.5L249.5 450.7L250.2 450.9L250.9 451.2L251.5 451.4L252.2 451.7L252.9 452.0L253.6 452.4L254.3 452.9L255.0 453.5L255.7 454.0L256.4 454.5L257.1 454.9L257.8 455.3L258.5 455.7L259.2 456.0L259.9 456.3L260.6 456.6L261.3 456.9L262.0 457.0L262.6 457.1L263.3 457.2L264.0 457.3L264.7 457.3L265.4 457.2L266.1 457.2L266.8 456.9L267.5 456.4L268.2 455.7L268.9 455.1L269.6 454.6L270.3 454.3L271.0 454.0L271.7 453.8L272.4 453.7L273.1 453.5L273.7 453.4L274.4 453.3L275.1 453.2L275.8 453.2L276.5 453.1L277.2 453.1L277.9 453.1" stroke="#5c5c5c" stroke-width="2.5"/>
<path d="M69.1 370.9L69.8 374.0L70.5 378.3L71.2 383.1L71.9 388.1L72.6 392.7L73.3 396.4L74.0 399.5L74.7 402.3L75.3 404.9L76.0 407.3L76.7 409.6L77.4 411.8L78.1 414.0L78.8 416.1L79.5 418.0L80.2 419.8L80.9 421.4L81.6 422.8L82.3 424.2L83.0 425.4L83.7 426.6L84.4 427.8L85.1 428.9L85.8 430.0L86.4 431.1L87.1 432.3L87.8 433.4L88.5 434.5L89.2 435.5L89.9 436.6L90.6 437.6L91.3 438.7L92.0 439.7L92.7 440.8L93.4 441.9L94.1 442.9L94.8 443.8L95.5 444.6L96.2 445.4L96.9 446.2L97.5 446.9L98.2 448.4L98.9 448.8L99.6 449.1L100.3 449.3L101.0 449.6L101.7 449.8L102.4 450.1L103.1 450.4L103.8 450.6L104.5 450.9L105.2 451.0L105.9 451.2L106.6 451.4L107.3 451.6L108.0 451.8L108.6 452.0L109.3 452.2L110.0 452.4L110.7 452.5L111.4 452.5L112.1 452.5L112.8 452.4L113.5 452.3L114.2 452.1L114.9 451.8L115.6 451.4L116.3 451.0L117.0 450.4L117.7 449.9L118.4 449.3L119.1 448.6L119.7 447.9L120.4 447.2L121.1 446.5L121.8 445.8L122.5 445.2L123.2 444.6L123.9 444.1L124.6 443.5L125.3 443.0L126.0 442.4L126.7 441.8L127.4 441.3L128.1 440.8L128.8 440.3L129.5 440.0L130.2 439.8L130.8 439.7L131.5 439.5L132.2 439.2L132.9 438.7L133.6 438.1L134.3 437.5L135.0 436.9L135.7 436.3L136.4 435.6L137.1 434.9L137.8 434.1L138.5 433.4L139.2 432.9L139.9 432.4L140.6 432.1L141.3 431.8L141.9 431.5L142.6 431.3L143.3 431.1L144.0 431.2L144.7 431.5L145.4 432.0L146.1 432.6L146.8 433.3L147.5 434.1L148.2 435.0L148.9 435.8L149.6 436.7L150.3 437.7L151.0 438.8L151.7 439.8L152.4 440.7L153.0 441.6L153.7 442.4L154.4 443.2L155.1 443.8L155.8 444.3L156.5 444.5L157.2 444.7L157.9 444.8L158.6 444.8L159.3 444.8L160.0 444.9L160.7 445.0L161.4 445.2L162.1 445.4L162.8 445.5L163.4 445.6L164.1 445.5L164.8 445.4L165.5 445.2L166.2 444.9L166.9 445.3L167.6 444.4L168.3 443.4L169.0 442.2L169.7 441.0L170.4 439.7L171.1 438.3L171.8 436.9L172.5 435.3L173.2 433.8L173.9 432.2L174.5 430.7L175.2 429.0L175.9 427.1L176.6 424.9L177.3 422.6L178.0 420.2L178.7 417.7L179.4 415.1L180.1 412.5L180.8 409.7L181.5 406.6L182.2 403.3L182.9 399.9L183.6 396.6L184.3 393.6L185.0 390.6L185.6 387.6L186.3 384.6L187.0 381.6L187.7 378.6L188.4 375.5L189.1 372.5L189.8 369.3L190.5 366.1L191.2 363.1L191.9 360.6L192.6 358.5L193.3 356.6L194.0 354.8L194.7 353.2L195.4 351.8L196.1 350.6L196.7 349.4L197.4 348.5L198.1 347.7L198.8 347.2L199.5 346.7L200.2 346.3L200.9 346.0L201.6 345.9L202.3 346.0L203.0 346.2L203.7 346.6L204.4 347.0L205.1 347.5L205.8 348.2L206.5 349.0L207.2 350.0L207.8 351.6L208.5 353.5L209.2 355.6L209.9 357.7L210.6 359.9L211.3 362.2L212.0 364.6L212.7 367.1L213.4 369.7L214.1 372.4L214.8 375.2L215.5 378.0L216.2 380.9L216.9 383.9L217.6 387.0L218.3 390.1L218.9 393.3L219.6 396.6L220.3 399.8L221.0 403.0L221.7 406.2L222.4 409.2L223.1 412.2L223.8 415.1L224.5 417.9L225.2 420.5L225.9 422.9L226.6 425.1L227.3 427.2L228.0 429.1L228.7 431.0L229.4 432.7L230.0 434.3L230.7 435.7L231.4 437.0L232.1 438.2L232.8 439.3L233.5 440.3L234.2 441.2L234.9 442.1L235.6 443.1L236.3 443.9L237.0 444.7L237.7 445.4L238.4 445.9L239.1 446.3L239.8 446.7L240.5 447.0L241.1 447.2L241.8 447.5L242.5 447.7L243.2 447.9L243.9 448.1L244.6 448.3L245.3 448.4L246.0 448.6L246.7 448.7L247.4 448.9L248.1 449.1L248.8 449.3L249.5 449.5L250.2 449.7L250.9 449.9L251.5 450.2L252.2 450.4L252.9 450.8L253.6 451.2L254.3 451.8L255.0 452.4L255.7 453.1L256.4 453.6L257.1 454.0L257.8 454.4L258.5 454.8L259.2 455.2L259.9 455.5L260.6 455.8L261.3 456.0L262.0 456.2L262.6 456.3L263.3 456.3L264.0 456.4L264.7 456.4L265.4 456.3L266.1 456.3L266.8 456.0L267.5 455.5L268.2 454.8L268.9 454.1L269.6 453.5L270.3 453.3L271.0 453.1L271.7 452.9L272.4 452.8L273.1 452.7L273.7 452.6L274.4 452.5L275.1 452.5L275.8 452.4L276.5 452.4L277.2 452.4L277.9 452.4" stroke="#5c5c5c" stroke-width="2.5"/>
<path d="M69.1 371.3L69.8 374.5L70.5 378.8L71.2 383.7L71.9 388.7L72.6 393.3L73.3 397.1L74.0 400.2L74.7 403.0L75.3 405.6L76.0 408.0L76.7 410.3L77.4 412.6L78.1 414.8L78.8 416.9L79.5 418.9L80.2 420.6L80.9 422.2L81.6 423.7L82.3 425.0L83.0 426.2L83.7 427.4L84.4 428.6L85.1 429.7L85.8 430.8L86.4 431.9L87.1 433.0L87.8 434.1L88.5 435.2L89.2 436.3L89.9 437.3L90.6 438.4L91.3 439.5L92.0 440.5L92.7 441.6L93.4 442.7L94.1 443.7L94.8 444.7L95.5 445.5L96.2 446.3L96.9 447.1L97.5 447.8L98.2 447.5L98.9 448.0L99.6 448.5L100.3 449.0L101.0 449.6L101.7 450.2L102.4 450.9L103.1 451.6L103.8 452.3L104.5 452.9L105.2 453.4L105.9 453.9L106.6 454.3L107.3 454.7L108.0 454.9L108.6 455.2L109.3 455.3L110.0 455.3L110.7 455.1L111.4 454.9L112.1 454.5L112.8 454.1L113.5 453.6L114.2 453.1L114.9 452.5L115.6 452.0L116.3 451.4L117.0 450.8L117.7 450.2L118.4 449.7L119.1 449.2L119.7 448.8L120.4 448.5L121.1 448.2L121.8 448.0L122.5 447.8L123.2 447.7L123.9 447.6L124.6 447.4L125.3 447.2L126.0 446.9L126.7 446.6L127.4 446.1L128.1 445.7L128.8 445.2L129.5 444.8L130.2 444.4L130.8 444.0L131.5 443.5L132.2 443.0L132.9 442.2L133.6 441.3L134.3 440.4L135.0 439.6L135.7 438.8L136.4 438.0L137.1 437.3L137.8 436.6L138.5 436.1L139.2 435.7L139.9 435.6L140.6 435.5L141.3 435.6L141.9 435.7L142.6 435.8L143.3 436.1L144.0 436.4L144.7 437.0L145.4 437.6L146.1 438.3L146.8 439.0L147.5 439.7L148.2 440.3L148.9 440.9L149.6 441.5L150.3 442.0L151.0 442.6L151.7 443.1L152.4 443.5L153.0 443.9L153.7 444.3L154.4 444.6L155.1 444.9L155.8 445.1L156.5 445.2L157.2 445.3L157.9 445.4L158.6 445.5L159.3 445.7L160.0 446.1L160.7 446.5L161.4 447.0L162.1 447.5L162.8 448.0L163.4 448.4L164.1 448.6L164.8 448.6L165.5 448.6L166.2 448.4L166.9 446.9L167.6 446.0L168.3 444.8L169.0 443.6L169.7 442.3L170.4 440.9L171.1 439.4L171.8 437.8L172.5 436.0L173.2 434.3L173.9 432.6L174.5 430.8L175.2 428.9L175.9 426.7L176.6 424.1L177.3 421.3L178.0 418.3L178.7 415.3L179.4 412.2L180.1 408.9L180.8 405.3L181.5 401.5L182.2 397.3L182.9 392.9L183.6 388.9L184.3 385.0L185.0 381.2L185.6 377.5L186.3 373.7L187.0 370.0L187.7 366.2L188.4 362.4L189.1 358.6L189.8 354.6L190.5 350.6L191.2 346.9L191.9 343.9L192.6 341.3L193.3 339.0L194.0 337.0L194.7 335.1L195.4 333.5L196.1 332.1L196.7 330.8L197.4 329.7L198.1 328.9L198.8 328.3L199.5 327.9L200.2 327.5L200.9 327.2L201.6 327.2L202.3 327.4L203.0 327.7L203.7 328.2L204.4 328.7L205.1 329.3L205.8 330.0L206.5 330.9L207.2 332.1L207.8 334.0L208.5 336.3L209.2 338.8L209.9 341.3L210.6 343.9L211.3 346.6L212.0 349.4L212.7 352.3L213.4 355.3L214.1 358.5L214.8 361.8L215.5 365.1L216.2 368.6L216.9 372.1L217.6 375.8L218.3 379.4L218.9 383.2L219.6 387.1L220.3 391.0L221.0 394.8L221.7 398.5L222.4 402.2L223.1 405.8L223.8 409.4L224.5 412.9L225.2 416.2L225.9 419.1L226.6 421.8L227.3 424.3L228.0 426.7L228.7 428.9L229.4 430.9L230.0 432.8L230.7 434.5L231.4 436.1L232.1 437.5L232.8 438.8L233.5 440.1L234.2 441.2L234.9 442.4L235.6 443.5L236.3 444.6L237.0 445.6L237.7 446.4L238.4 447.0L239.1 447.4L239.8 447.8L240.5 448.2L241.1 448.5L241.8 448.8L242.5 449.0L243.2 449.3L243.9 449.5L244.6 449.7L245.3 449.9L246.0 450.0L246.7 450.2L247.4 450.4L248.1 450.5L248.8 450.7L249.5 451.0L250.2 451.2L250.9 451.5L251.5 451.8L252.2 452.2L252.9 452.6L253.6 453.2L254.3 453.9L255.0 454.8L255.7 455.7L256.4 456.5L257.1 457.0L257.8 457.6L258.5 458.1L259.2 458.6L259.9 459.1L260.6 459.4L261.3 459.8L262.0 460.0L262.6 460.1L263.3 460.2L264.0 460.2L264.7 460.2L265.4 460.2L266.1 460.1L266.8 459.7L267.5 459.0L268.2 458.1L268.9 457.2L269.6 456.6L270.3 456.3L271.0 456.0L271.7 455.8L272.4 455.6L273.1 455.5L273.7 455.3L274.4 455.2L275.1 455.1L275.8 455.0L276.5 455.0L277.2 454.9L277.9 454.9" stroke="#5c5c5c" stroke-width="2.5"/>
<path d="M69.1 372.6L69.8 376.0L70.5 380.5L71.2 385.5L71.9 390.6L72.6 395.3L73.3 399.1L74.0 402.3L74.7 405.1L75.3 407.8L76.0 410.2L76.7 412.5L77.4 414.9L78.1 417.1L78.8 419.3L79.5 421.3L80.2 423.1L80.9 424.7L81.6 426.1L82.3 427.4L83.0 428.6L83.7 429.8L84.4 430.9L85.1 432.0L85.8 433.1L86.4 434.2L87.1 435.3L87.8 436.4L88.5 437.5L89.2 438.5L89.9 439.6L90.6 440.7L91.3 441.7L92.0 442.8L92.7 444.0L93.4 445.1L94.1 446.1L94.8 447.1L95.5 448.0L96.2 448.9L96.9 449.7L97.5 450.4L98.2 450.1L98.9 450.9L99.6 451.7L100.3 452.6L101.0 453.4L101.7 454.3L102.4 455.2L103.1 456.0L103.8 456.8L104.5 457.5L105.2 458.0L105.9 458.4L106.6 458.8L107.3 459.0L108.0 459.2L108.6 459.3L109.3 459.2L110.0 459.1L110.7 458.9L111.4 458.7L112.1 458.4L112.8 458.0L113.5 457.7L114.2 457.3L114.9 457.0L115.6 456.7L116.3 456.5L117.0 456.3L117.7 456.2L118.4 456.1L119.1 456.1L119.7 456.1L120.4 456.2L121.1 456.3L121.8 456.4L122.5 456.5L123.2 456.7L123.9 456.7L124.6 456.7L125.3 456.5L126.0 456.3L126.7 455.8L127.4 455.3L128.1 454.8L128.8 454.3L129.5 453.9L130.2 453.5L130.8 453.3L131.5 453.0L132.2 452.6L132.9 452.1L133.6 451.5L134.3 450.9L135.0 450.4L135.7 450.0L136.4 449.6L137.1 449.2L137.8 449.0L138.5 448.8L139.2 448.8L139.9 448.8L140.6 449.0L141.3 449.1L141.9 449.3L142.6 449.4L143.3 449.6L144.0 449.8L144.7 450.0L145.4 450.3L146.1 450.5L146.8 450.7L147.5 450.8L148.2 450.9L148.9 450.9L149.6 450.9L150.3 451.0L151.0 451.0L151.7 451.0L152.4 451.0L153.0 451.0L153.7 451.1L154.4 451.2L155.1 451.3L155.8 451.4L156.5 451.5L157.2 451.6L157.9 451.8L158.6 452.0L159.3 452.2L160.0 452.5L160.7 452.8L161.4 453.2L162.1 453.5L162.8 453.8L163.4 453.9L164.1 453.7L164.8 453.3L165.5 452.8L166.2 452.1L166.9 450.0L167.6 448.7L168.3 447.3L169.0 445.8L169.7 444.3L170.4 442.6L171.1 440.8L171.8 438.8L172.5 436.9L173.2 434.9L173.9 432.9L174.5 430.9L175.2 428.8L175.9 426.3L176.6 423.4L177.3 420.2L178.0 416.9L178.7 413.5L179.4 410.0L180.1 406.3L180.8 402.4L181.5 398.1L182.2 393.3L182.9 388.5L183.6 383.9L184.3 379.6L185.0 375.4L185.6 371.3L186.3 367.1L187.0 362.9L187.7 358.7L188.4 354.5L189.1 350.3L189.8 345.9L190.5 341.4L191.2 337.3L191.9 334.0L192.6 331.2L193.3 328.7L194.0 326.4L194.7 324.5L195.4 322.7L196.1 321.3L196.7 319.9L197.4 318.7L198.1 317.8L198.8 317.3L199.5 316.8L200.2 316.4L200.9 316.2L201.6 316.2L202.3 316.5L203.0 316.9L203.7 317.4L204.4 317.9L205.1 318.6L205.8 319.4L206.5 320.3L207.2 321.6L207.8 323.7L208.5 326.2L209.2 329.0L209.9 331.7L210.6 334.5L211.3 337.4L212.0 340.5L212.7 343.6L213.4 346.9L214.1 350.4L214.8 353.9L215.5 357.5L216.2 361.3L216.9 365.2L217.6 369.1L218.3 373.2L218.9 377.3L219.6 381.5L220.3 385.7L221.0 389.9L221.7 394.0L222.4 398.0L223.1 402.0L223.8 406.0L224.5 409.8L225.2 413.4L225.9 416.6L226.6 419.5L227.3 422.2L228.0 424.6L228.7 426.9L229.4 429.0L230.0 430.9L230.7 432.7L231.4 434.3L232.1 435.7L232.8 437.1L233.5 438.3L234.2 439.5L234.9 440.7L235.6 441.9L236.3 443.1L237.0 444.1L237.7 444.9L238.4 445.5L239.1 446.0L239.8 446.4L240.5 446.8L241.1 447.1L241.8 447.4L242.5 447.6L243.2 447.9L243.9 448.1L244.6 448.3L245.3 448.5L246.0 448.6L246.7 448.8L247.4 449.0L248.1 449.1L248.8 449.4L249.5 449.6L250.2 449.8L250.9 450.1L251.5 450.4L252.2 450.8L252.9 451.2L253.6 451.8L254.3 452.6L255.0 453.6L255.7 454.5L256.4 455.3L257.1 455.9L257.8 456.5L258.5 457.0L259.2 457.5L259.9 458.0L260.6 458.4L261.3 458.7L262.0 458.9L262.6 459.0L263.3 459.0L264.0 459.0L264.7 459.0L265.4 459.0L266.1 458.9L266.8 458.6L267.5 457.8L268.2 456.9L268.9 456.0L269.6 455.4L270.3 455.1L271.0 454.9L271.7 454.7L272.4 454.6L273.1 454.4L273.7 454.3L274.4 454.2L275.1 454.1L275.8 454.1L276.5 454.1L277.2 454.1L277.9 454.1" stroke="#5c5c5c" stroke-width="2.5"/>
<path d="M69.1 373.3L69.8 376.8L70.5 381.4L71.2 386.5L71.9 391.7L72.6 396.4L73.3 400.3L74.0 403.5L74.7 406.4L75.3 409.0L76.0 411.5L76.7 413.8L77.4 416.2L78.1 418.5L78.8 420.7L79.5 422.7L80.2 424.6L80.9 426.2L81.6 427.6L82.3 428.8L83.0 430.0L83.7 431.1L84.4 432.2L85.1 433.3L85.8 434.3L86.4 435.5L87.1 436.6L87.8 437.7L88.5 438.7L89.2 439.8L89.9 440.9L90.6 442.0L91.3 443.1L92.0 444.2L92.7 445.3L93.4 446.4L94.1 447.5L94.8 448.5L95.5 449.5L96.2 450.3L96.9 451.2L97.5 452.0L98.2 451.8L98.9 452.8L99.6 453.7L100.3 454.6L101.0 455.5L101.7 456.5L102.4 457.4L103.1 458.3L103.8 459.1L104.5 459.7L105.2 460.2L105.9 460.6L106.6 460.9L107.3 461.2L108.0 461.3L108.6 461.4L109.3 461.4L110.0 461.3L110.7 461.2L111.4 461.0L112.1 460.8L112.8 460.6L113.5 460.4L114.2 460.2L114.9 460.0L115.6 459.9L116.3 459.9L117.0 459.8L117.7 459.9L118.4 460.0L119.1 460.1L119.7 460.3L120.4 460.6L121.1 460.8L121.8 461.1L122.5 461.3L123.2 461.5L123.9 461.6L124.6 461.6L125.3 461.5L126.0 461.2L126.7 460.8L127.4 460.3L128.1 459.8L128.8 459.4L129.5 459.0L130.2 458.8L130.8 458.7L131.5 458.6L132.2 458.4L132.9 458.1L133.6 457.7L134.3 457.4L135.0 457.1L135.7 456.8L136.4 456.6L137.1 456.4L137.8 456.3L138.5 456.3L139.2 456.3L139.9 456.4L140.6 456.6L141.3 456.7L141.9 456.8L142.6 456.9L143.3 457.0L144.0 457.0L144.7 457.1L145.4 457.1L146.1 457.1L146.8 457.1L147.5 457.0L148.2 456.8L148.9 456.6L149.6 456.4L150.3 456.2L151.0 456.0L151.7 455.8L152.4 455.7L153.0 455.5L153.7 455.4L154.4 455.4L155.1 455.4L155.8 455.4L156.5 455.5L157.2 455.5L157.9 455.6L158.6 455.7L159.3 455.9L160.0 456.0L160.7 456.3L161.4 456.5L162.1 456.6L162.8 456.7L163.4 456.5L164.1 456.1L164.8 455.5L165.5 454.8L166.2 453.8L166.9 451.6L167.6 450.2L168.3 448.6L169.0 447.0L169.7 445.3L170.4 443.4L171.1 441.5L171.8 439.4L172.5 437.3L173.2 435.1L173.9 433.1L174.5 431.0L175.2 428.7L175.9 426.1L176.6 423.1L177.3 419.8L178.0 416.3L178.7 412.8L179.4 409.2L180.1 405.3L180.8 401.3L181.5 396.8L182.2 391.9L182.9 386.9L183.6 382.1L184.3 377.7L185.0 373.4L185.6 369.1L186.3 364.8L187.0 360.5L187.7 356.2L188.4 351.8L189.1 347.5L189.8 343.0L190.5 338.4L191.2 334.1L191.9 330.7L192.6 327.9L193.3 325.3L194.0 323.0L194.7 320.9L195.4 319.2L196.1 317.7L196.7 316.3L197.4 315.1L198.1 314.2L198.8 313.6L199.5 313.2L200.2 312.8L200.9 312.6L201.6 312.6L202.3 312.9L203.0 313.3L203.7 313.9L204.4 314.4L205.1 315.1L205.8 315.9L206.5 316.9L207.2 318.2L207.8 320.3L208.5 323.0L209.2 325.8L209.9 328.5L210.6 331.4L211.3 334.4L212.0 337.6L212.7 340.8L213.4 344.2L214.1 347.7L214.8 351.4L215.5 355.1L216.2 358.9L216.9 362.9L217.6 367.0L218.3 371.1L218.9 375.4L219.6 379.8L220.3 384.1L221.0 388.3L221.7 392.6L222.4 396.7L223.1 400.8L223.8 404.9L224.5 409.0L225.2 412.7L225.9 416.0L226.6 419.0L227.3 421.9L228.0 424.4L228.7 426.8L229.4 429.0L230.0 431.1L230.7 433.0L231.4 434.7L232.1 436.2L232.8 437.7L233.5 439.1L234.2 440.3L234.9 441.6L235.6 442.9L236.3 444.1L237.0 445.2L237.7 446.0L238.4 446.7L239.1 447.2L239.8 447.6L240.5 448.0L241.1 448.3L241.8 448.6L242.5 448.9L243.2 449.1L243.9 449.4L244.6 449.6L245.3 449.8L246.0 449.9L246.7 450.1L247.4 450.3L248.1 450.5L248.8 450.7L249.5 450.9L250.2 451.2L250.9 451.5L251.5 451.8L252.2 452.2L252.9 452.7L253.6 453.3L254.3 454.2L255.0 455.3L255.7 456.3L256.4 457.2L257.1 457.8L257.8 458.4L258.5 459.0L259.2 459.6L259.9 460.1L260.6 460.6L261.3 460.9L262.0 461.2L262.6 461.3L263.3 461.3L264.0 461.4L264.7 461.4L265.4 461.3L266.1 461.2L266.8 460.8L267.5 460.0L268.2 459.0L268.9 458.0L269.6 457.3L270.3 457.0L271.0 456.8L271.7 456.6L272.4 456.4L273.1 456.2L273.7 456.0L274.4 455.9L275.1 455.8L275.8 455.7L276.5 455.7L277.2 455.6L277.9 455.7" stroke="#5c5c5c" stroke-width="2.5"/>
<path d="M69.1 373.7L69.8 377.4L70.5 382.1L71.2 387.2L71.9 392.4L72.6 397.2L73.3 401.1L74.0 404.3L74.7 407.2L75.3 409.8L76.0 412.3L76.7 414.7L77.4 417.0L78.1 419.4L78.8 421.6L79.5 423.7L80.2 425.5L80.9 427.1L81.6 428.5L82.3 429.8L83.0 431.0L83.7 432.1L84.4 433.1L85.1 434.2L85.8 435.2L86.4 436.3L87.1 437.4L87.8 438.5L88.5 439.6L89.2 440.7L89.9 441.8L90.6 442.8L91.3 443.9L92.0 445.1L92.7 446.2L93.4 447.3L94.1 448.4L94.8 449.5L95.5 450.4L96.2 451.3L96.9 452.2L97.5 453.0L98.2 453.3L98.9 454.3L99.6 455.3L100.3 456.3L101.0 457.2L101.7 458.1L102.4 459.0L103.1 459.9L103.8 460.6L104.5 461.2L105.2 461.6L105.9 461.9L106.6 462.2L107.3 462.4L108.0 462.5L108.6 462.5L109.3 462.6L110.0 462.5L110.7 462.5L111.4 462.4L112.1 462.3L112.8 462.2L113.5 462.1L114.2 462.1L114.9 462.1L115.6 462.2L116.3 462.3L117.0 462.5L117.7 462.7L118.4 462.9L119.1 463.2L119.7 463.5L120.4 463.8L121.1 464.1L121.8 464.4L122.5 464.6L123.2 464.7L123.9 464.8L124.6 464.8L125.3 464.6L126.0 464.3L126.7 463.9L127.4 463.4L128.1 462.9L128.8 462.5L129.5 462.2L130.2 462.1L130.8 462.2L131.5 462.2L132.2 462.2L132.9 462.1L133.6 462.0L134.3 461.8L135.0 461.7L135.7 461.6L136.4 461.6L137.1 461.6L137.8 461.6L138.5 461.6L139.2 461.7L139.9 461.8L140.6 461.9L141.3 462.0L141.9 462.1L142.6 462.0L143.3 462.0L144.0 461.9L144.7 461.7L145.4 461.6L146.1 461.4L146.8 461.1L147.5 460.8L148.2 460.5L148.9 460.1L149.6 459.8L150.3 459.5L151.0 459.2L151.7 458.9L152.4 458.7L153.0 458.5L153.7 458.4L154.4 458.4L155.1 458.4L155.8 458.4L156.5 458.4L157.2 458.4L157.9 458.5L158.6 458.6L159.3 458.6L160.0 458.7L160.7 458.8L161.4 458.9L162.1 458.8L162.8 458.7L163.4 458.4L164.1 457.7L164.8 456.9L165.5 456.0L166.2 454.8L166.9 452.8L167.6 451.3L168.3 449.6L169.0 447.9L169.7 446.1L170.4 444.1L171.1 442.0L171.8 439.8L172.5 437.6L173.2 435.4L173.9 433.2L174.5 431.0L175.2 428.7L175.9 426.0L176.6 422.8L177.3 419.4L178.0 415.7L178.7 412.0L179.4 408.2L180.1 404.2L180.8 400.0L181.5 395.3L182.2 390.1L182.9 384.9L183.6 380.0L184.3 375.3L185.0 370.8L185.6 366.4L186.3 361.9L187.0 357.4L187.7 352.9L188.4 348.3L189.1 343.9L189.8 339.1L190.5 334.3L191.2 329.9L191.9 326.3L192.6 323.4L193.3 320.7L194.0 318.3L194.7 316.2L195.4 314.4L196.1 312.9L196.7 311.5L197.4 310.2L198.1 309.3L198.8 308.7L199.5 308.3L200.2 307.9L200.9 307.7L201.6 307.8L202.3 308.1L203.0 308.5L203.7 309.1L204.4 309.7L205.1 310.3L205.8 311.2L206.5 312.2L207.2 313.6L207.8 315.7L208.5 318.5L209.2 321.4L209.9 324.3L210.6 327.3L211.3 330.4L212.0 333.6L212.7 337.0L213.4 340.5L214.1 344.1L214.8 347.9L215.5 351.7L216.2 355.7L216.9 359.8L217.6 364.0L218.3 368.3L218.9 372.7L219.6 377.2L220.3 381.7L221.0 386.1L221.7 390.4L222.4 394.7L223.1 398.9L223.8 403.2L224.5 407.3L225.2 411.1L225.9 414.4L226.6 417.5L227.3 420.3L228.0 422.7L228.7 425.0L229.4 427.1L230.0 429.0L230.7 430.7L231.4 432.2L232.1 433.6L232.8 434.9L233.5 436.1L234.2 437.3L234.9 438.5L235.6 439.7L236.3 440.8L237.0 441.8L237.7 442.6L238.4 443.2L239.1 443.7L239.8 444.1L240.5 444.5L241.1 444.8L241.8 445.1L242.5 445.3L243.2 445.6L243.9 445.8L244.6 446.0L245.3 446.2L246.0 446.3L246.7 446.5L247.4 446.7L248.1 446.8L248.8 447.0L249.5 447.2L250.2 447.5L250.9 447.7L251.5 448.0L252.2 448.4L252.9 448.8L253.6 449.4L254.3 450.2L255.0 451.2L255.7 452.1L256.4 452.9L257.1 453.5L257.8 454.0L258.5 454.5L259.2 455.0L259.9 455.4L260.6 455.7L261.3 456.0L262.0 456.2L262.6 456.2L263.3 456.2L264.0 456.3L264.7 456.2L265.4 456.2L266.1 456.2L266.8 455.8L267.5 455.1L268.2 454.2L268.9 453.3L269.6 452.7L270.3 452.6L271.0 452.5L271.7 452.4L272.4 452.3L273.1 452.2L273.7 452.1L274.4 452.1L275.1 452.0L275.8 452.0L276.5 452.1L277.2 452.1L277.9 452.2" stroke="#5c5c5c" stroke-width="2.5"/>
<path d="M69.1 374.3L69.8 378.1L70.5 382.8L71.2 388.1L71.9 393.3L72.6 398.1L73.3 402.0L74.0 405.3L74.7 408.2L75.3 410.9L76.0 413.4L76.7 415.8L77.4 418.2L78.1 420.5L78.8 422.8L79.5 424.9L80.2 426.7L80.9 428.3L81.6 429.7L82.3 431.0L83.0 432.1L83.7 433.2L84.4 434.2L85.1 435.3L85.8 436.3L86.4 437.4L87.1 438.5L87.8 439.6L88.5 440.7L89.2 441.8L89.9 442.8L90.6 443.9L91.3 445.0L92.0 446.2L92.7 447.3L93.4 448.5L94.1 449.6L94.8 450.7L95.5 451.6L96.2 452.6L96.9 453.4L97.5 454.3L98.2 455.1L98.9 455.9L99.6 456.7L100.3 457.4L101.0 458.2L101.7 458.9L102.4 459.7L103.1 460.4L103.8 461.1L104.5 461.7L105.2 462.2L105.9 462.7L106.6 463.1L107.3 463.5L108.0 463.9L108.6 464.3L109.3 464.6L110.0 464.9L110.7 465.2L111.4 465.4L112.1 465.5L112.8 465.7L113.5 465.8L114.2 465.9L114.9 465.9L115.6 466.0L116.3 466.1L117.0 466.1L117.7 466.2L118.4 466.3L119.1 466.4L119.7 466.5L120.4 466.7L121.1 466.9L121.8 467.1L122.5 467.3L123.2 467.4L123.9 467.6L124.6 467.6L125.3 467.7L126.0 467.6L126.7 467.4L127.4 467.2L128.1 467.0L128.8 467.0L129.5 467.1L130.2 467.4L130.8 467.7L131.5 468.1L132.2 468.4L132.9 468.6L133.6 468.6L134.3 468.6L135.0 468.5L135.7 468.4L136.4 468.2L137.1 468.1L137.8 467.9L138.5 467.8L139.2 467.7L139.9 467.5L140.6 467.4L141.3 467.3L141.9 467.1L142.6 467.0L143.3 466.8L144.0 466.7L144.7 466.5L145.4 466.3L146.1 466.2L146.8 466.0L147.5 465.8L148.2 465.6L148.9 465.3L149.6 465.1L150.3 464.8L151.0 464.5L151.7 464.3L152.4 464.0L153.0 463.7L153.7 463.4L154.4 463.2L155.1 462.9L155.8 462.6L156.5 462.3L157.2 462.0L157.9 461.7L158.6 461.4L159.3 461.1L160.0 460.9L160.7 460.6L161.4 460.4L162.1 460.1L162.8 459.8L163.4 459.3L164.1 458.6L164.8 457.8L165.5 456.8L166.2 455.6L166.9 454.2L167.6 452.6L168.3 450.8L169.0 448.9L169.7 447.0L170.4 444.9L171.1 442.6L171.8 440.3L172.5 437.9L173.2 435.6L173.9 433.3L174.5 431.1L175.2 428.6L175.9 425.8L176.6 422.6L177.3 419.0L178.0 415.2L178.7 411.3L179.4 407.4L180.1 403.2L180.8 398.8L181.5 394.0L182.2 388.6L182.9 383.2L183.6 378.1L184.3 373.3L185.0 368.7L185.6 364.1L186.3 359.4L187.0 354.8L187.7 350.1L188.4 345.4L189.1 340.8L189.8 335.9L190.5 330.9L191.2 326.4L191.9 322.7L192.6 319.7L193.3 316.9L194.0 314.5L194.7 312.4L195.4 310.5L196.1 308.9L196.7 307.5L197.4 306.2L198.1 305.3L198.8 304.7L199.5 304.3L200.2 303.9L200.9 303.7L201.6 303.8L202.3 304.1L203.0 304.6L203.7 305.2L204.4 305.8L205.1 306.4L205.8 307.3L206.5 308.3L207.2 309.8L207.8 312.0L208.5 314.8L209.2 317.9L209.9 320.8L210.6 323.8L211.3 327.1L212.0 330.4L212.7 333.8L213.4 337.4L214.1 341.2L214.8 345.0L215.5 349.0L216.2 353.1L216.9 357.3L217.6 361.6L218.3 366.0L218.9 370.6L219.6 375.2L220.3 379.7L221.0 384.2L221.7 388.7L222.4 393.1L223.1 397.4L223.8 401.7L224.5 406.0L225.2 409.8L225.9 413.2L226.6 416.2L227.3 419.0L228.0 421.4L228.7 423.5L229.4 425.5L230.0 427.3L230.7 428.9L231.4 430.2L232.1 431.5L232.8 432.7L233.5 433.8L234.2 434.9L234.9 436.0L235.6 437.1L236.3 438.2L237.0 439.2L237.7 439.9L238.4 440.5L239.1 440.9L239.8 441.3L240.5 441.7L241.1 442.0L241.8 442.3L242.5 442.5L243.2 442.8L243.9 443.0L244.6 443.2L245.3 443.3L246.0 443.5L246.7 443.6L247.4 443.8L248.1 443.9L248.8 444.1L249.5 444.3L250.2 444.5L250.9 444.8L251.5 445.0L252.2 445.3L252.9 445.7L253.6 446.2L254.3 447.0L255.0 447.9L255.7 448.8L256.4 449.6L257.1 450.1L257.8 450.5L258.5 450.9L259.2 451.3L259.9 451.6L260.6 451.9L261.3 452.1L262.0 452.2L262.6 452.2L263.3 452.2L264.0 452.2L264.7 452.2L265.4 452.2L266.1 452.2L266.8 451.9L267.5 451.2L268.2 450.4L268.9 449.6L269.6 449.1L270.3 449.0L271.0 449.0L271.7 449.0L272.4 449.0L273.1 449.0L273.7 449.0L274.4 449.0L275.1 449.1L275.8 449.2L276.5 449.2L277.2 449.3L277.9 449.4" stroke="#ff0000" stroke-width="4.2"/>
</g>
<line x1="73.5" y1="290.9" x2="100.4" y2="290.9" stroke="#0000ff" stroke-width="3.9" />
<line x1="73.5" y1="307.6" x2="100.4" y2="307.6" stroke="#ff0000" stroke-width="4.4" />
<text x="105.6" y="295.6" font-size="14.4" text-anchor="start" font-family="&apos;Liberation Sans&apos;, sans-serif" fill="#111" >Aqueous</text>
<text x="106.2" y="311.8" font-size="14.4" text-anchor="start" font-family="&apos;Liberation Sans&apos;, sans-serif" fill="#111" >50% MeOH</text>
<line x1="241.6" y1="306.5" x2="241.6" y2="390.0" stroke="#111" stroke-width="1.3" />
<path d="M238.2 388 L241.6 402 L245.0 388 Z" fill="#111"/>
<text x="0" y="0" font-size="13.5" text-anchor="middle" dominant-baseline="central" font-family="&apos;Liberation Sans&apos;, sans-serif" fill="#111" transform="translate(252.9 348.6) rotate(90)" >Less MeOH</text>
<rect x="355.3" y="289.5" width="244.3" height="191.8" fill="none" stroke="#111" stroke-width="1.4"/>
<line x1="344.8" y1="476.5" x2="355.3" y2="476.5" stroke="#111" stroke-width="1.4" />
<line x1="344.8" y1="437.8" x2="355.3" y2="437.8" stroke="#111" stroke-width="1.4" />
<line x1="344.8" y1="399.0" x2="355.3" y2="399.0" stroke="#111" stroke-width="1.4" />
<line x1="344.8" y1="359.8" x2="355.3" y2="359.8" stroke="#111" stroke-width="1.4" />
<line x1="344.8" y1="321.0" x2="355.3" y2="321.0" stroke="#111" stroke-width="1.4" />
<line x1="360.2" y1="481.3" x2="360.2" y2="491.5" stroke="#111" stroke-width="1.4" />
<line x1="360.2" y1="289.5" x2="360.2" y2="280.5" stroke="#111" stroke-width="1.4" />
<text x="360.2" y="509.8" font-size="14" text-anchor="middle" font-family="&apos;Liberation Sans&apos;, sans-serif" fill="#111" >300</text>
<line x1="407.1" y1="481.3" x2="407.1" y2="491.5" stroke="#111" stroke-width="1.4" />
<line x1="407.1" y1="289.5" x2="407.1" y2="280.5" stroke="#111" stroke-width="1.4" />
<text x="407.1" y="509.8" font-size="14" text-anchor="middle" font-family="&apos;Liberation Sans&apos;, sans-serif" fill="#111" >400</text>
<line x1="453.9" y1="481.3" x2="453.9" y2="491.5" stroke="#111" stroke-width="1.4" />
<line x1="453.9" y1="289.5" x2="453.9" y2="280.5" stroke="#111" stroke-width="1.4" />
<text x="453.9" y="509.8" font-size="14" text-anchor="middle" font-family="&apos;Liberation Sans&apos;, sans-serif" fill="#111" >500</text>
<line x1="500.8" y1="481.3" x2="500.8" y2="491.5" stroke="#111" stroke-width="1.4" />
<line x1="500.8" y1="289.5" x2="500.8" y2="280.5" stroke="#111" stroke-width="1.4" />
<text x="500.8" y="509.8" font-size="14" text-anchor="middle" font-family="&apos;Liberation Sans&apos;, sans-serif" fill="#111" >600</text>
<line x1="547.6" y1="481.3" x2="547.6" y2="491.5" stroke="#111" stroke-width="1.4" />
<line x1="547.6" y1="289.5" x2="547.6" y2="280.5" stroke="#111" stroke-width="1.4" />
<text x="547.6" y="509.8" font-size="14" text-anchor="middle" font-family="&apos;Liberation Sans&apos;, sans-serif" fill="#111" >700</text>
<line x1="594.5" y1="481.3" x2="594.5" y2="491.5" stroke="#111" stroke-width="1.4" />
<line x1="594.5" y1="289.5" x2="594.5" y2="280.5" stroke="#111" stroke-width="1.4" />
<text x="594.5" y="509.8" font-size="14" text-anchor="middle" font-family="&apos;Liberation Sans&apos;, sans-serif" fill="#111" >800</text>
<text x="477.4" y="526.5" font-size="14.5" text-anchor="middle" font-family="&apos;Liberation Sans&apos;, sans-serif" fill="#111" >Wavelength (nm)</text>
<text x="0" y="0" font-size="14.8" text-anchor="middle" dominant-baseline="central" font-family="&apos;Liberation Sans&apos;, sans-serif" fill="#111" transform="translate(334.6 379.6) rotate(-90)" >Intensity (AU)</text>
<g fill="none" stroke-width="2.8" stroke-linejoin="round">
<path d="M360.2 476.3L360.4 476.3L360.7 476.3L360.9 476.3L361.1 476.3L361.4 476.3L361.6 476.3L361.8 476.3L362.1 476.3L362.3 476.3L362.5 476.3L362.8 476.3L363.0 476.3L363.2 476.3L363.5 476.3L363.7 476.3L363.9 476.3L364.2 476.3L364.4 476.3L364.7 476.3L364.9 476.3L365.1 476.3L365.4 476.3L365.6 476.3L365.8 476.3L366.1 476.3L366.3 476.3L366.5 476.3L366.8 476.3L367.0 476.3L367.2 476.3L367.5 476.3L367.7 476.3L367.9 476.3L368.2 476.3L368.4 476.3L368.6 476.3L368.9 476.3L369.1 476.3L369.3 476.3L369.6 476.3L369.8 476.3L370.0 476.3L370.3 476.3L370.5 476.3L370.7 476.3L371.0 476.3L371.2 476.3L371.4 476.3L371.7 476.3L371.9 476.3L372.1 476.3L372.4 476.3L372.6 476.3L372.9 476.3L373.1 476.3L373.3 476.3L373.6 476.3L373.8 476.3L374.0 476.3L374.3 476.3L374.5 476.3L374.7 476.3L375.0 476.3L375.2 476.3L375.4 476.3L375.7 476.3L375.9 476.3L376.1 476.3L376.4 476.3L376.6 476.3L376.8 476.3L377.1 476.3L377.3 476.3L377.5 476.3L377.8 476.3L378.0 476.3L378.2 476.3L378.5 476.3L378.7 476.3L378.9 476.3L379.2 476.3L379.4 476.3L379.6 476.3L379.9 476.3L380.1 476.3L380.3 476.3L380.6 476.3L380.8 476.3L381.1 476.3L381.3 476.3L381.5 476.3L381.8 476.3L382.0 476.3L382.2 476.3L382.5 476.3L382.7 476.3L382.9 476.3L383.2 476.3L383.4 476.3L383.6 476.3L383.9 476.3L384.1 476.3L384.3 476.3L384.6 476.3L384.8 476.3L385.0 476.3L385.3 476.3L385.5 476.3L385.7 476.3L386.0 476.3L386.2 476.3L386.4 476.3L386.7 476.3L386.9 476.3L387.1 476.3L387.4 476.3L387.6 476.3L387.8 476.3L388.1 476.3L388.3 476.3L388.6 476.3L388.8 476.3L389.0 476.3L389.3 476.3L389.5 476.3L389.7 476.3L390.0 476.3L390.2 476.3L390.4 476.3L390.7 476.3L390.9 476.3L391.1 476.3L391.4 476.3L391.6 476.3L391.8 476.3L392.1 476.3L392.3 476.3L392.5 476.3L392.8 476.3L393.0 476.3L393.2 476.3L393.5 476.3L393.7 476.3L393.9 476.3L394.2 476.3L394.4 476.3L394.6 476.3L394.9 476.3L395.1 476.3L395.3 476.3L395.6 476.3L395.8 476.3L396.0 476.3L396.3 476.3L396.5 476.3L396.8 476.3L397.0 476.3L397.2 476.3L397.5 476.3L397.7 476.3L397.9 476.3L398.2 476.3L398.4 476.3L398.6 476.3L398.9 476.3L399.1 476.3L399.3 476.3L399.6 476.3L399.8 476.3L400.0 476.3L400.3 476.3L400.5 476.3L400.7 476.3L401.0 476.3L401.2 476.3L401.4 476.3L401.7 476.3L401.9 476.3L402.1 476.3L402.4 476.3L402.6 476.3L402.8 476.3L403.1 476.3L403.3 476.3L403.5 476.3L403.8 476.3L404.0 476.3L404.2 476.3L404.5 476.3L404.7 476.3L405.0 476.3L405.2 476.3L405.4 476.3L405.7 476.3L405.9 476.3L406.1 476.3L406.4 476.3L406.6 476.3L406.8 476.3L407.1 476.3L407.3 476.3L407.5 476.3L407.8 476.3L408.0 476.3L408.2 476.3L408.5 476.3L408.7 476.3L408.9 476.3L409.2 476.3L409.4 476.3L409.6 476.3L409.9 476.3L410.1 476.3L410.3 476.3L410.6 476.3L410.8 476.3L411.0 476.3L411.3 476.3L411.5 476.3L411.7 476.3L412.0 476.3L412.2 476.3L412.4 476.3L412.7 476.3L412.9 476.3L413.2 476.3L413.4 476.3L413.6 476.3L413.9 476.3L414.1 476.3L414.3 476.3L414.6 476.3L414.8 476.3L415.0 476.3L415.3 476.3L415.5 476.3L415.7 476.3L416.0 476.3L416.2 476.3L416.4 476.3L416.7 476.3L416.9 476.3L417.1 476.3L417.4 476.3L417.6 476.3L417.8 476.3L418.1 476.3L418.3 476.3L418.5 476.3L418.8 476.3L419.0 476.3L419.2 476.3L419.5 476.3L419.7 476.3L419.9 476.3L420.2 476.3L420.4 476.3L420.6 476.3L420.9 476.3L421.1 476.3L421.4 476.3L421.6 476.3L421.8 476.3L422.1 476.3L422.3 476.3L422.5 476.3L422.8 476.3L423.0 476.3L423.2 476.3L423.5 476.3L423.7 476.3L423.9 476.3L424.2 476.3L424.4 476.3L424.6 476.3L424.9 476.3L425.1 476.3L425.3 476.3L425.6 476.3L425.8 476.3L426.0 476.3L426.3 476.3L426.5 476.3L426.7 476.3L427.0 476.3L427.2 476.3L427.4 476.3L427.7 476.3L427.9 476.3L428.1 476.3L428.4 476.3L428.6 476.3L428.8 476.3L429.1 476.3L429.3 476.3L429.6 476.3L429.8 476.3L430.0 476.3L430.3 476.3L430.5 476.3L430.7 476.3L431.0 476.3L431.2 476.3L431.4 476.3L431.7 476.3L431.9 476.3L432.1 476.3L432.4 476.3L432.6 476.3L432.8 476.3L433.1 476.3L433.3 476.3L433.5 476.3L433.8 476.3L434.0 476.3L434.2 476.3L434.5 476.3L434.7 476.3L434.9 476.3L435.2 476.3L435.4 476.3L435.6 476.3L435.9 476.3L436.1 476.3L436.3 476.3L436.6 476.3L436.8 476.3L437.1 476.3L437.3 476.3L437.5 476.3L437.8 476.3L438.0 476.3L438.2 476.3L438.5 476.3L438.7 476.3L438.9 476.3L439.2 476.3L439.4 476.3L439.6 476.3L439.9 476.3L440.1 476.3L440.3 476.3L440.6 476.3L440.8 476.3L441.0 476.3L441.3 476.3L441.5 476.3L441.7 476.3L442.0 476.3L442.2 476.3L442.4 476.3L442.7 476.3L442.9 476.3L443.1 476.3L443.4 476.3L443.6 476.3L443.8 476.3L444.1 476.3L444.3 476.3L444.5 476.3L444.8 476.3L445.0 476.2L445.3 476.2L445.5 476.2L445.7 476.2L446.0 476.2L446.2 476.2L446.4 476.2L446.7 476.2L446.9 476.2L447.1 476.2L447.4 476.2L447.6 476.2L447.8 476.2L448.1 476.2L448.3 476.2L448.5 476.1L448.8 476.1L449.0 476.1L449.2 476.1L449.5 476.1L449.7 476.1L449.9 476.1L450.2 476.0L450.4 476.0L450.6 476.0L450.9 476.0L451.1 476.0L451.3 475.9L451.6 475.9L451.8 475.9L452.0 475.9L452.3 475.8L452.5 475.8L452.7 475.8L453.0 475.7L453.2 475.7L453.5 475.7L453.7 475.6L453.9 475.6L454.2 475.5L454.4 475.5L454.6 475.4L454.9 475.4L455.1 475.3L455.3 475.3L455.6 475.2L455.8 475.2L456.0 475.1L456.3 475.0L456.5 475.0L456.7 474.9L457.0 474.8L457.2 474.7L457.4 474.6L457.7 474.6L457.9 474.5L458.1 474.4L458.4 474.3L458.6 474.2L458.8 474.0L459.1 473.9L459.3 473.8L459.5 473.7L459.8 473.6L460.0 473.4L460.2 473.3L460.5 473.1L460.7 473.0L460.9 472.8L461.2 472.7L461.4 472.5L461.7 472.3L461.9 472.1L462.1 472.0L462.4 471.8L462.6 471.6L462.8 471.4L463.1 471.1L463.3 470.9L463.5 470.7L463.8 470.5L464.0 470.2L464.2 470.0L464.5 469.7L464.7 469.5L464.9 469.2L465.2 468.9L465.4 468.7L465.6 468.4L465.9 468.1L466.1 467.8L466.3 467.5L466.6 467.2L466.8 466.8L467.0 466.5L467.3 466.2L467.5 465.8L467.7 465.5L468.0 465.1L468.2 464.8L468.4 464.4L468.7 464.0L468.9 463.7L469.1 463.3L469.4 462.9L469.6 462.5L469.9 462.1L470.1 461.7L470.3 461.3L470.6 460.9L470.8 460.4L471.0 460.0L471.3 459.6L471.5 459.2L471.7 458.7L472.0 458.3L472.2 457.9L472.4 457.4L472.7 457.0L472.9 456.6L473.1 456.1L473.4 455.7L473.6 455.2L473.8 454.8L474.1 454.4L474.3 453.9L474.5 453.5L474.8 453.0L475.0 452.6L475.2 452.2L475.5 451.8L475.7 451.3L475.9 450.9L476.2 450.5L476.4 450.1L476.6 449.7L476.9 449.3L477.1 448.9L477.4 448.6L477.6 448.2L477.8 447.8L478.1 447.5L478.3 447.1L478.5 446.8L478.8 446.5L479.0 446.1L479.2 445.8L479.5 445.6L479.7 445.3L479.9 445.0L480.2 444.7L480.4 444.5L480.6 444.3L480.9 444.0L481.1 443.8L481.3 443.6L481.6 443.5L481.8 443.3L482.0 443.2L482.3 443.0L482.5 442.9L482.7 442.8L483.0 442.7L483.2 442.6L483.4 442.6L483.7 442.5L483.9 442.5L484.1 442.5L484.4 442.5L484.6 442.5L484.8 442.5L485.1 442.6L485.3 442.6L485.6 442.7L485.8 442.8L486.0 442.9L486.3 442.9L486.5 443.1L486.7 443.2L487.0 443.3L487.2 443.4L487.4 443.6L487.7 443.7L487.9 443.9L488.1 444.1L488.4 444.3L488.6 444.5L488.8 444.7L489.1 444.9L489.3 445.1L489.5 445.3L489.8 445.6L490.0 445.8L490.2 446.0L490.5 446.3L490.7 446.6L490.9 446.8L491.2 447.1L491.4 447.4L491.6 447.7L491.9 448.0L492.1 448.3L492.3 448.5L492.6 448.9L492.8 449.2L493.0 449.5L493.3 449.8L493.5 450.1L493.8 450.4L494.0 450.7L494.2 451.1L494.5 451.4L494.7 451.7L494.9 452.1L495.2 452.4L495.4 452.7L495.6 453.1L495.9 453.4L496.1 453.7L496.3 454.1L496.6 454.4L496.8 454.7L497.0 455.1L497.3 455.4L497.5 455.8L497.7 456.1L498.0 456.4L498.2 456.8L498.4 457.1L498.7 457.4L498.9 457.7L499.1 458.1L499.4 458.4L499.6 458.7L499.8 459.0L500.1 459.4L500.3 459.7L500.5 460.0L500.8 460.3L501.0 460.6L501.2 460.9L501.5 461.2L501.7 461.5L502.0 461.8L502.2 462.1L502.4 462.4L502.7 462.7L502.9 463.0L503.1 463.2L503.4 463.5L503.6 463.8L503.8 464.1L504.1 464.3L504.3 464.6L504.5 464.8L504.8 465.1L505.0 465.3L505.2 465.6L505.5 465.8L505.7 466.1L505.9 466.3L506.2 466.5L506.4 466.8L506.6 467.0L506.9 467.2L507.1 467.4L507.3 467.6L507.6 467.9L507.8 468.1L508.0 468.3L508.3 468.5L508.5 468.7L508.7 468.8L509.0 469.0L509.2 469.2L509.4 469.4L509.7 469.6L509.9 469.7L510.2 469.9L510.4 470.1L510.6 470.2L510.9 470.4L511.1 470.6L511.3 470.7L511.6 470.9L511.8 471.0L512.0 471.1L512.3 471.3L512.5 471.4L512.7 471.6L513.0 471.7L513.2 471.8L513.4 471.9L513.7 472.1L513.9 472.2L514.1 472.3L514.4 472.4L514.6 472.5L514.8 472.6L515.1 472.7L515.3 472.8L515.5 472.9L515.8 473.0L516.0 473.1L516.2 473.2L516.5 473.3L516.7 473.4L516.9 473.5L517.2 473.6L517.4 473.6L517.6 473.7L517.9 473.8L518.1 473.9L518.4 473.9L518.6 474.0L518.8 474.1L519.1 474.2L519.3 474.2L519.5 474.3L519.8 474.3L520.0 474.4L520.2 474.5L520.5 474.5L520.7 474.6L520.9 474.6L521.2 474.7L521.4 474.7L521.6 474.8L521.9 474.8L522.1 474.9L522.3 474.9L522.6 475.0L522.8 475.0L523.0 475.1L523.3 475.1L523.5 475.1L523.7 475.2L524.0 475.2L524.2 475.2L524.4 475.3L524.7 475.3L524.9 475.3L525.1 475.4L525.4 475.4L525.6 475.4L525.9 475.5L526.1 475.5L526.3 475.5L526.6 475.5L526.8 475.6L527.0 475.6L527.3 475.6L527.5 475.6L527.7 475.7L528.0 475.7L528.2 475.7L528.4 475.7L528.7 475.7L528.9 475.8L529.1 475.8L529.4 475.8L529.6 475.8L529.8 475.8L530.1 475.8L530.3 475.9L530.5 475.9L530.8 475.9L531.0 475.9L531.2 475.9L531.5 475.9L531.7 475.9L531.9 476.0L532.2 476.0L532.4 476.0L532.6 476.0L532.9 476.0L533.1 476.0L533.3 476.0L533.6 476.0L533.8 476.0L534.1 476.1L534.3 476.1L534.5 476.1L534.8 476.1L535.0 476.1L535.2 476.1L535.5 476.1L535.7 476.1L535.9 476.1L536.2 476.1L536.4 476.1L536.6 476.1L536.9 476.1L537.1 476.1L537.3 476.2L537.6 476.2L537.8 476.2L538.0 476.2L538.3 476.2L538.5 476.2L538.7 476.2L539.0 476.2L539.2 476.2L539.4 476.2L539.7 476.2L539.9 476.2L540.1 476.2L540.4 476.2L540.6 476.2L540.8 476.2L541.1 476.2L541.3 476.2L541.5 476.2L541.8 476.2L542.0 476.2L542.3 476.2L542.5 476.2L542.7 476.2L543.0 476.2L543.2 476.2L543.4 476.2L543.7 476.2L543.9 476.2L544.1 476.3L544.4 476.3L544.6 476.3L544.8 476.3L545.1 476.3L545.3 476.3L545.5 476.3L545.8 476.3L546.0 476.3L546.2 476.3L546.5 476.3L546.7 476.3L546.9 476.3L547.2 476.3L547.4 476.3L547.6 476.3L547.9 476.3L548.1 476.3L548.3 476.3L548.6 476.3L548.8 476.3L549.0 476.3L549.3 476.3L549.5 476.3L549.7 476.3L550.0 476.3L550.2 476.3L550.5 476.3L550.7 476.3L550.9 476.3L551.2 476.3L551.4 476.3L551.6 476.3L551.9 476.3L552.1 476.3L552.3 476.3L552.6 476.3L552.8 476.3L553.0 476.3L553.3 476.3L553.5 476.3L553.7 476.3L554.0 476.3L554.2 476.3L554.4 476.3L554.7 476.3L554.9 476.3L555.1 476.3L555.4 476.3L555.6 476.3L555.8 476.3L556.1 476.3L556.3 476.3L556.5 476.3L556.8 476.3L557.0 476.3L557.2 476.3L557.5 476.3L557.7 476.3L557.9 476.3L558.2 476.3L558.4 476.3L558.7 476.3L558.9 476.3L559.1 476.3L559.4 476.3L559.6 476.3L559.8 476.3L560.1 476.3L560.3 476.3L560.5 476.3L560.8 476.3L561.0 476.3L561.2 476.3L561.5 476.3L561.7 476.3L561.9 476.3L562.2 476.3L562.4 476.3L562.6 476.3L562.9 476.3L563.1 476.3L563.3 476.3L563.6 476.3L563.8 476.3L564.0 476.3L564.3 476.3L564.5 476.3L564.7 476.3L565.0 476.3L565.2 476.3L565.4 476.3L565.7 476.3L565.9 476.3L566.1 476.3L566.4 476.3L566.6 476.3L566.9 476.3L567.1 476.3L567.3 476.3L567.6 476.3L567.8 476.3L568.0 476.3L568.3 476.3L568.5 476.3L568.7 476.3L569.0 476.3L569.2 476.3L569.4 476.3L569.7 476.3L569.9 476.3L570.1 476.3L570.4 476.3L570.6 476.3L570.8 476.3L571.1 476.3L571.3 476.3L571.5 476.3L571.8 476.3L572.0 476.3L572.2 476.3L572.5 476.3L572.7 476.3L572.9 476.3L573.2 476.3L573.4 476.3L573.6 476.3L573.9 476.3L574.1 476.3L574.4 476.3L574.6 476.3L574.8 476.3L575.1 476.3L575.3 476.3L575.5 476.3L575.8 476.3L576.0 476.3L576.2 476.3L576.5 476.3L576.7 476.3L576.9 476.3L577.2 476.3L577.4 476.3L577.6 476.3L577.9 476.3L578.1 476.3L578.3 476.3L578.6 476.3L578.8 476.3L579.0 476.3L579.3 476.3L579.5 476.3L579.7 476.3L580.0 476.3L580.2 476.3L580.4 476.3L580.7 476.3L580.9 476.3L581.1 476.3L581.4 476.3L581.6 476.3L581.8 476.3L582.1 476.3L582.3 476.3L582.6 476.3L582.8 476.3L583.0 476.3L583.3 476.3L583.5 476.3L583.7 476.3L584.0 476.3L584.2 476.3L584.4 476.3L584.7 476.3L584.9 476.3L585.1 476.3L585.4 476.3L585.6 476.3L585.8 476.3L586.1 476.3L586.3 476.3L586.5 476.3L586.8 476.3L587.0 476.3L587.2 476.3L587.5 476.3L587.7 476.3L587.9 476.3L588.2 476.3L588.4 476.3L588.6 476.3L588.9 476.3L589.1 476.3L589.3 476.3L589.6 476.3L589.8 476.3L590.0 476.3L590.3 476.3L590.5 476.3L590.8 476.3L591.0 476.3L591.2 476.3L591.5 476.3L591.7 476.3L591.9 476.3L592.2 476.3L592.4 476.3L592.6 476.3L592.9 476.3L593.1 476.3L593.3 476.3L593.6 476.3L593.8 476.3L594.0 476.3L594.3 476.3L594.5 476.3" stroke="#0000ff"/>
<path d="M360.2 476.3L360.4 476.3L360.7 476.3L360.9 476.3L361.1 476.3L361.4 476.3L361.6 476.3L361.8 476.3L362.1 476.3L362.3 476.3L362.5 476.3L362.8 476.3L363.0 476.3L363.2 476.3L363.5 476.3L363.7 476.3L363.9 476.3L364.2 476.3L364.4 476.3L364.7 476.3L364.9 476.3L365.1 476.3L365.4 476.3L365.6 476.3L365.8 476.3L366.1 476.3L366.3 476.3L366.5 476.3L366.8 476.3L367.0 476.3L367.2 476.3L367.5 476.3L367.7 476.3L367.9 476.3L368.2 476.3L368.4 476.3L368.6 476.3L368.9 476.3L369.1 476.3L369.3 476.3L369.6 476.3L369.8 476.3L370.0 476.3L370.3 476.3L370.5 476.3L370.7 476.3L371.0 476.3L371.2 476.3L371.4 476.3L371.7 476.3L371.9 476.3L372.1 476.3L372.4 476.3L372.6 476.3L372.9 476.3L373.1 476.3L373.3 476.3L373.6 476.3L373.8 476.3L374.0 476.3L374.3 476.3L374.5 476.3L374.7 476.3L375.0 476.3L375.2 476.3L375.4 476.3L375.7 476.3L375.9 476.3L376.1 476.3L376.4 476.3L376.6 476.3L376.8 476.3L377.1 476.3L377.3 476.3L377.5 476.3L377.8 476.3L378.0 476.3L378.2 476.3L378.5 476.3L378.7 476.3L378.9 476.3L379.2 476.3L379.4 476.3L379.6 476.3L379.9 476.3L380.1 476.3L380.3 476.3L380.6 476.3L380.8 476.3L381.1 476.3L381.3 476.3L381.5 476.3L381.8 476.3L382.0 476.3L382.2 476.3L382.5 476.3L382.7 476.3L382.9 476.3L383.2 476.3L383.4 476.3L383.6 476.3L383.9 476.3L384.1 476.3L384.3 476.3L384.6 476.3L384.8 476.3L385.0 476.3L385.3 476.3L385.5 476.3L385.7 476.3L386.0 476.3L386.2 476.3L386.4 476.3L386.7 476.3L386.9 476.3L387.1 476.3L387.4 476.3L387.6 476.3L387.8 476.3L388.1 476.3L388.3 476.3L388.6 476.3L388.8 476.3L389.0 476.3L389.3 476.3L389.5 476.3L389.7 476.3L390.0 476.3L390.2 476.3L390.4 476.3L390.7 476.3L390.9 476.3L391.1 476.3L391.4 476.3L391.6 476.3L391.8 476.3L392.1 476.3L392.3 476.3L392.5 476.3L392.8 476.3L393.0 476.3L393.2 476.3L393.5 476.3L393.7 476.3L393.9 476.3L394.2 476.3L394.4 476.3L394.6 476.3L394.9 476.3L395.1 476.3L395.3 476.3L395.6 476.3L395.8 476.3L396.0 476.3L396.3 476.3L396.5 476.3L396.8 476.3L397.0 476.3L397.2 476.3L397.5 476.3L397.7 476.3L397.9 476.3L398.2 476.3L398.4 476.3L398.6 476.3L398.9 476.3L399.1 476.3L399.3 476.3L399.6 476.3L399.8 476.3L400.0 476.3L400.3 476.3L400.5 476.3L400.7 476.3L401.0 476.3L401.2 476.3L401.4 476.3L401.7 476.3L401.9 476.3L402.1 476.3L402.4 476.3L402.6 476.3L402.8 476.3L403.1 476.3L403.3 476.3L403.5 476.3L403.8 476.3L404.0 476.3L404.2 476.3L404.5 476.3L404.7 476.3L405.0 476.3L405.2 476.3L405.4 476.3L405.7 476.3L405.9 476.3L406.1 476.3L406.4 476.3L406.6 476.3L406.8 476.3L407.1 476.3L407.3 476.3L407.5 476.3L407.8 476.3L408.0 476.3L408.2 476.3L408.5 476.3L408.7 476.3L408.9 476.3L409.2 476.3L409.4 476.3L409.6 476.3L409.9 476.3L410.1 476.3L410.3 476.3L410.6 476.3L410.8 476.3L411.0 476.3L411.3 476.3L411.5 476.3L411.7 476.3L412.0 476.3L412.2 476.3L412.4 476.3L412.7 476.3L412.9 476.3L413.2 476.3L413.4 476.3L413.6 476.3L413.9 476.3L414.1 476.3L414.3 476.3L414.6 476.3L414.8 476.3L415.0 476.3L415.3 476.3L415.5 476.3L415.7 476.3L416.0 476.3L416.2 476.3L416.4 476.3L416.7 476.3L416.9 476.3L417.1 476.3L417.4 476.3L417.6 476.3L417.8 476.3L418.1 476.3L418.3 476.3L418.5 476.3L418.8 476.3L419.0 476.3L419.2 476.3L419.5 476.3L419.7 476.3L419.9 476.3L420.2 476.3L420.4 476.3L420.6 476.3L420.9 476.3L421.1 476.3L421.4 476.3L421.6 476.3L421.8 476.3L422.1 476.3L422.3 476.3L422.5 476.3L422.8 476.3L423.0 476.3L423.2 476.3L423.5 476.3L423.7 476.3L423.9 476.3L424.2 476.3L424.4 476.3L424.6 476.3L424.9 476.3L425.1 476.3L425.3 476.3L425.6 476.3L425.8 476.3L426.0 476.3L426.3 476.3L426.5 476.3L426.7 476.3L427.0 476.3L427.2 476.3L427.4 476.3L427.7 476.3L427.9 476.3L428.1 476.3L428.4 476.3L428.6 476.3L428.8 476.3L429.1 476.3L429.3 476.3L429.6 476.3L429.8 476.3L430.0 476.3L430.3 476.3L430.5 476.3L430.7 476.3L431.0 476.3L431.2 476.3L431.4 476.3L431.7 476.3L431.9 476.3L432.1 476.3L432.4 476.3L432.6 476.3L432.8 476.3L433.1 476.3L433.3 476.3L433.5 476.3L433.8 476.3L434.0 476.3L434.2 476.3L434.5 476.3L434.7 476.3L434.9 476.3L435.2 476.3L435.4 476.3L435.6 476.3L435.9 476.3L436.1 476.3L436.3 476.3L436.6 476.3L436.8 476.3L437.1 476.3L437.3 476.3L437.5 476.3L437.8 476.3L438.0 476.3L438.2 476.3L438.5 476.3L438.7 476.3L438.9 476.3L439.2 476.3L439.4 476.3L439.6 476.3L439.9 476.3L440.1 476.3L440.3 476.3L440.6 476.3L440.8 476.3L441.0 476.3L441.3 476.3L441.5 476.3L441.7 476.3L442.0 476.3L442.2 476.3L442.4 476.3L442.7 476.3L442.9 476.3L443.1 476.3L443.4 476.3L443.6 476.3L443.8 476.3L444.1 476.3L444.3 476.3L444.5 476.3L444.8 476.3L445.0 476.3L445.3 476.3L445.5 476.3L445.7 476.3L446.0 476.3L446.2 476.3L446.4 476.3L446.7 476.3L446.9 476.3L447.1 476.2L447.4 476.2L447.6 476.2L447.8 476.2L448.1 476.2L448.3 476.2L448.5 476.2L448.8 476.2L449.0 476.1L449.2 476.1L449.5 476.1L449.7 476.0L449.9 476.0L450.2 476.0L450.4 475.9L450.6 475.9L450.9 475.8L451.1 475.8L451.3 475.7L451.6 475.6L451.8 475.5L452.0 475.5L452.3 475.4L452.5 475.2L452.7 475.1L453.0 475.0L453.2 474.9L453.5 474.7L453.7 474.5L453.9 474.3L454.2 474.1L454.4 473.9L454.6 473.7L454.9 473.4L455.1 473.2L455.3 472.9L455.6 472.6L455.8 472.2L456.0 471.9L456.3 471.5L456.5 471.1L456.7 470.6L457.0 470.1L457.2 469.6L457.4 469.1L457.7 468.5L457.9 467.9L458.1 467.3L458.4 466.6L458.6 465.9L458.8 465.2L459.1 464.4L459.3 463.5L459.5 462.7L459.8 461.8L460.0 460.8L460.2 459.8L460.5 458.8L460.7 457.7L460.9 456.5L461.2 455.3L461.4 454.1L461.7 452.8L461.9 451.5L462.1 450.1L462.4 448.7L462.6 447.2L462.8 445.7L463.1 444.1L463.3 442.5L463.5 440.8L463.8 439.1L464.0 437.3L464.2 435.5L464.5 433.6L464.7 431.7L464.9 429.8L465.2 427.8L465.4 425.7L465.6 423.7L465.9 421.6L466.1 419.4L466.3 417.2L466.6 415.0L466.8 412.7L467.0 410.5L467.3 408.2L467.5 405.8L467.7 403.5L468.0 401.1L468.2 398.7L468.4 396.2L468.7 393.8L468.9 391.4L469.1 388.9L469.4 386.4L469.6 384.0L469.9 381.5L470.1 379.0L470.3 376.5L470.6 374.1L470.8 371.6L471.0 369.1L471.3 366.7L471.5 364.3L471.7 361.9L472.0 359.6L472.2 357.5L472.4 355.3L472.7 353.1L472.9 351.0L473.1 348.9L473.4 346.8L473.6 344.8L473.8 342.7L474.1 340.7L474.3 338.7L474.5 336.8L474.8 334.9L475.0 333.0L475.2 331.2L475.5 329.4L475.7 327.6L475.9 325.9L476.2 324.3L476.4 322.7L476.6 321.2L476.9 319.7L477.1 318.2L477.4 316.8L477.6 315.5L477.8 314.3L478.1 313.1L478.3 311.9L478.5 310.9L478.8 309.9L479.0 308.9L479.2 308.1L479.5 307.3L479.7 306.6L479.9 305.9L480.2 305.4L480.4 304.9L480.6 304.5L480.9 304.1L481.1 303.8L481.3 303.7L481.6 303.5L481.8 303.5L482.0 303.5L482.3 303.6L482.5 303.8L482.7 304.1L483.0 304.4L483.2 304.8L483.4 305.2L483.7 305.7L483.9 306.3L484.1 307.0L484.4 307.7L484.6 308.4L484.8 309.3L485.1 310.1L485.3 311.1L485.6 312.1L485.8 313.1L486.0 314.2L486.3 315.4L486.5 316.6L486.7 317.8L487.0 319.1L487.2 320.4L487.4 321.8L487.7 323.2L487.9 324.6L488.1 326.1L488.4 327.6L488.6 329.2L488.8 330.8L489.1 332.4L489.3 334.0L489.5 335.7L489.8 337.4L490.0 339.1L490.2 340.8L490.5 342.6L490.7 344.4L490.9 346.1L491.2 347.9L491.4 349.8L491.6 351.6L491.9 353.4L492.1 355.2L492.3 357.1L492.6 358.9L492.8 360.8L493.0 362.6L493.3 364.5L493.5 366.4L493.8 368.2L494.0 370.1L494.2 371.9L494.5 373.8L494.7 375.6L494.9 377.4L495.2 379.2L495.4 381.1L495.6 382.9L495.9 384.7L496.1 386.4L496.3 388.2L496.6 389.9L496.8 391.7L497.0 393.4L497.3 395.1L497.5 396.8L497.7 398.5L498.0 400.1L498.2 401.8L498.4 403.4L498.7 405.0L498.9 406.6L499.1 408.1L499.4 409.7L499.6 411.2L499.8 412.7L500.1 414.2L500.3 415.6L500.5 417.0L500.8 418.5L501.0 419.9L501.2 421.2L501.5 422.6L501.7 423.9L502.0 425.2L502.2 426.5L502.4 427.7L502.7 429.0L502.9 430.2L503.1 431.4L503.4 432.5L503.6 433.7L503.8 434.8L504.1 435.9L504.3 437.0L504.5 438.0L504.8 439.1L505.0 440.1L505.2 441.1L505.5 442.0L505.7 443.0L505.9 443.9L506.2 444.8L506.4 445.7L506.6 446.6L506.9 447.4L507.1 448.2L507.3 449.1L507.6 449.8L507.8 450.6L508.0 451.4L508.3 452.1L508.5 452.8L508.7 453.5L509.0 454.2L509.2 454.9L509.4 455.5L509.7 456.1L509.9 456.8L510.2 457.4L510.4 457.9L510.6 458.5L510.9 459.1L511.1 459.6L511.3 460.1L511.6 460.6L511.8 461.1L512.0 461.6L512.3 462.1L512.5 462.5L512.7 463.0L513.0 463.4L513.2 463.8L513.4 464.2L513.7 464.6L513.9 465.0L514.1 465.4L514.4 465.7L514.6 466.1L514.8 466.4L515.1 466.7L515.3 467.1L515.5 467.4L515.8 467.7L516.0 468.0L516.2 468.2L516.5 468.5L516.7 468.8L516.9 469.0L517.2 469.3L517.4 469.5L517.6 469.8L517.9 470.0L518.1 470.2L518.4 470.4L518.6 470.6L518.8 470.8L519.1 471.0L519.3 471.2L519.5 471.4L519.8 471.6L520.0 471.7L520.2 471.9L520.5 472.0L520.7 472.2L520.9 472.3L521.2 472.5L521.4 472.6L521.6 472.8L521.9 472.9L522.1 473.0L522.3 473.1L522.6 473.2L522.8 473.4L523.0 473.5L523.3 473.6L523.5 473.7L523.7 473.8L524.0 473.9L524.2 473.9L524.4 474.0L524.7 474.1L524.9 474.2L525.1 474.3L525.4 474.4L525.6 474.4L525.9 474.5L526.1 474.6L526.3 474.6L526.6 474.7L526.8 474.8L527.0 474.8L527.3 474.9L527.5 474.9L527.7 475.0L528.0 475.0L528.2 475.1L528.4 475.1L528.7 475.2L528.9 475.2L529.1 475.3L529.4 475.3L529.6 475.3L529.8 475.4L530.1 475.4L530.3 475.4L530.5 475.5L530.8 475.5L531.0 475.5L531.2 475.6L531.5 475.6L531.7 475.6L531.9 475.6L532.2 475.7L532.4 475.7L532.6 475.7L532.9 475.7L533.1 475.8L533.3 475.8L533.6 475.8L533.8 475.8L534.1 475.8L534.3 475.9L534.5 475.9L534.8 475.9L535.0 475.9L535.2 475.9L535.5 475.9L535.7 476.0L535.9 476.0L536.2 476.0L536.4 476.0L536.6 476.0L536.9 476.0L537.1 476.0L537.3 476.0L537.6 476.1L537.8 476.1L538.0 476.1L538.3 476.1L538.5 476.1L538.7 476.1L539.0 476.1L539.2 476.1L539.4 476.1L539.7 476.1L539.9 476.1L540.1 476.1L540.4 476.2L540.6 476.2L540.8 476.2L541.1 476.2L541.3 476.2L541.5 476.2L541.8 476.2L542.0 476.2L542.3 476.2L542.5 476.2L542.7 476.2L543.0 476.2L543.2 476.2L543.4 476.2L543.7 476.2L543.9 476.2L544.1 476.2L544.4 476.2L544.6 476.2L544.8 476.2L545.1 476.2L545.3 476.2L545.5 476.2L545.8 476.2L546.0 476.2L546.2 476.2L546.5 476.2L546.7 476.3L546.9 476.3L547.2 476.3L547.4 476.3L547.6 476.3L547.9 476.3L548.1 476.3L548.3 476.3L548.6 476.3L548.8 476.3L549.0 476.3L549.3 476.3L549.5 476.3L549.7 476.3L550.0 476.3L550.2 476.3L550.5 476.3L550.7 476.3L550.9 476.3L551.2 476.3L551.4 476.3L551.6 476.3L551.9 476.3L552.1 476.3L552.3 476.3L552.6 476.3L552.8 476.3L553.0 476.3L553.3 476.3L553.5 476.3L553.7 476.3L554.0 476.3L554.2 476.3L554.4 476.3L554.7 476.3L554.9 476.3L555.1 476.3L555.4 476.3L555.6 476.3L555.8 476.3L556.1 476.3L556.3 476.3L556.5 476.3L556.8 476.3L557.0 476.3L557.2 476.3L557.5 476.3L557.7 476.3L557.9 476.3L558.2 476.3L558.4 476.3L558.7 476.3L558.9 476.3L559.1 476.3L559.4 476.3L559.6 476.3L559.8 476.3L560.1 476.3L560.3 476.3L560.5 476.3L560.8 476.3L561.0 476.3L561.2 476.3L561.5 476.3L561.7 476.3L561.9 476.3L562.2 476.3L562.4 476.3L562.6 476.3L562.9 476.3L563.1 476.3L563.3 476.3L563.6 476.3L563.8 476.3L564.0 476.3L564.3 476.3L564.5 476.3L564.7 476.3L565.0 476.3L565.2 476.3L565.4 476.3L565.7 476.3L565.9 476.3L566.1 476.3L566.4 476.3L566.6 476.3L566.9 476.3L567.1 476.3L567.3 476.3L567.6 476.3L567.8 476.3L568.0 476.3L568.3 476.3L568.5 476.3L568.7 476.3L569.0 476.3L569.2 476.3L569.4 476.3L569.7 476.3L569.9 476.3L570.1 476.3L570.4 476.3L570.6 476.3L570.8 476.3L571.1 476.3L571.3 476.3L571.5 476.3L571.8 476.3L572.0 476.3L572.2 476.3L572.5 476.3L572.7 476.3L572.9 476.3L573.2 476.3L573.4 476.3L573.6 476.3L573.9 476.3L574.1 476.3L574.4 476.3L574.6 476.3L574.8 476.3L575.1 476.3L575.3 476.3L575.5 476.3L575.8 476.3L576.0 476.3L576.2 476.3L576.5 476.3L576.7 476.3L576.9 476.3L577.2 476.3L577.4 476.3L577.6 476.3L577.9 476.3L578.1 476.3L578.3 476.3L578.6 476.3L578.8 476.3L579.0 476.3L579.3 476.3L579.5 476.3L579.7 476.3L580.0 476.3L580.2 476.3L580.4 476.3L580.7 476.3L580.9 476.3L581.1 476.3L581.4 476.3L581.6 476.3L581.8 476.3L582.1 476.3L582.3 476.3L582.6 476.3L582.8 476.3L583.0 476.3L583.3 476.3L583.5 476.3L583.7 476.3L584.0 476.3L584.2 476.3L584.4 476.3L584.7 476.3L584.9 476.3L585.1 476.3L585.4 476.3L585.6 476.3L585.8 476.3L586.1 476.3L586.3 476.3L586.5 476.3L586.8 476.3L587.0 476.3L587.2 476.3L587.5 476.3L587.7 476.3L587.9 476.3L588.2 476.3L588.4 476.3L588.6 476.3L588.9 476.3L589.1 476.3L589.3 476.3L589.6 476.3L589.8 476.3L590.0 476.3L590.3 476.3L590.5 476.3L590.8 476.3L591.0 476.3L591.2 476.3L591.5 476.3L591.7 476.3L591.9 476.3L592.2 476.3L592.4 476.3L592.6 476.3L592.9 476.3L593.1 476.3L593.3 476.3L593.6 476.3L593.8 476.3L594.0 476.3L594.3 476.3L594.5 476.3" stroke="#ff0000"/>
</g>
<g fill="#0000ff">
<circle cx="364.0" cy="418.4" r="2.45"/>
<circle cx="368.7" cy="449.9" r="2.45"/>
<circle cx="373.4" cy="461.6" r="2.45"/>
<circle cx="378.0" cy="466.3" r="2.45"/>
<circle cx="382.7" cy="469.6" r="2.45"/>
<circle cx="387.4" cy="472.0" r="2.45"/>
<circle cx="392.1" cy="473.7" r="2.45"/>
<circle cx="396.8" cy="474.7" r="2.45"/>
<circle cx="401.5" cy="475.1" r="2.45"/>
<circle cx="406.1" cy="475.5" r="2.45"/>
<circle cx="410.8" cy="476.0" r="2.45"/>
<circle cx="415.5" cy="476.0" r="2.45"/>
<circle cx="420.2" cy="475.1" r="2.45"/>
<circle cx="424.9" cy="473.5" r="2.45"/>
<circle cx="429.6" cy="471.0" r="2.45"/>
<circle cx="434.2" cy="466.3" r="2.45"/>
<circle cx="438.9" cy="458.9" r="2.45"/>
<circle cx="443.6" cy="450.9" r="2.45"/>
<circle cx="448.3" cy="444.3" r="2.45"/>
<circle cx="453.0" cy="441.6" r="2.45"/>
<circle cx="457.7" cy="446.2" r="2.45"/>
<circle cx="462.3" cy="453.4" r="2.45"/>
<circle cx="467.0" cy="462.4" r="2.45"/>
<circle cx="471.7" cy="469.3" r="2.45"/>
<circle cx="476.4" cy="472.8" r="2.45"/>
<circle cx="481.1" cy="475.0" r="2.45"/>
<circle cx="485.8" cy="476.6" r="2.45"/>
<circle cx="490.4" cy="477.2" r="2.45"/>
<circle cx="495.1" cy="477.2" r="2.45"/>
<circle cx="499.8" cy="477.2" r="2.45"/>
<circle cx="504.5" cy="477.2" r="2.45"/>
<circle cx="509.2" cy="477.2" r="2.45"/>
<circle cx="513.9" cy="477.2" r="2.45"/>
<circle cx="518.5" cy="477.2" r="2.45"/>
<circle cx="523.2" cy="477.2" r="2.45"/>
<circle cx="527.9" cy="477.2" r="2.45"/>
<circle cx="532.6" cy="477.2" r="2.45"/>
<circle cx="537.3" cy="477.2" r="2.45"/>
<circle cx="542.0" cy="477.2" r="2.45"/>
<circle cx="546.6" cy="477.2" r="2.45"/>
</g><g fill="#ff0000">
<circle cx="368.7" cy="331.1" r="2.45"/>
<circle cx="373.4" cy="392.3" r="2.45"/>
<circle cx="378.0" cy="419.4" r="2.45"/>
<circle cx="382.7" cy="435.9" r="2.45"/>
<circle cx="387.4" cy="447.8" r="2.45"/>
<circle cx="392.1" cy="456.0" r="2.45"/>
<circle cx="396.8" cy="462.2" r="2.45"/>
<circle cx="401.5" cy="466.9" r="2.45"/>
<circle cx="406.1" cy="470.4" r="2.45"/>
<circle cx="410.8" cy="472.9" r="2.45"/>
<circle cx="415.5" cy="472.9" r="2.45"/>
<circle cx="420.2" cy="470.8" r="2.45"/>
<circle cx="424.9" cy="463.6" r="2.45"/>
<circle cx="429.6" cy="446.2" r="2.45"/>
<circle cx="434.2" cy="414.5" r="2.45"/>
<circle cx="438.9" cy="371.7" r="2.45"/>
<circle cx="443.6" cy="329.4" r="2.45"/>
<circle cx="448.3" cy="303.9" r="2.45"/>
<circle cx="453.0" cy="307.3" r="2.45"/>
<circle cx="457.7" cy="337.8" r="2.45"/>
<circle cx="462.3" cy="381.0" r="2.45"/>
<circle cx="467.0" cy="420.3" r="2.45"/>
<circle cx="471.7" cy="448.4" r="2.45"/>
<circle cx="476.4" cy="463.5" r="2.45"/>
<circle cx="481.1" cy="470.4" r="2.45"/>
<circle cx="485.8" cy="472.9" r="2.45"/>
<circle cx="490.4" cy="474.3" r="2.45"/>
<circle cx="495.1" cy="475.2" r="2.45"/>
<circle cx="499.8" cy="475.2" r="2.45"/>
<circle cx="504.5" cy="475.2" r="2.45"/>
<circle cx="509.2" cy="475.2" r="2.45"/>
<circle cx="513.9" cy="475.2" r="2.45"/>
<circle cx="518.5" cy="475.2" r="2.45"/>
<circle cx="523.2" cy="475.2" r="2.45"/>
<circle cx="527.9" cy="475.2" r="2.45"/>
<circle cx="532.6" cy="475.2" r="2.45"/>
<circle cx="537.3" cy="475.2" r="2.45"/>
<circle cx="542.0" cy="475.2" r="2.45"/>
<circle cx="546.6" cy="475.2" r="2.45"/>
</g>
<rect x="500" y="293.5" width="112" height="33.5" fill="#fff"/>
<line x1="503.8" y1="302.8" x2="530.8" y2="302.8" stroke="#0000ff" stroke-width="3.1" stroke-linecap="round"/>
<line x1="503.8" y1="319.4" x2="530.8" y2="319.4" stroke="#ff0000" stroke-width="3.3" stroke-linecap="round"/>
<text x="536.8" y="307.4" font-size="14" text-anchor="start" font-family="&apos;Liberation Sans&apos;, sans-serif" fill="#111" >Aqueous</text>
<text x="536.8" y="324.7" font-size="14" text-anchor="start" font-family="&apos;Liberation Sans&apos;, sans-serif" fill="#111" >50% MeOH</text>
<text x="558.1" y="354.3" font-size="16" text-anchor="middle" font-family="&apos;Liberation Sans&apos;, sans-serif" fill="#111" >(d)</text>
<rect x="750.8" y="12.4" width="261.4" height="203.0" fill="none" stroke="#333" stroke-width="1.3"/>
<line x1="746.8" y1="12.3" x2="750.8" y2="12.3" stroke="#444" stroke-width="1.3" />
<text x="731.8" y="18.2" font-size="15.4" text-anchor="middle" font-family="&apos;Liberation Serif&apos;, serif" fill="#111" >0.1</text>
<line x1="746.8" y1="104.9" x2="750.8" y2="104.9" stroke="#444" stroke-width="1.3" />
<text x="731.5" y="111.6" font-size="15.4" text-anchor="middle" font-family="&apos;Liberation Serif&apos;, serif" fill="#111" >0.05</text>
<line x1="746.8" y1="197.6" x2="750.8" y2="197.6" stroke="#444" stroke-width="1.3" />
<text x="732.2" y="203.3" font-size="15.4" text-anchor="middle" font-family="&apos;Liberation Serif&apos;, serif" fill="#111" >0</text>
<line x1="748.5" y1="58.6" x2="750.8" y2="58.6" stroke="#333" stroke-width="1.0" />
<line x1="748.5" y1="151.3" x2="750.8" y2="151.3" stroke="#333" stroke-width="1.0" />
<line x1="750.8" y1="215.4" x2="750.8" y2="220.4" stroke="#333" stroke-width="1.2" />
<line x1="783.5" y1="215.4" x2="783.5" y2="218.4" stroke="#333" stroke-width="1.2" />
<line x1="816.3" y1="215.4" x2="816.3" y2="220.4" stroke="#333" stroke-width="1.2" />
<line x1="849.0" y1="215.4" x2="849.0" y2="218.4" stroke="#333" stroke-width="1.2" />
<line x1="881.8" y1="215.4" x2="881.8" y2="220.4" stroke="#333" stroke-width="1.2" />
<line x1="914.5" y1="215.4" x2="914.5" y2="218.4" stroke="#333" stroke-width="1.2" />
<line x1="947.3" y1="215.4" x2="947.3" y2="220.4" stroke="#333" stroke-width="1.2" />
<line x1="980.0" y1="215.4" x2="980.0" y2="218.4" stroke="#333" stroke-width="1.2" />
<line x1="1012.8" y1="215.4" x2="1012.8" y2="220.4" stroke="#333" stroke-width="1.2" />
<text x="749.8" y="235.6" font-size="14.6" text-anchor="middle" font-family="&apos;Liberation Serif&apos;, serif" fill="#111" >300</text>
<text x="815.3" y="235.6" font-size="14.6" text-anchor="middle" font-family="&apos;Liberation Serif&apos;, serif" fill="#111" >400</text>
<text x="880.8" y="235.6" font-size="14.6" text-anchor="middle" font-family="&apos;Liberation Serif&apos;, serif" fill="#111" >500</text>
<text x="946.3" y="235.6" font-size="14.6" text-anchor="middle" font-family="&apos;Liberation Serif&apos;, serif" fill="#111" >600</text>
<text x="1011.8" y="235.6" font-size="14.6" text-anchor="middle" font-family="&apos;Liberation Serif&apos;, serif" fill="#111" >700</text>
<text x="840.3" y="258.4" font-size="16.6" text-anchor="start" font-family="&apos;Liberation Serif&apos;, serif" fill="#111" textLength="78.0" lengthAdjust="spacingAndGlyphs" stroke="#111" stroke-width="0.35">Wavelength</text>
<text x="922.3" y="258.4" font-size="15.0" text-anchor="start" font-family="&apos;Liberation Serif&apos;, serif" fill="#111" textLength="27.5" lengthAdjust="spacingAndGlyphs" stroke="#111" stroke-width="0.35">(nm)</text>
<text x="0" y="0" font-size="15.6" text-anchor="middle" font-family="&apos;Liberation Serif&apos;, serif" fill="#111" textLength="70.0" lengthAdjust="spacingAndGlyphs" transform="translate(714.9 137.2) rotate(-90)">Absorbance</text>
<text x="0" y="0" font-size="15.6" text-anchor="middle" font-family="&apos;Liberation Serif&apos;, serif" fill="#111" textLength="35.0" lengthAdjust="spacingAndGlyphs" transform="translate(714.9 72.7) rotate(-90)">(a. u.)</text>
<text x="982.6" y="44.7" font-size="14.5" text-anchor="middle" font-family="&apos;Liberation Sans&apos;, sans-serif" fill="#111" >(e)</text>
<text x="843.5" y="70.7" font-size="13.8" text-anchor="middle" font-family="&apos;Liberation Sans&apos;, sans-serif" fill="#111" >1</text>
<text x="845.1" y="106.6" font-size="13.8" text-anchor="middle" font-family="&apos;Liberation Sans&apos;, sans-serif" fill="#111" >2</text>
<path d="M751.2 12.4L751.8 22.7L752.4 34.7L753.0 44.6L753.6 54.5L754.2 63.0L754.8 69.8L755.4 75.7L756.0 78.1L756.6 81.7L757.2 81.9L757.8 83.1L758.4 84.5L759.0 85.6L759.6 86.6L760.2 87.9L760.8 89.3L761.4 90.0L762.0 92.3L762.6 91.6L763.2 92.6L763.8 95.6L764.4 96.0L765.0 96.3L765.6 96.2L766.2 96.5L766.8 98.6L767.4 95.9L768.0 96.3L768.6 98.1L769.2 94.8L769.8 94.1L770.4 96.3L771.0 97.8L771.6 97.9L772.2 98.9L772.8 94.3L773.4 99.7L774.0 97.2L774.6 96.4L775.2 99.4L775.8 101.4L776.4 101.9L777.0 100.1L777.6 99.8L778.2 99.3L778.8 100.4L779.4 98.4L780.0 98.6L780.6 101.3L781.2 100.2L781.8 101.0L782.4 108.4L783.0 110.1L783.6 104.0L784.2 100.6L784.8 101.8L785.4 98.3L786.0 102.7L786.6 102.6L787.2 100.1L787.8 104.0L788.4 104.9L789.0 106.1L789.6 100.3L790.2 101.4L790.8 103.7L791.4 104.4L792.0 100.6L792.6 104.6L793.2 106.2L793.8 103.2L794.4 105.2L795.0 101.3L795.6 103.3L796.2 101.3L796.8 104.5L797.4 102.5L798.0 101.9L798.6 100.0L799.2 104.4L799.8 103.0L800.4 102.9L801.0 103.3L801.6 102.2L802.2 100.8L802.8 100.5L803.4 100.4L804.0 103.2L804.6 99.3L805.2 101.0L805.8 101.0L806.4 101.2L807.0 101.2L807.6 100.4L808.2 100.1L808.8 100.7L809.4 101.1L810.0 100.7L810.6 100.4L811.2 100.0L811.8 100.0L812.4 99.5L813.0 99.6L813.6 98.6L814.2 98.5L814.8 98.0L815.4 97.8L816.0 97.3L816.6 97.7L817.2 96.8L817.8 96.3L818.4 94.4L819.0 94.5L819.6 93.8L820.2 93.6L820.8 91.7L821.4 92.4L822.0 91.5L822.6 89.8L823.2 89.1L823.8 88.5L824.4 88.1L825.0 87.6L825.6 87.6L826.2 86.1L826.8 86.0L827.4 85.3L828.0 85.4L828.6 84.5L829.2 84.3L829.8 82.9L830.4 82.8L831.0 82.1L831.6 82.7L832.2 82.0L832.8 81.3L833.4 81.0L834.0 81.1L834.6 80.4L835.2 80.1L835.8 80.4L836.4 81.0L837.0 79.7L837.6 79.4L838.2 79.0L838.8 78.8L839.4 79.4L840.0 79.5L840.6 79.1L841.2 79.3L841.8 79.3L842.4 79.5L843.0 79.1L843.6 79.9L844.2 80.5L844.8 80.5L845.4 81.0L846.0 81.3L846.6 81.9L847.2 82.7L847.8 82.6L848.4 83.1L849.0 83.9L849.6 84.3L850.2 85.2L850.8 84.2L851.4 85.9L852.0 85.8L852.6 86.5L853.2 87.3L853.8 87.9L854.4 88.3L855.0 88.4L855.6 89.3L856.2 88.9L856.8 89.3L857.4 90.1L858.0 89.8L858.6 91.3L859.2 91.1L859.8 91.9L860.4 91.4L861.0 91.6L861.6 92.2L862.2 92.8L862.8 92.8L863.4 93.7L864.0 94.0L864.6 95.3L865.2 95.0L865.8 96.3L866.4 96.3L867.0 96.9L867.6 97.8L868.2 98.3L868.8 99.6L869.4 100.7L870.0 101.1L870.6 102.0L871.2 103.2L871.8 103.4L872.4 104.1L873.0 104.7L873.6 105.0L874.2 106.8L874.8 106.6L875.4 108.4L876.0 108.9L876.6 110.2L877.2 110.6L877.8 111.1L878.4 112.4L879.0 112.9L879.6 113.9L880.2 114.9L880.8 115.7L881.4 116.5L882.0 117.2L882.6 118.3L883.2 118.5L883.8 120.2L884.4 120.6L885.0 122.5L885.6 123.4L886.2 123.0L886.8 124.7L887.4 125.4L888.0 125.9L888.6 127.3L889.2 127.7L889.8 127.9L890.4 129.2L891.0 130.0L891.6 130.8L892.2 131.0L892.8 132.4L893.4 133.1L894.0 133.0L894.6 133.9L895.2 134.8L895.8 135.2L896.4 136.8L897.0 136.9L897.6 137.0L898.2 137.8L898.8 138.7L899.4 140.3L900.0 140.0L900.6 140.7L901.2 141.5L901.8 142.0L902.4 143.5L903.0 143.0L903.6 144.2L904.2 144.6L904.8 145.4L905.4 145.4L906.0 147.3L906.6 147.2L907.2 148.0L907.8 148.3L908.4 149.1L909.0 150.4L909.6 151.2L910.2 151.8L910.8 152.7L911.4 153.2L912.0 153.5L912.6 154.4L913.2 154.9L913.8 155.3L914.4 156.2L915.0 157.0L915.6 157.1L916.2 157.5L916.8 158.4L917.4 159.5L918.0 159.1L918.6 159.7L919.2 160.2L919.8 161.3L920.4 160.6L921.0 161.9L921.6 162.8L922.2 162.4L922.8 163.8L923.4 163.9L924.0 163.9L924.6 164.7L925.2 164.4L925.8 165.2L926.4 166.6L927.0 166.0L927.6 167.5L928.2 167.1L928.8 167.9L929.4 167.9L930.0 167.3L930.6 168.3L931.2 169.0L931.8 168.8L932.4 169.0L933.0 170.0L933.6 169.9L934.2 169.7L934.8 170.4L935.4 171.3L936.0 171.0L936.6 171.8L937.2 172.3L937.8 172.0L938.4 171.7L939.0 171.9L939.6 172.6L940.2 173.2L940.8 173.2L941.4 173.5L942.0 173.4L942.6 173.9L943.2 173.8L943.8 174.0L944.4 173.8L945.0 173.9L945.6 174.5L946.2 174.5L946.8 174.7L947.4 175.6L948.0 175.4L948.6 176.8L949.2 176.2L949.8 175.8L950.4 176.5L951.0 176.5L951.6 176.3L952.2 177.2L952.8 176.6L953.4 175.8L954.0 177.5L954.6 177.1L955.2 178.2L955.8 177.5L956.4 177.4L957.0 178.7L957.6 177.8L958.2 178.5L958.8 179.2L959.4 178.8L960.0 178.9L960.6 179.2L961.2 179.7L961.8 179.2L962.4 179.9L963.0 180.1L963.6 181.0L964.2 180.1L964.8 180.0L965.4 180.9L966.0 180.6L966.6 181.1L967.2 181.2L967.8 181.8L968.4 181.2L969.0 181.7L969.6 180.8L970.2 181.7L970.8 182.8L971.4 182.1L972.0 182.3L972.6 182.2L973.2 183.1L973.8 183.1L974.4 182.7L975.0 183.6L975.6 183.6L976.2 184.0L976.8 183.6L977.4 184.7L978.0 184.3L978.6 184.2L979.2 184.2L979.8 184.4L980.4 185.0L981.0 184.7L981.6 185.3L982.2 185.2L982.8 185.7L983.4 185.6L984.0 185.3L984.6 184.7L985.2 185.7L985.8 186.0L986.4 185.8L987.0 186.1L987.6 185.8L988.2 185.9L988.8 185.8L989.4 186.8L990.0 186.4L990.6 186.3L991.2 186.0L991.8 186.6L992.4 187.4L993.0 187.0L993.6 186.7L994.2 187.6L994.8 187.7L995.4 187.6L996.0 187.7L996.6 187.9L997.2 187.7L997.8 187.9L998.4 187.4L999.0 188.4L999.6 188.0L1000.2 188.8L1000.8 187.3L1001.4 188.5L1002.0 188.7L1002.6 188.2L1003.2 188.6L1003.8 188.8L1004.4 188.9L1005.0 188.5L1005.6 188.7L1006.2 189.3L1006.8 189.4L1007.4 189.0L1008.0 189.1L1008.6 189.2L1009.2 189.6L1009.8 188.8L1010.4 188.8L1011.0 189.4" fill="none" stroke="#111" stroke-width="1.5" stroke-linejoin="round"/>
<path d="M751.2 12.4L751.8 18.2L752.4 25.6L753.0 33.2L753.6 41.2L754.2 49.3L754.8 57.6L755.4 65.1L756.0 72.8L756.6 77.8L757.2 80.0L757.8 81.5L758.4 83.7L759.0 86.8L759.6 87.9L760.2 88.7L760.8 91.1L761.4 92.3L762.0 93.6L762.6 95.4L763.2 95.8L763.8 100.1L764.4 102.7L765.0 104.1L765.6 107.9L766.2 111.6L766.8 108.9L767.4 110.4L768.0 109.8L768.6 112.3L769.2 112.1L769.8 116.9L770.4 120.0L771.0 120.1L771.6 118.7L772.2 120.6L772.8 121.0L773.4 123.5L774.0 128.9L774.6 126.0L775.2 128.8L775.8 128.7L776.4 125.0L777.0 128.1L777.6 125.9L778.2 130.3L778.8 132.4L779.4 130.3L780.0 134.1L780.6 135.1L781.2 138.3L781.8 137.4L782.4 146.1L783.0 145.5L783.6 142.8L784.2 140.1L784.8 143.6L785.4 140.8L786.0 142.4L786.6 141.7L787.2 144.2L787.8 144.8L788.4 142.8L789.0 144.0L789.6 146.8L790.2 145.3L790.8 148.4L791.4 148.0L792.0 147.8L792.6 146.1L793.2 146.7L793.8 147.3L794.4 146.1L795.0 143.5L795.6 147.5L796.2 145.2L796.8 145.6L797.4 145.9L798.0 150.8L798.6 149.5L799.2 147.0L799.8 145.7L800.4 147.8L801.0 145.1L801.6 144.5L802.2 147.1L802.8 143.8L803.4 144.8L804.0 144.8L804.6 143.5L805.2 143.4L805.8 143.1L806.4 141.1L807.0 139.6L807.6 138.2L808.2 137.8L808.8 136.3L809.4 135.1L810.0 133.1L810.6 131.6L811.2 130.3L811.8 129.2L812.4 128.5L813.0 127.2L813.6 126.5L814.2 126.3L814.8 124.6L815.4 122.6L816.0 123.0L816.6 121.1L817.2 119.1L817.8 118.7L818.4 117.0L819.0 115.7L819.6 114.8L820.2 113.8L820.8 113.5L821.4 113.4L822.0 112.1L822.6 112.0L823.2 112.2L823.8 110.2L824.4 110.5L825.0 109.8L825.6 109.0L826.2 108.8L826.8 109.1L827.4 109.2L828.0 108.8L828.6 109.1L829.2 109.5L829.8 109.5L830.4 109.9L831.0 109.9L831.6 110.2L832.2 111.1L832.8 110.7L833.4 110.8L834.0 111.3L834.6 110.9L835.2 111.7L835.8 112.9L836.4 113.5L837.0 114.6L837.6 114.6L838.2 114.6L838.8 116.8L839.4 116.9L840.0 116.3L840.6 118.0L841.2 117.8L841.8 117.5L842.4 118.6L843.0 119.0L843.6 120.4L844.2 119.7L844.8 120.3L845.4 120.5L846.0 120.7L846.6 120.5L847.2 121.1L847.8 121.5L848.4 121.3L849.0 120.5L849.6 120.4L850.2 121.0L850.8 120.5L851.4 120.5L852.0 120.0L852.6 121.7L853.2 121.2L853.8 120.3L854.4 121.1L855.0 121.3L855.6 119.6L856.2 120.5L856.8 120.6L857.4 121.1L858.0 120.8L858.6 120.9L859.2 121.0L859.8 122.1L860.4 122.3L861.0 121.1L861.6 121.1L862.2 123.0L862.8 121.6L863.4 122.2L864.0 123.0L864.6 123.9L865.2 124.8L865.8 125.2L866.4 125.4L867.0 126.8L867.6 127.5L868.2 129.1L868.8 129.2L869.4 129.6L870.0 131.0L870.6 133.6L871.2 134.0L871.8 134.8L872.4 137.1L873.0 139.0L873.6 141.1L874.2 141.7L874.8 144.0L875.4 145.6L876.0 146.3L876.6 148.0L877.2 150.4L877.8 151.8L878.4 152.9L879.0 154.1L879.6 156.0L880.2 156.8L880.8 158.3L881.4 159.3L882.0 161.1L882.6 162.3L883.2 164.9L883.8 164.6L884.4 166.4L885.0 167.5L885.6 167.8L886.2 169.5L886.8 168.9L887.4 170.9L888.0 172.2L888.6 171.5L889.2 173.0L889.8 174.9L890.4 175.0L891.0 175.3L891.6 176.3L892.2 176.9L892.8 178.1L893.4 178.5L894.0 178.7L894.6 179.1L895.2 179.9L895.8 181.0L896.4 181.0L897.0 181.6L897.6 181.7L898.2 181.5L898.8 182.2L899.4 183.3L900.0 183.4L900.6 183.3L901.2 183.3L901.8 184.5L902.4 184.6L903.0 185.0L903.6 185.3L904.2 185.9L904.8 186.2L905.4 186.8L906.0 187.1L906.6 187.5L907.2 187.4L907.8 187.0L908.4 187.3L909.0 187.7L909.6 187.4L910.2 187.9L910.8 188.3L911.4 187.5L912.0 187.1L912.6 188.6L913.2 188.2L913.8 188.6L914.4 187.7L915.0 189.2L915.6 188.8L916.2 188.4L916.8 188.4L917.4 188.7L918.0 188.6L918.6 188.6L919.2 188.2L919.8 189.4L920.4 188.8L921.0 188.9L921.6 188.9L922.2 187.8L922.8 189.2L923.4 188.8L924.0 188.9L924.6 189.1L925.2 188.6L925.8 189.5L926.4 188.8L927.0 188.7L927.6 188.7L928.2 189.2L928.8 189.5L929.4 188.9L930.0 188.5L930.6 189.7L931.2 188.7L931.8 189.8L932.4 189.2L933.0 188.9L933.6 189.0L934.2 189.5L934.8 189.7L935.4 189.2L936.0 189.8L936.6 190.3L937.2 189.2L937.8 188.8L938.4 188.9L939.0 188.7L939.6 189.1L940.2 189.0L940.8 188.8L941.4 189.7L942.0 188.2L942.6 188.8L943.2 190.4L943.8 189.9L944.4 189.7L945.0 189.7L945.6 190.3L946.2 189.7L946.8 189.5L947.4 188.9L948.0 189.5L948.6 189.2L949.2 189.2L949.8 189.2L950.4 189.5L951.0 189.4L951.6 190.0L952.2 188.9L952.8 189.5L953.4 190.5L954.0 189.6L954.6 190.2L955.2 190.1L955.8 190.2L956.4 190.0L957.0 189.0L957.6 189.5L958.2 189.5L958.8 188.9L959.4 189.4L960.0 189.1L960.6 188.9L961.2 189.8L961.8 189.7L962.4 189.3L963.0 189.2L963.6 189.4L964.2 189.5L964.8 189.5L965.4 189.7L966.0 189.5L966.6 189.9L967.2 190.0L967.8 189.9L968.4 189.4L969.0 189.4L969.6 189.9L970.2 189.6L970.8 189.7L971.4 188.6L972.0 188.5L972.6 189.9L973.2 189.9L973.8 190.4L974.4 190.1L975.0 189.9L975.6 189.8L976.2 189.1L976.8 190.2L977.4 189.5L978.0 190.0L978.6 189.9L979.2 189.9L979.8 190.2L980.4 189.6L981.0 189.6L981.6 189.4L982.2 189.6L982.8 190.6L983.4 189.6L984.0 190.4L984.6 190.2L985.2 190.2L985.8 190.2L986.4 189.3L987.0 190.0L987.6 190.6L988.2 189.5L988.8 189.8L989.4 189.5L990.0 190.0L990.6 189.3L991.2 190.6L991.8 189.7L992.4 189.1L993.0 190.7L993.6 190.3L994.2 190.1L994.8 190.1L995.4 189.7L996.0 189.8L996.6 190.2L997.2 190.3L997.8 190.3L998.4 190.0L999.0 189.7L999.6 189.8L1000.2 190.4L1000.8 190.6L1001.4 189.7L1002.0 189.7L1002.6 190.5L1003.2 190.2L1003.8 190.2L1004.4 189.3L1005.0 189.7L1005.6 189.6L1006.2 190.0L1006.8 189.1L1007.4 190.5L1008.0 190.0L1008.6 190.1L1009.2 189.3L1009.8 189.9L1010.4 190.5L1011.0 189.1" fill="none" stroke="#111" stroke-width="1.5" stroke-linejoin="round"/>
<line x1="748.3" y1="293.1" x2="748.3" y2="480.5" stroke="#222" stroke-width="1.3" />
<line x1="747.8" y1="480.0" x2="995.5" y2="480.0" stroke="#333" stroke-width="1.3" />
<line x1="748.3" y1="293.1" x2="853.0" y2="293.1" stroke="#333" stroke-width="1.3" />
<line x1="853.0" y1="293.1" x2="995.0" y2="293.1" stroke="#cfcfcf" stroke-width="1.0" />
<line x1="995.0" y1="293.1" x2="995.0" y2="480.0" stroke="#444" stroke-width="1.3" />
<line x1="992.3" y1="294.1" x2="992.3" y2="375.5" stroke="#555" stroke-width="1.0" />
<line x1="926.9" y1="393.0" x2="960.9" y2="393.0" stroke="#e4e4e4" stroke-width="0.8" stroke-dasharray="2 3"/>
<line x1="745.0" y1="319.4" x2="748.3" y2="319.4" stroke="#333" stroke-width="1.3" />
<text x="723.0" y="325.8" font-size="15.0" text-anchor="middle" font-family="&apos;Liberation Serif&apos;, serif" fill="#111" >30000</text>
<line x1="745.0" y1="371.1" x2="748.3" y2="371.1" stroke="#333" stroke-width="1.3" />
<text x="722.8" y="376.8" font-size="15.0" text-anchor="middle" font-family="&apos;Liberation Serif&apos;, serif" fill="#111" >20000</text>
<line x1="745.0" y1="422.9" x2="748.3" y2="422.9" stroke="#333" stroke-width="1.3" />
<text x="723.4" y="427.6" font-size="15.0" text-anchor="middle" font-family="&apos;Liberation Serif&apos;, serif" fill="#111" >10000</text>
<line x1="745.0" y1="474.6" x2="748.3" y2="474.6" stroke="#333" stroke-width="1.3" />
<text x="731.1" y="480.7" font-size="15.0" text-anchor="middle" font-family="&apos;Liberation Serif&apos;, serif" fill="#111" >0</text>
<line x1="745.8" y1="345.2" x2="748.3" y2="345.2" stroke="#333" stroke-width="1.0" />
<line x1="745.8" y1="397.0" x2="748.3" y2="397.0" stroke="#333" stroke-width="1.0" />
<line x1="745.8" y1="448.7" x2="748.3" y2="448.7" stroke="#333" stroke-width="1.0" />
<line x1="748.5" y1="480.0" x2="748.5" y2="484.0" stroke="#333" stroke-width="1.2" />
<line x1="789.6" y1="477.0" x2="789.6" y2="480.0" stroke="#333" stroke-width="1.0" />
<line x1="830.8" y1="480.0" x2="830.8" y2="484.0" stroke="#333" stroke-width="1.2" />
<line x1="872.0" y1="477.0" x2="872.0" y2="480.0" stroke="#333" stroke-width="1.0" />
<line x1="913.1" y1="480.0" x2="913.1" y2="484.0" stroke="#333" stroke-width="1.2" />
<line x1="954.2" y1="477.0" x2="954.2" y2="480.0" stroke="#333" stroke-width="1.0" />
<line x1="995.4" y1="480.0" x2="995.4" y2="484.0" stroke="#333" stroke-width="1.2" />
<text x="749.3" y="498.0" font-size="14.6" text-anchor="middle" font-family="&apos;Liberation Serif&apos;, serif" fill="#111" >500</text>
<text x="831.6" y="498.0" font-size="14.6" text-anchor="middle" font-family="&apos;Liberation Serif&apos;, serif" fill="#111" >600</text>
<text x="913.9" y="498.0" font-size="14.6" text-anchor="middle" font-family="&apos;Liberation Serif&apos;, serif" fill="#111" >700</text>
<text x="822.3" y="517.0" font-size="16.8" text-anchor="start" font-family="&apos;Liberation Serif&apos;, serif" fill="#111" textLength="74.3" lengthAdjust="spacingAndGlyphs" stroke="#111" stroke-width="0.35">Wavelength</text>
<text x="900.5" y="517.0" font-size="15.6" text-anchor="start" font-family="&apos;Liberation Serif&apos;, serif" fill="#111" textLength="26.0" lengthAdjust="spacingAndGlyphs" stroke="#111" stroke-width="0.35">(nm)</text>
<text x="0" y="0" font-size="15.4" text-anchor="middle" font-family="&apos;Liberation Serif&apos;, serif" fill="#111" textLength="96.0" lengthAdjust="spacingAndGlyphs" transform="translate(697.6 373.2) rotate(-90)">Intensity (a. u.)</text>
<text x="769.1" y="352.5" font-size="14.3" text-anchor="middle" font-family="&apos;Liberation Sans&apos;, sans-serif" fill="#111" >(f)</text>
<text x="810.4" y="320.4" font-size="14.7" text-anchor="middle" font-family="&apos;Liberation Sans&apos;, sans-serif" fill="#111" >2</text>
<text x="810.0" y="437.7" font-size="14.9" text-anchor="middle" font-family="&apos;Liberation Sans&apos;, sans-serif" fill="#111" >1</text>
<path d="M748.5 472.4L749.2 472.6L749.9 472.3L750.6 471.4L751.3 471.2L752.0 470.8L752.7 470.9L753.4 470.4L754.1 470.3L754.8 469.1L755.5 470.0L756.2 469.0L756.9 469.0L757.6 468.3L758.3 467.9L759.0 467.8L759.7 467.6L760.4 466.8L761.1 466.4L761.8 466.3L762.5 465.3L763.2 464.6L763.9 464.8L764.6 464.0L765.3 463.0L766.0 462.9L766.7 462.6L767.4 461.8L768.1 461.2L768.8 461.2L769.5 461.0L770.2 460.1L770.9 459.4L771.6 459.3L772.3 459.0L773.0 458.2L773.7 458.0L774.4 457.7L775.1 456.8L775.8 456.1L776.5 456.1L777.2 455.6L777.9 455.4L778.6 454.1L779.3 453.8L780.0 453.3L780.7 452.5L781.4 452.7L782.1 452.4L782.8 451.6L783.5 451.9L784.2 451.3L784.9 450.8L785.6 450.4L786.3 450.2L787.0 449.1L787.7 449.4L788.4 449.1L789.1 447.9L789.8 448.4L790.5 447.8L791.2 447.9L791.9 447.1L792.6 447.0L793.3 446.8L794.0 446.1L794.7 446.3L795.4 445.8L796.1 445.8L796.8 445.2L797.5 445.5L798.2 445.2L798.9 444.7L799.6 444.9L800.3 444.9L801.0 445.0L801.7 443.7L802.4 444.4L803.1 444.2L803.8 443.9L804.5 443.5L805.2 444.2L805.9 443.2L806.6 443.8L807.3 444.0L808.0 443.0L808.7 443.4L809.4 443.1L810.1 443.6L810.8 444.1L811.5 444.3L812.2 443.1L812.9 443.6L813.6 444.1L814.3 444.5L815.0 444.1L815.7 443.8L816.4 444.3L817.1 444.3L817.8 444.4L818.5 444.4L819.2 445.0L819.9 445.1L820.6 445.2L821.3 445.4L822.0 445.2L822.7 445.8L823.4 446.6L824.1 446.4L824.8 446.3L825.5 447.6L826.2 447.6L826.9 448.5L827.6 448.1L828.3 448.3L829.0 448.3L829.7 449.6L830.4 450.4L831.1 449.6L831.8 450.0L832.5 450.8L833.2 450.6L833.9 451.2L834.6 451.5L835.3 452.0L836.0 452.7L836.7 452.6L837.4 453.3L838.1 453.2L838.8 453.8L839.5 453.4L840.2 454.0L840.9 455.1L841.6 455.0L842.3 455.8L843.0 456.1L843.7 456.7L844.4 456.9L845.1 457.3L845.8 457.2L846.5 457.4L847.2 457.7L847.9 458.0L848.6 458.1L849.3 458.6L850.0 459.0L850.7 459.4L851.4 459.5L852.1 459.2L852.8 460.1L853.5 460.4L854.2 461.0L854.9 461.1L855.6 460.9L856.3 461.1L857.0 462.3L857.7 462.1L858.4 462.8L859.1 463.1L859.8 462.3L860.5 463.0L861.2 463.3L861.9 463.6L862.6 463.9L863.3 464.1L864.0 464.4L864.7 464.1L865.4 464.8L866.1 464.9L866.8 465.6L867.5 465.6L868.2 466.3L868.9 466.7L869.6 466.8L870.3 467.1L871.0 467.3L871.7 467.3L872.4 467.7L873.1 467.8L873.8 468.3L874.5 468.4L875.2 468.8L875.9 468.3L876.6 469.2L877.3 468.8L878.0 468.9L878.7 469.3L879.4 469.3L880.1 469.7L880.8 469.6L881.5 469.5L882.2 469.8L882.9 470.6L883.6 470.3L884.3 470.0L885.0 470.6L885.7 470.1L886.4 471.4L887.1 470.4L887.8 471.2L888.5 471.3L889.2 470.7L889.9 471.4L890.6 471.7L891.3 471.6L892.0 471.6L892.7 472.0L893.4 471.8L894.1 471.9L894.8 471.8L895.5 472.1L896.2 471.6L896.9 472.3L897.6 471.9L898.3 471.7L899.0 472.3L899.7 472.8L900.4 472.6L901.1 472.1L901.8 472.6L902.5 472.3L903.2 472.4L903.9 472.5L904.6 471.7L905.3 472.7L906.0 472.3L906.7 472.4L907.4 472.2L908.1 472.2L908.8 472.5L909.5 473.1L910.2 473.5L910.9 472.9L911.6 473.3L912.3 472.9L913.0 472.4L913.7 473.1L914.4 473.2L915.1 473.0L915.8 473.3L916.5 473.4L917.2 472.9L917.9 472.7L918.6 473.2L919.3 473.2L920.0 473.2L920.7 473.7L921.4 474.0L922.1 473.3L922.8 473.7L923.5 473.8L924.2 473.7L924.9 473.9L925.6 473.4L926.3 473.8L927.0 474.3L927.7 473.9L928.4 473.4L929.1 473.9L929.8 474.1L930.5 473.8L931.2 473.5L931.9 474.3L932.6 473.3L933.3 473.9L934.0 473.8L934.7 473.4L935.4 474.2L936.1 474.0L936.8 473.4L937.5 474.1L938.2 473.7L938.9 473.2L939.6 473.7L940.3 474.0L941.0 474.2L941.7 474.0L942.4 474.0L943.1 474.2L943.8 473.9L944.5 474.4L945.2 474.1L945.9 474.2L946.6 474.3L947.3 473.7L948.0 473.9L948.7 474.6L949.4 474.2L950.1 474.0L950.8 474.3L951.5 474.0L952.2 474.3L952.9 474.0L953.6 474.3L954.3 473.7L955.0 474.7L955.7 474.1L956.4 473.7L957.1 474.2L957.8 474.1L958.5 474.3L959.2 473.9L959.9 474.4L960.6 475.6L961.3 473.9L962.0 474.4L962.7 474.2L963.4 474.4L964.1 473.7L964.8 474.0L965.5 474.5L966.2 474.4L966.9 475.0L967.6 474.2L968.3 474.5L969.0 475.5L969.7 474.2L970.4 474.1L971.1 474.4L971.8 474.5L972.5 474.8L973.2 474.5L973.9 474.2L974.6 474.6L975.3 475.4L976.0 475.0L976.7 473.6L977.4 474.5L978.1 474.2L978.8 474.8L979.5 474.5L980.2 475.2L980.9 474.9L981.6 474.9L982.3 474.7L983.0 474.6L983.7 474.7L984.4 475.1L985.1 474.8L985.8 474.5L986.5 475.1L987.2 474.7L987.9 474.6L988.6 474.4L989.3 474.5L990.0 474.4L990.7 473.7L991.4 475.0L992.1 474.9L992.8 474.6L993.5 475.1" fill="none" stroke="#111" stroke-width="1.5" stroke-linejoin="round"/>
<path d="M748.5 469.2L749.2 467.2L749.9 468.2L750.6 467.4L751.3 467.4L752.0 466.5L752.7 466.4L753.4 465.1L754.1 464.2L754.8 463.9L755.5 463.1L756.2 462.0L756.9 461.1L757.6 460.4L758.3 459.4L759.0 457.8L759.7 456.7L760.4 455.0L761.1 454.9L761.8 452.8L762.5 451.9L763.2 450.0L763.9 448.9L764.6 447.1L765.3 444.9L766.0 443.6L766.7 440.9L767.4 439.7L768.1 436.7L768.8 435.2L769.5 433.2L770.2 430.6L770.9 428.0L771.6 425.5L772.3 423.2L773.0 421.3L773.7 418.9L774.4 416.0L775.1 413.2L775.8 411.3L776.5 407.9L777.2 405.6L777.9 403.0L778.6 401.0L779.3 398.3L780.0 395.9L780.7 393.5L781.4 390.9L782.1 389.1L782.8 387.2L783.5 384.5L784.2 382.5L784.9 380.1L785.6 378.4L786.3 376.1L787.0 374.0L787.7 371.6L788.4 369.9L789.1 367.0L789.8 364.9L790.5 362.6L791.2 360.9L791.9 358.4L792.6 356.4L793.3 354.9L794.0 353.1L794.7 351.0L795.4 348.0L796.1 346.7L796.8 344.8L797.5 343.0L798.2 341.6L798.9 340.7L799.6 338.4L800.3 336.7L801.0 335.8L801.7 334.1L802.4 332.7L803.1 331.1L803.8 330.1L804.5 329.3L805.2 327.7L805.9 327.2L806.6 327.5L807.3 326.9L808.0 325.9L808.7 325.3L809.4 325.3L810.1 324.8L810.8 325.1L811.5 325.9L812.2 325.5L812.9 326.1L813.6 325.8L814.3 326.3L815.0 327.0L815.7 326.4L816.4 327.1L817.1 327.5L817.8 328.1L818.5 329.0L819.2 329.2L819.9 329.0L820.6 330.0L821.3 330.5L822.0 331.3L822.7 333.3L823.4 333.6L824.1 335.6L824.8 337.1L825.5 339.5L826.2 341.3L826.9 343.0L827.6 344.6L828.3 346.8L829.0 347.8L829.7 349.6L830.4 351.1L831.1 353.7L831.8 354.9L832.5 356.4L833.2 358.4L833.9 361.1L834.6 362.0L835.3 364.0L836.0 365.7L836.7 367.2L837.4 368.8L838.1 370.7L838.8 372.4L839.5 373.5L840.2 377.0L840.9 378.1L841.6 379.6L842.3 381.2L843.0 382.8L843.7 385.2L844.4 386.5L845.1 388.5L845.8 389.6L846.5 392.0L847.2 394.3L847.9 395.3L848.6 397.4L849.3 398.9L850.0 401.1L850.7 402.8L851.4 404.3L852.1 405.8L852.8 407.8L853.5 409.5L854.2 410.9L854.9 413.0L855.6 414.6L856.3 415.8L857.0 417.7L857.7 420.4L858.4 421.2L859.1 422.5L859.8 424.9L860.5 425.4L861.2 426.2L861.9 427.9L862.6 429.5L863.3 431.5L864.0 433.2L864.7 433.4L865.4 435.9L866.1 436.3L866.8 438.0L867.5 439.3L868.2 440.4L868.9 441.4L869.6 442.6L870.3 443.2L871.0 444.7L871.7 446.1L872.4 447.1L873.1 448.7L873.8 449.2L874.5 450.1L875.2 451.4L875.9 451.9L876.6 452.2L877.3 452.7L878.0 454.8L878.7 455.2L879.4 456.1L880.1 456.3L880.8 457.2L881.5 458.4L882.2 458.5L882.9 458.5L883.6 459.3L884.3 460.5L885.0 460.1L885.7 460.1L886.4 460.6L887.1 461.4L887.8 462.6L888.5 462.7L889.2 462.8L889.9 463.0L890.6 463.8L891.3 464.1L892.0 464.3L892.7 464.8L893.4 465.0L894.1 466.2L894.8 465.1L895.5 466.4L896.2 466.3L896.9 467.3L897.6 467.3L898.3 467.8L899.0 468.2L899.7 468.3L900.4 468.9L901.1 468.4L901.8 469.4L902.5 469.3L903.2 469.8L903.9 470.5L904.6 470.6L905.3 471.1L906.0 469.9L906.7 470.6L907.4 471.5L908.1 470.9L908.8 471.5L909.5 472.3L910.2 472.1L910.9 471.6L911.6 472.2L912.3 472.4L913.0 472.2L913.7 472.3L914.4 472.5L915.1 472.0L915.8 472.6L916.5 472.3L917.2 472.9L917.9 473.0L918.6 472.6L919.3 473.2L920.0 473.1L920.7 473.1L921.4 473.4L922.1 473.1L922.8 473.2L923.5 473.3L924.2 473.3L924.9 473.8L925.6 472.6L926.3 473.4L927.0 472.8L927.7 473.4L928.4 473.7L929.1 473.6L929.8 474.0L930.5 473.8L931.2 472.7L931.9 473.3L932.6 474.3L933.3 474.3L934.0 473.8L934.7 473.3L935.4 474.6L936.1 473.1L936.8 474.0L937.5 473.9L938.2 474.0L938.9 473.5L939.6 473.8L940.3 474.3L941.0 473.8L941.7 473.5L942.4 474.0L943.1 474.0L943.8 474.0L944.5 473.7L945.2 474.2L945.9 474.0L946.6 473.6L947.3 474.2L948.0 474.1L948.7 474.1L949.4 473.5L950.1 473.9L950.8 474.3L951.5 474.5L952.2 474.3L952.9 474.2L953.6 474.4L954.3 474.5L955.0 474.8L955.7 474.4L956.4 474.0L957.1 474.4L957.8 473.6L958.5 474.3L959.2 474.1L959.9 474.3L960.6 474.5L961.3 474.3L962.0 473.8L962.7 474.2L963.4 474.1L964.1 474.3L964.8 474.5L965.5 474.0L966.2 474.6L966.9 474.9L967.6 474.3L968.3 474.7L969.0 473.9L969.7 474.2L970.4 474.8L971.1 473.8L971.8 474.3L972.5 474.2L973.2 474.9L973.9 474.9L974.6 474.3L975.3 474.6L976.0 473.6L976.7 474.8L977.4 474.7L978.1 475.0L978.8 473.7L979.5 474.7L980.2 474.4L980.9 473.7L981.6 474.3L982.3 474.6L983.0 474.9L983.7 474.7L984.4 474.4L985.1 474.8L985.8 474.6L986.5 474.4L987.2 474.3L987.9 474.7L988.6 474.7L989.3 475.3L990.0 474.5L990.7 475.2L991.4 474.8L992.1 475.1L992.8 474.4L993.5 474.4" fill="none" stroke="#111" stroke-width="1.5" stroke-linejoin="round"/>
</svg></body></html>
